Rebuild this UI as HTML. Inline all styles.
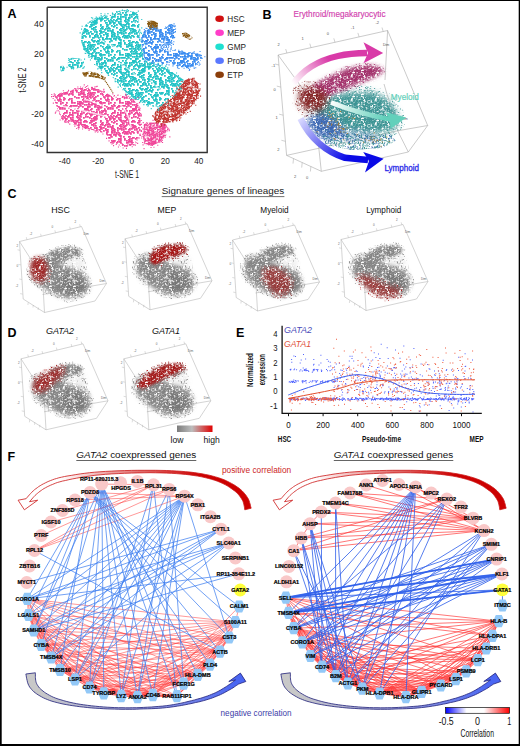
<!DOCTYPE html>
<html><head><meta charset="utf-8"><style>
html,body{margin:0;padding:0;background:#fff;width:520px;height:746px;overflow:hidden}
svg{display:block}
</style></head><body>
<svg width="520" height="746" viewBox="0 0 520 746" font-family="Liberation Sans, sans-serif">
<rect x="0" y="0" width="520" height="746" fill="#fff"/>
<defs><pattern id="pd" width="24" height="24" patternUnits="userSpaceOnUse"><path fill="#fff" d="M12.3 22.8h1.2v1.2h-1.2zM12.3 -1.2h1.2v1.2h-1.2zM3.5 22.8h1.2v1.2h-1.2zM7.5 10.2h1.2v1.2h-1.2zM19.9 9.8h1.2v1.2h-1.2zM13.2 0.7h1.2v1.2h-1.2zM18.1 12.9h1.2v1.2h-1.2zM7.9 18.9h1.2v1.2h-1.2zM7.3 10.9h1.2v1.2h-1.2zM3.2 9.7h1.2v1.2h-1.2zM4.9 6.3h1.2v1.2h-1.2zM18.0 6.7h1.2v1.2h-1.2zM11.6 23.5h1.2v1.2h-1.2zM11.6 -0.5h1.2v1.2h-1.2zM23.1 17.4h1.2v1.2h-1.2zM-0.9 17.4h1.2v1.2h-1.2zM13.0 6.6h1.2v1.2h-1.2zM3.9 23.3h1.2v1.2h-1.2zM3.9 -0.7h1.2v1.2h-1.2zM12.4 2.8h1.2v1.2h-1.2zM15.0 18.6h1.2v1.2h-1.2zM14.7 22.0h1.2v1.2h-1.2zM1.0 12.7h1.2v1.2h-1.2zM11.0 1.5h1.2v1.2h-1.2zM15.4 20.5h1.2v1.2h-1.2zM14.2 6.2h1.2v1.2h-1.2zM20.2 12.2h1.2v1.2h-1.2zM12.3 18.1h1.2v1.2h-1.2zM3.6 19.7h1.2v1.2h-1.2zM16.4 18.9h1.2v1.2h-1.2zM4.6 19.3h1.2v1.2h-1.2zM4.6 2.0h1.2v1.2h-1.2zM20.5 20.7h1.2v1.2h-1.2zM21.0 11.3h1.2v1.2h-1.2zM6.6 0.2h1.2v1.2h-1.2zM15.5 17.3h1.2v1.2h-1.2zM20.1 6.8h1.2v1.2h-1.2zM5.2 15.3h1.2v1.2h-1.2zM19.3 23.1h1.2v1.2h-1.2zM19.3 -0.9h1.2v1.2h-1.2zM3.6 11.6h1.2v1.2h-1.2zM21.5 10.1h1.2v1.2h-1.2zM14.1 0.6h1.2v1.2h-1.2zM16.2 22.1h1.2v1.2h-1.2zM19.8 21.3h1.2v1.2h-1.2zM15.8 5.9h1.2v1.2h-1.2zM18.4 5.1h1.2v1.2h-1.2zM20.0 1.5h1.2v1.2h-1.2zM19.8 3.9h1.2v1.2h-1.2zM9.0 7.6h1.2v1.2h-1.2zM16.6 4.3h1.2v1.2h-1.2zM9.5 0.1h1.2v1.2h-1.2zM6.3 10.1h1.2v1.2h-1.2zM2.5 15.2h1.2v1.2h-1.2zM9.1 17.4h1.2v1.2h-1.2zM15.7 10.3h1.2v1.2h-1.2zM20.8 15.2h1.2v1.2h-1.2zM19.4 8.2h1.2v1.2h-1.2zM13.0 4.7h1.2v1.2h-1.2zM23.9 5.8h1.2v1.2h-1.2zM-0.1 5.8h1.2v1.2h-1.2zM6.2 1.8h1.2v1.2h-1.2zM6.2 18.3h1.2v1.2h-1.2zM16.7 3.1h1.2v1.2h-1.2zM9.0 10.1h1.2v1.2h-1.2zM16.0 10.9h1.2v1.2h-1.2zM14.1 20.2h1.2v1.2h-1.2zM17.4 8.8h1.2v1.2h-1.2zM10.8 8.8h1.2v1.2h-1.2zM2.6 4.9h1.2v1.2h-1.2zM6.8 7.5h1.2v1.2h-1.2zM7.5 13.8h1.2v1.2h-1.2zM23.3 18.6h1.2v1.2h-1.2zM-0.7 18.6h1.2v1.2h-1.2zM19.0 18.2h1.2v1.2h-1.2zM14.3 22.0h1.2v1.2h-1.2zM16.6 12.0h1.2v1.2h-1.2zM1.9 11.7h1.2v1.2h-1.2zM5.1 3.2h1.2v1.2h-1.2zM12.1 18.8h1.2v1.2h-1.2zM7.1 18.5h1.2v1.2h-1.2zM12.6 3.6h1.2v1.2h-1.2zM23.2 9.6h1.2v1.2h-1.2zM-0.8 9.6h1.2v1.2h-1.2zM7.1 20.3h1.2v1.2h-1.2zM3.0 17.6h1.2v1.2h-1.2zM4.5 9.4h1.2v1.2h-1.2zM5.6 20.2h1.2v1.2h-1.2zM9.4 23.4h1.2v1.2h-1.2zM9.4 -0.6h1.2v1.2h-1.2zM15.0 16.6h1.2v1.2h-1.2zM12.5 7.4h1.2v1.2h-1.2zM9.5 22.6h1.2v1.2h-1.2zM4.8 23.7h1.2v1.2h-1.2zM4.8 -0.3h1.2v1.2h-1.2zM18.2 8.6h1.2v1.2h-1.2zM15.4 9.1h1.2v1.2h-1.2zM9.2 12.1h1.2v1.2h-1.2zM0.4 11.8h1.2v1.2h-1.2zM23.3 6.9h1.2v1.2h-1.2zM-0.7 6.9h1.2v1.2h-1.2zM18.0 10.6h1.2v1.2h-1.2zM5.0 21.7h1.2v1.2h-1.2zM0.4 7.3h1.2v1.2h-1.2zM24.0 6.3h1.2v1.2h-1.2zM-0.0 6.3h1.2v1.2h-1.2zM20.4 14.5h1.2v1.2h-1.2zM19.3 15.1h1.2v1.2h-1.2zM8.7 18.3h1.2v1.2h-1.2zM0.6 10.7h1.2v1.2h-1.2zM8.9 11.4h1.2v1.2h-1.2zM3.1 5.3h1.2v1.2h-1.2zM13.5 9.3h1.2v1.2h-1.2zM19.0 14.5h1.2v1.2h-1.2zM20.7 17.6h1.2v1.2h-1.2zM14.4 6.9h1.2v1.2h-1.2zM18.8 6.0h1.2v1.2h-1.2zM1.8 23.1h1.2v1.2h-1.2zM1.8 -0.9h1.2v1.2h-1.2zM13.0 18.6h1.2v1.2h-1.2zM12.7 14.7h1.2v1.2h-1.2zM0.8 4.5h1.2v1.2h-1.2zM16.2 13.7h1.2v1.2h-1.2zM3.8 22.8h1.2v1.2h-1.2zM3.8 -1.2h1.2v1.2h-1.2zM3.7 12.2h1.2v1.2h-1.2zM3.5 17.2h1.2v1.2h-1.2zM6.6 3.2h1.2v1.2h-1.2zM1.1 4.2h1.2v1.2h-1.2zM4.6 12.9h1.2v1.2h-1.2zM10.8 23.0h1.2v1.2h-1.2zM10.8 -1.0h1.2v1.2h-1.2zM22.9 19.1h1.2v1.2h-1.2zM-1.1 19.1h1.2v1.2h-1.2zM16.1 20.3h1.2v1.2h-1.2zM22.5 0.5h1.2v1.2h-1.2zM2.8 8.6h1.2v1.2h-1.2zM2.2 14.4h1.2v1.2h-1.2zM6.2 6.3h1.2v1.2h-1.2zM6.9 2.3h1.2v1.2h-1.2zM17.8 15.6h1.2v1.2h-1.2zM14.6 0.8h1.2v1.2h-1.2zM10.3 16.4h1.2v1.2h-1.2zM3.8 9.3h1.2v1.2h-1.2zM0.5 2.0h1.2v1.2h-1.2zM5.2 10.0h1.2v1.2h-1.2zM11.1 21.2h1.2v1.2h-1.2zM7.6 0.5h1.2v1.2h-1.2zM19.8 1.5h1.2v1.2h-1.2zM2.2 23.1h1.2v1.2h-1.2zM2.2 -0.9h1.2v1.2h-1.2zM18.1 8.1h1.2v1.2h-1.2zM3.2 9.3h1.2v1.2h-1.2zM8.1 21.0h1.2v1.2h-1.2zM10.1 2.0h1.2v1.2h-1.2zM22.2 14.9h1.2v1.2h-1.2zM2.8 2.7h1.2v1.2h-1.2zM11.2 2.2h1.2v1.2h-1.2zM15.2 14.8h1.2v1.2h-1.2zM0.8 19.4h1.2v1.2h-1.2zM18.9 22.0h1.2v1.2h-1.2zM16.1 16.6h1.2v1.2h-1.2zM3.9 0.6h1.2v1.2h-1.2zM1.6 23.1h1.2v1.2h-1.2zM1.6 -0.9h1.2v1.2h-1.2zM15.5 22.7h1.2v1.2h-1.2zM8.4 18.1h1.2v1.2h-1.2zM1.6 4.0h1.2v1.2h-1.2zM6.7 13.2h1.2v1.2h-1.2zM13.4 12.0h1.2v1.2h-1.2zM10.2 13.8h1.2v1.2h-1.2zM23.2 11.0h1.2v1.2h-1.2zM-0.8 11.0h1.2v1.2h-1.2zM20.1 1.3h1.2v1.2h-1.2zM9.3 13.5h1.2v1.2h-1.2zM14.9 6.0h1.2v1.2h-1.2zM9.6 22.7h1.2v1.2h-1.2zM15.6 14.0h1.2v1.2h-1.2zM1.6 1.3h1.2v1.2h-1.2zM5.1 3.3h1.2v1.2h-1.2zM23.6 0.1h1.2v1.2h-1.2zM-0.4 0.1h1.2v1.2h-1.2zM8.8 1.4h1.2v1.2h-1.2zM15.4 1.1h1.2v1.2h-1.2zM1.6 1.9h1.2v1.2h-1.2zM6.5 13.8h1.2v1.2h-1.2zM19.3 6.4h1.2v1.2h-1.2zM6.8 19.8h1.2v1.2h-1.2zM17.9 3.0h1.2v1.2h-1.2zM19.4 20.0h1.2v1.2h-1.2zM4.3 15.0h1.2v1.2h-1.2zM4.7 5.8h1.2v1.2h-1.2zM11.9 12.5h1.2v1.2h-1.2zM11.5 13.0h1.2v1.2h-1.2zM5.1 18.7h1.2v1.2h-1.2zM6.7 21.9h1.2v1.2h-1.2zM12.4 7.3h1.2v1.2h-1.2zM4.2 11.6h1.2v1.2h-1.2zM9.0 15.0h1.2v1.2h-1.2zM12.0 0.9h1.2v1.2h-1.2zM20.0 1.2h1.2v1.2h-1.2zM19.9 19.5h1.2v1.2h-1.2zM22.2 15.9h1.2v1.2h-1.2zM3.9 10.6h1.2v1.2h-1.2zM10.5 15.2h1.2v1.2h-1.2zM9.1 16.2h1.2v1.2h-1.2zM4.9 8.5h1.2v1.2h-1.2zM13.0 10.3h1.2v1.2h-1.2zM2.9 23.2h1.2v1.2h-1.2zM2.9 -0.8h1.2v1.2h-1.2zM16.6 20.0h1.2v1.2h-1.2zM8.6 22.7h1.2v1.2h-1.2zM19.5 23.5h1.2v1.2h-1.2zM19.5 -0.5h1.2v1.2h-1.2zM4.7 11.5h1.2v1.2h-1.2zM9.3 14.7h1.2v1.2h-1.2zM6.0 2.4h1.2v1.2h-1.2zM11.4 15.3h1.2v1.2h-1.2zM9.2 23.7h1.2v1.2h-1.2zM9.2 -0.3h1.2v1.2h-1.2zM9.7 7.2h1.2v1.2h-1.2zM19.5 11.2h1.2v1.2h-1.2zM6.6 6.9h1.2v1.2h-1.2zM22.7 23.1h1.2v1.2h-1.2zM22.7 -0.9h1.2v1.2h-1.2zM15.5 6.7h1.2v1.2h-1.2zM17.1 5.2h1.2v1.2h-1.2zM7.7 13.0h1.2v1.2h-1.2zM9.6 8.4h1.2v1.2h-1.2zM23.4 4.1h1.2v1.2h-1.2zM-0.6 4.1h1.2v1.2h-1.2zM14.7 0.9h1.2v1.2h-1.2zM2.2 5.0h1.2v1.2h-1.2zM23.8 17.4h1.2v1.2h-1.2zM-0.2 17.4h1.2v1.2h-1.2zM20.8 1.2h1.2v1.2h-1.2zM16.4 10.6h1.2v1.2h-1.2zM10.0 17.0h1.2v1.2h-1.2zM7.4 12.3h1.2v1.2h-1.2zM6.3 9.4h1.2v1.2h-1.2zM12.8 3.8h1.2v1.2h-1.2zM6.6 10.1h1.2v1.2h-1.2zM11.3 19.2h1.2v1.2h-1.2zM15.4 13.5h1.2v1.2h-1.2zM20.9 4.7h1.2v1.2h-1.2zM2.5 9.4h1.2v1.2h-1.2zM3.3 13.3h1.2v1.2h-1.2zM13.8 3.2h1.2v1.2h-1.2zM17.2 13.4h1.2v1.2h-1.2zM10.2 22.0h1.2v1.2h-1.2zM20.5 5.3h1.2v1.2h-1.2zM4.0 22.0h1.2v1.2h-1.2zM3.8 18.2h1.2v1.2h-1.2zM7.5 8.7h1.2v1.2h-1.2zM13.3 22.2h1.2v1.2h-1.2zM0.0 3.9h1.2v1.2h-1.2zM17.3 9.5h1.2v1.2h-1.2zM6.9 23.1h1.2v1.2h-1.2zM6.9 -0.9h1.2v1.2h-1.2zM6.3 17.1h1.2v1.2h-1.2zM23.1 18.3h1.2v1.2h-1.2zM-0.9 18.3h1.2v1.2h-1.2zM17.0 17.4h1.2v1.2h-1.2zM19.3 6.5h1.2v1.2h-1.2zM15.0 19.3h1.2v1.2h-1.2zM21.3 21.7h1.2v1.2h-1.2zM21.7 2.3h1.2v1.2h-1.2zM9.0 11.0h1.2v1.2h-1.2zM21.4 10.1h1.2v1.2h-1.2zM6.4 0.5h1.2v1.2h-1.2zM6.9 18.7h1.2v1.2h-1.2zM0.5 4.0h1.2v1.2h-1.2zM7.5 12.8h1.2v1.2h-1.2zM8.7 21.2h1.2v1.2h-1.2zM5.0 13.5h1.2v1.2h-1.2zM18.7 22.3h1.2v1.2h-1.2zM21.0 3.3h1.2v1.2h-1.2zM19.0 16.2h1.2v1.2h-1.2zM10.1 0.6h1.2v1.2h-1.2zM4.0 18.0h1.2v1.2h-1.2zM2.0 7.5h1.2v1.2h-1.2zM6.1 17.9h1.2v1.2h-1.2zM8.6 2.1h1.2v1.2h-1.2zM8.9 7.8h1.2v1.2h-1.2zM17.2 7.7h1.2v1.2h-1.2zM16.6 12.9h1.2v1.2h-1.2zM21.3 17.6h1.2v1.2h-1.2zM9.8 11.6h1.2v1.2h-1.2zM11.3 20.9h1.2v1.2h-1.2zM3.3 10.2h1.2v1.2h-1.2zM12.8 10.5h1.2v1.2h-1.2zM14.4 12.0h1.2v1.2h-1.2zM9.9 16.5h1.2v1.2h-1.2zM7.9 14.6h1.2v1.2h-1.2zM17.5 3.1h1.2v1.2h-1.2zM7.8 22.7h1.2v1.2h-1.2zM23.2 23.8h1.2v1.2h-1.2zM23.2 -0.2h1.2v1.2h-1.2zM-0.8 23.8h1.2v1.2h-1.2zM-0.8 -0.2h1.2v1.2h-1.2zM1.0 19.8h1.2v1.2h-1.2zM22.4 21.6h1.2v1.2h-1.2zM17.2 16.2h1.2v1.2h-1.2zM17.3 13.8h1.2v1.2h-1.2zM18.9 12.0h1.2v1.2h-1.2zM5.4 2.3h1.2v1.2h-1.2zM21.8 18.1h1.2v1.2h-1.2zM4.3 19.7h1.2v1.2h-1.2zM7.2 15.3h1.2v1.2h-1.2zM8.5 5.1h1.2v1.2h-1.2zM4.2 1.7h1.2v1.2h-1.2zM1.8 1.7h1.2v1.2h-1.2zM2.2 20.0h1.2v1.2h-1.2zM12.4 3.1h1.2v1.2h-1.2zM12.6 13.0h1.2v1.2h-1.2zM11.9 5.0h1.2v1.2h-1.2zM10.4 20.9h1.2v1.2h-1.2zM9.2 12.1h1.2v1.2h-1.2zM22.3 5.6h1.2v1.2h-1.2zM17.4 11.6h1.2v1.2h-1.2zM18.9 8.6h1.2v1.2h-1.2zM13.0 8.8h1.2v1.2h-1.2zM20.8 22.0h1.2v1.2h-1.2zM15.2 23.5h1.2v1.2h-1.2zM15.2 -0.5h1.2v1.2h-1.2zM17.6 19.9h1.2v1.2h-1.2zM21.5 6.5h1.2v1.2h-1.2zM23.7 9.4h1.2v1.2h-1.2zM-0.3 9.4h1.2v1.2h-1.2zM11.9 4.3h1.2v1.2h-1.2zM19.7 8.1h1.2v1.2h-1.2zM16.5 5.2h1.2v1.2h-1.2zM8.4 9.2h1.2v1.2h-1.2zM5.7 0.8h1.2v1.2h-1.2zM18.5 22.8h1.2v1.2h-1.2zM18.5 -1.2h1.2v1.2h-1.2zM5.4 3.9h1.2v1.2h-1.2zM8.3 2.0h1.2v1.2h-1.2zM15.6 8.8h1.2v1.2h-1.2zM13.5 21.7h1.2v1.2h-1.2zM20.7 22.1h1.2v1.2h-1.2zM22.4 14.2h1.2v1.2h-1.2zM12.1 0.9h1.2v1.2h-1.2zM2.5 12.6h1.2v1.2h-1.2zM20.5 10.4h1.2v1.2h-1.2zM0.1 5.1h1.2v1.2h-1.2zM18.2 3.8h1.2v1.2h-1.2zM4.8 6.9h1.2v1.2h-1.2zM14.6 20.1h1.2v1.2h-1.2zM5.3 14.4h1.2v1.2h-1.2zM12.7 10.7h1.2v1.2h-1.2zM13.9 19.5h1.2v1.2h-1.2zM5.2 11.9h1.2v1.2h-1.2zM2.4 12.3h1.2v1.2h-1.2zM19.0 24.0h1.2v1.2h-1.2zM19.0 -0.0h1.2v1.2h-1.2zM11.4 7.1h1.2v1.2h-1.2zM13.9 8.9h1.2v1.2h-1.2zM2.8 12.6h1.2v1.2h-1.2zM19.2 21.4h1.2v1.2h-1.2zM23.5 8.8h1.2v1.2h-1.2zM-0.5 8.8h1.2v1.2h-1.2zM6.0 2.7h1.2v1.2h-1.2zM10.5 19.4h1.2v1.2h-1.2zM5.6 20.4h1.2v1.2h-1.2zM17.1 4.8h1.2v1.2h-1.2zM15.2 19.7h1.2v1.2h-1.2zM22.4 3.9h1.2v1.2h-1.2zM19.7 18.6h1.2v1.2h-1.2zM5.8 7.1h1.2v1.2h-1.2zM23.0 8.7h1.2v1.2h-1.2zM-1.0 8.7h1.2v1.2h-1.2zM6.9 17.3h1.2v1.2h-1.2zM3.2 11.6h1.2v1.2h-1.2zM8.6 13.1h1.2v1.2h-1.2zM14.5 15.4h1.2v1.2h-1.2zM10.4 21.3h1.2v1.2h-1.2zM20.1 22.4h1.2v1.2h-1.2zM10.7 17.5h1.2v1.2h-1.2zM10.3 6.7h1.2v1.2h-1.2zM15.6 22.7h1.2v1.2h-1.2zM19.3 6.8h1.2v1.2h-1.2zM5.5 18.5h1.2v1.2h-1.2zM16.9 20.7h1.2v1.2h-1.2zM3.5 20.7h1.2v1.2h-1.2zM10.4 6.6h1.2v1.2h-1.2zM8.2 23.8h1.2v1.2h-1.2zM8.2 -0.2h1.2v1.2h-1.2zM22.9 2.0h1.2v1.2h-1.2zM-1.1 2.0h1.2v1.2h-1.2zM7.6 17.3h1.2v1.2h-1.2zM0.8 0.9h1.2v1.2h-1.2zM1.1 20.8h1.2v1.2h-1.2zM8.0 7.6h1.2v1.2h-1.2zM19.0 7.6h1.2v1.2h-1.2zM17.7 8.9h1.2v1.2h-1.2zM7.1 9.3h1.2v1.2h-1.2zM4.0 1.8h1.2v1.2h-1.2zM20.9 20.8h1.2v1.2h-1.2zM11.1 16.5h1.2v1.2h-1.2zM20.7 9.4h1.2v1.2h-1.2zM17.1 18.1h1.2v1.2h-1.2zM1.9 3.3h1.2v1.2h-1.2zM18.0 16.9h1.2v1.2h-1.2zM4.4 19.8h1.2v1.2h-1.2zM19.2 8.0h1.2v1.2h-1.2zM8.2 2.7h1.2v1.2h-1.2zM10.7 2.6h1.2v1.2h-1.2zM13.0 15.0h1.2v1.2h-1.2zM14.0 1.7h1.2v1.2h-1.2zM14.9 18.1h1.2v1.2h-1.2zM3.4 14.3h1.2v1.2h-1.2zM19.7 4.6h1.2v1.2h-1.2zM21.9 23.3h1.2v1.2h-1.2zM21.9 -0.7h1.2v1.2h-1.2zM17.1 20.9h1.2v1.2h-1.2zM6.5 16.0h1.2v1.2h-1.2zM22.2 1.1h1.2v1.2h-1.2zM19.7 5.7h1.2v1.2h-1.2zM19.2 15.4h1.2v1.2h-1.2zM19.2 9.6h1.2v1.2h-1.2zM10.8 22.2h1.2v1.2h-1.2zM1.7 3.7h1.2v1.2h-1.2zM23.3 21.9h1.2v1.2h-1.2zM-0.7 21.9h1.2v1.2h-1.2zM3.5 23.4h1.2v1.2h-1.2zM3.5 -0.6h1.2v1.2h-1.2zM6.4 21.4h1.2v1.2h-1.2zM21.7 0.6h1.2v1.2h-1.2zM0.2 7.8h1.2v1.2h-1.2zM22.3 19.0h1.2v1.2h-1.2zM9.3 20.6h1.2v1.2h-1.2zM7.4 8.3h1.2v1.2h-1.2zM4.6 23.0h1.2v1.2h-1.2zM4.6 -1.0h1.2v1.2h-1.2zM19.3 11.1h1.2v1.2h-1.2zM6.3 23.2h1.2v1.2h-1.2zM6.3 -0.8h1.2v1.2h-1.2zM9.5 5.1h1.2v1.2h-1.2zM10.2 17.3h1.2v1.2h-1.2zM18.5 2.6h1.2v1.2h-1.2zM22.7 16.2h1.2v1.2h-1.2zM1.5 20.1h1.2v1.2h-1.2zM23.3 20.1h1.2v1.2h-1.2zM-0.7 20.1h1.2v1.2h-1.2zM0.2 11.4h1.2v1.2h-1.2zM14.1 21.3h1.2v1.2h-1.2zM12.1 1.9h1.2v1.2h-1.2zM22.4 22.8h1.2v1.2h-1.2zM22.4 -1.2h1.2v1.2h-1.2zM11.7 1.3h1.2v1.2h-1.2zM20.1 17.8h1.2v1.2h-1.2zM23.3 0.2h1.2v1.2h-1.2zM-0.7 0.2h1.2v1.2h-1.2zM10.5 6.8h1.2v1.2h-1.2zM2.6 17.6h1.2v1.2h-1.2zM8.2 0.9h1.2v1.2h-1.2zM3.2 19.3h1.2v1.2h-1.2zM14.5 5.2h1.2v1.2h-1.2zM16.7 3.1h1.2v1.2h-1.2zM16.2 15.7h1.2v1.2h-1.2zM0.1 12.3h1.2v1.2h-1.2zM17.4 18.2h1.2v1.2h-1.2zM16.9 21.2h1.2v1.2h-1.2zM18.1 22.1h1.2v1.2h-1.2zM10.0 0.8h1.2v1.2h-1.2zM4.3 6.9h1.2v1.2h-1.2zM1.0 2.6h1.2v1.2h-1.2zM12.5 6.1h1.2v1.2h-1.2zM6.9 17.8h1.2v1.2h-1.2zM20.5 20.7h1.2v1.2h-1.2zM8.9 17.0h1.2v1.2h-1.2zM20.5 3.6h1.2v1.2h-1.2zM4.8 15.6h1.2v1.2h-1.2zM6.4 4.6h1.2v1.2h-1.2zM8.8 0.4h1.2v1.2h-1.2zM10.5 1.1h1.2v1.2h-1.2zM5.9 5.2h1.2v1.2h-1.2zM7.9 3.0h1.2v1.2h-1.2zM11.3 16.5h1.2v1.2h-1.2zM8.1 22.3h1.2v1.2h-1.2zM20.6 7.3h1.2v1.2h-1.2zM0.9 18.4h1.2v1.2h-1.2zM5.8 8.0h1.2v1.2h-1.2zM13.9 24.0h1.2v1.2h-1.2zM13.9 -0.0h1.2v1.2h-1.2zM7.2 11.2h1.2v1.2h-1.2zM15.1 16.4h1.2v1.2h-1.2zM5.1 14.3h1.2v1.2h-1.2zM13.1 15.8h1.2v1.2h-1.2zM2.8 3.0h1.2v1.2h-1.2zM23.4 19.7h1.2v1.2h-1.2zM-0.6 19.7h1.2v1.2h-1.2zM19.9 22.4h1.2v1.2h-1.2zM23.1 9.4h1.2v1.2h-1.2zM-0.9 9.4h1.2v1.2h-1.2zM18.1 15.4h1.2v1.2h-1.2zM13.4 16.3h1.2v1.2h-1.2zM7.7 20.7h1.2v1.2h-1.2zM9.8 3.6h1.2v1.2h-1.2zM0.3 15.3h1.2v1.2h-1.2zM5.6 22.9h1.2v1.2h-1.2zM5.6 -1.1h1.2v1.2h-1.2zM4.7 7.6h1.2v1.2h-1.2zM23.6 12.5h1.2v1.2h-1.2zM-0.4 12.5h1.2v1.2h-1.2zM22.1 18.8h1.2v1.2h-1.2zM2.9 5.2h1.2v1.2h-1.2zM9.3 21.1h1.2v1.2h-1.2zM8.0 11.1h1.2v1.2h-1.2zM11.5 7.8h1.2v1.2h-1.2zM18.9 1.3h1.2v1.2h-1.2zM5.4 19.8h1.2v1.2h-1.2zM14.8 12.3h1.2v1.2h-1.2zM8.9 3.1h1.2v1.2h-1.2zM11.0 23.7h1.2v1.2h-1.2zM11.0 -0.3h1.2v1.2h-1.2zM14.3 13.8h1.2v1.2h-1.2zM23.8 21.2h1.2v1.2h-1.2zM-0.2 21.2h1.2v1.2h-1.2zM24.0 22.9h1.2v1.2h-1.2zM24.0 -1.1h1.2v1.2h-1.2zM-0.0 22.9h1.2v1.2h-1.2zM-0.0 -1.1h1.2v1.2h-1.2zM16.0 7.3h1.2v1.2h-1.2zM15.1 8.4h1.2v1.2h-1.2zM19.5 3.3h1.2v1.2h-1.2zM11.1 20.2h1.2v1.2h-1.2zM10.9 14.4h1.2v1.2h-1.2zM2.4 6.8h1.2v1.2h-1.2zM22.9 15.8h1.2v1.2h-1.2zM-1.1 15.8h1.2v1.2h-1.2zM8.8 12.4h1.2v1.2h-1.2zM18.6 18.9h1.2v1.2h-1.2zM19.9 7.0h1.2v1.2h-1.2zM5.7 15.3h1.2v1.2h-1.2zM12.7 13.6h1.2v1.2h-1.2zM5.2 7.6h1.2v1.2h-1.2zM18.0 8.6h1.2v1.2h-1.2zM18.2 1.1h1.2v1.2h-1.2zM22.8 5.0h1.2v1.2h-1.2zM-1.2 5.0h1.2v1.2h-1.2zM11.5 22.1h1.2v1.2h-1.2zM6.1 5.5h1.2v1.2h-1.2zM23.7 21.7h1.2v1.2h-1.2zM-0.3 21.7h1.2v1.2h-1.2zM12.8 1.5h1.2v1.2h-1.2zM14.5 6.0h1.2v1.2h-1.2zM5.1 22.4h1.2v1.2h-1.2zM14.9 10.7h1.2v1.2h-1.2zM1.5 8.9h1.2v1.2h-1.2zM20.7 7.3h1.2v1.2h-1.2zM7.7 14.6h1.2v1.2h-1.2zM6.1 13.4h1.2v1.2h-1.2zM18.4 6.9h1.2v1.2h-1.2zM11.3 13.8h1.2v1.2h-1.2zM8.7 5.4h1.2v1.2h-1.2zM2.7 13.6h1.2v1.2h-1.2zM22.5 0.5h1.2v1.2h-1.2zM20.8 23.1h1.2v1.2h-1.2zM20.8 -0.9h1.2v1.2h-1.2zM13.0 23.2h1.2v1.2h-1.2zM13.0 -0.8h1.2v1.2h-1.2zM16.9 13.1h1.2v1.2h-1.2zM11.1 11.2h1.2v1.2h-1.2zM16.4 5.6h1.2v1.2h-1.2zM17.2 11.8h1.2v1.2h-1.2zM16.2 22.6h1.2v1.2h-1.2zM5.6 9.7h1.2v1.2h-1.2zM6.6 1.3h1.2v1.2h-1.2zM14.9 15.1h1.2v1.2h-1.2zM24.0 14.4h1.2v1.2h-1.2zM-0.0 14.4h1.2v1.2h-1.2zM9.5 21.6h1.2v1.2h-1.2zM0.4 7.3h1.2v1.2h-1.2zM18.0 3.9h1.2v1.2h-1.2zM8.7 20.4h1.2v1.2h-1.2zM8.3 5.8h1.2v1.2h-1.2zM21.4 1.9h1.2v1.2h-1.2zM20.6 7.6h1.2v1.2h-1.2zM5.0 11.7h1.2v1.2h-1.2zM11.6 23.2h1.2v1.2h-1.2zM11.6 -0.8h1.2v1.2h-1.2zM18.1 11.0h1.2v1.2h-1.2z"/></pattern><mask id="md" maskUnits="userSpaceOnUse" x="0" y="0" width="520" height="746"><rect width="520" height="746" fill="url(#pd)"/></mask><pattern id="ps" width="24" height="24" patternUnits="userSpaceOnUse"><path fill="#fff" d="M6.3 7.2h1.0v1.0h-1.0zM19.5 2.2h1.0v1.0h-1.0zM14.4 17.5h1.0v1.0h-1.0zM4.5 1.3h1.0v1.0h-1.0zM6.6 15.8h1.0v1.0h-1.0zM13.5 3.6h1.0v1.0h-1.0zM10.4 16.1h1.0v1.0h-1.0zM10.1 15.2h1.0v1.0h-1.0zM23.2 16.4h1.0v1.0h-1.0zM-0.8 16.4h1.0v1.0h-1.0zM9.4 4.5h1.0v1.0h-1.0zM8.3 12.3h1.0v1.0h-1.0zM21.4 18.6h1.0v1.0h-1.0zM7.6 22.2h1.0v1.0h-1.0zM11.3 16.7h1.0v1.0h-1.0zM2.6 2.5h1.0v1.0h-1.0zM4.8 21.2h1.0v1.0h-1.0zM16.3 20.4h1.0v1.0h-1.0zM15.5 9.8h1.0v1.0h-1.0zM12.4 14.2h1.0v1.0h-1.0zM20.7 10.5h1.0v1.0h-1.0zM21.4 14.7h1.0v1.0h-1.0zM19.9 12.0h1.0v1.0h-1.0zM16.6 8.1h1.0v1.0h-1.0zM12.5 5.2h1.0v1.0h-1.0zM2.4 0.9h1.0v1.0h-1.0zM16.8 11.0h1.0v1.0h-1.0zM21.5 20.0h1.0v1.0h-1.0zM9.2 23.4h1.0v1.0h-1.0zM9.2 -0.6h1.0v1.0h-1.0zM14.2 18.4h1.0v1.0h-1.0zM9.8 4.7h1.0v1.0h-1.0zM4.1 4.3h1.0v1.0h-1.0zM14.5 2.7h1.0v1.0h-1.0zM0.5 20.0h1.0v1.0h-1.0zM2.4 10.8h1.0v1.0h-1.0zM11.7 14.9h1.0v1.0h-1.0zM12.1 22.5h1.0v1.0h-1.0zM18.0 13.8h1.0v1.0h-1.0zM14.8 12.2h1.0v1.0h-1.0zM23.2 5.4h1.0v1.0h-1.0zM-0.8 5.4h1.0v1.0h-1.0zM16.5 13.3h1.0v1.0h-1.0zM1.0 7.1h1.0v1.0h-1.0zM22.3 18.8h1.0v1.0h-1.0zM0.3 7.1h1.0v1.0h-1.0zM0.2 19.9h1.0v1.0h-1.0zM2.6 1.4h1.0v1.0h-1.0zM23.6 10.7h1.0v1.0h-1.0zM-0.4 10.7h1.0v1.0h-1.0zM7.6 1.2h1.0v1.0h-1.0zM9.4 8.8h1.0v1.0h-1.0zM12.6 0.2h1.0v1.0h-1.0zM3.6 5.0h1.0v1.0h-1.0zM10.6 7.3h1.0v1.0h-1.0zM14.7 6.9h1.0v1.0h-1.0zM21.8 23.1h1.0v1.0h-1.0zM21.8 -0.9h1.0v1.0h-1.0zM1.4 5.0h1.0v1.0h-1.0zM13.5 18.5h1.0v1.0h-1.0zM1.5 4.4h1.0v1.0h-1.0zM11.0 16.0h1.0v1.0h-1.0zM21.7 20.8h1.0v1.0h-1.0zM19.1 1.3h1.0v1.0h-1.0zM23.4 14.8h1.0v1.0h-1.0zM-0.6 14.8h1.0v1.0h-1.0zM2.1 6.1h1.0v1.0h-1.0zM14.9 9.3h1.0v1.0h-1.0zM10.7 19.3h1.0v1.0h-1.0zM19.8 13.1h1.0v1.0h-1.0zM19.0 9.7h1.0v1.0h-1.0zM23.4 14.5h1.0v1.0h-1.0zM-0.6 14.5h1.0v1.0h-1.0zM23.2 1.1h1.0v1.0h-1.0zM-0.8 1.1h1.0v1.0h-1.0zM21.2 13.4h1.0v1.0h-1.0zM17.1 4.6h1.0v1.0h-1.0zM13.2 6.9h1.0v1.0h-1.0zM2.5 0.1h1.0v1.0h-1.0zM21.8 16.1h1.0v1.0h-1.0zM4.9 6.2h1.0v1.0h-1.0zM11.2 19.6h1.0v1.0h-1.0zM2.8 23.2h1.0v1.0h-1.0zM2.8 -0.8h1.0v1.0h-1.0zM22.7 5.9h1.0v1.0h-1.0zM15.4 8.6h1.0v1.0h-1.0zM16.7 2.1h1.0v1.0h-1.0zM11.3 14.1h1.0v1.0h-1.0zM15.0 16.6h1.0v1.0h-1.0zM21.4 5.8h1.0v1.0h-1.0zM3.7 9.4h1.0v1.0h-1.0zM13.7 23.1h1.0v1.0h-1.0zM13.7 -0.9h1.0v1.0h-1.0zM17.1 17.7h1.0v1.0h-1.0zM23.3 6.4h1.0v1.0h-1.0zM-0.7 6.4h1.0v1.0h-1.0zM6.2 10.1h1.0v1.0h-1.0zM7.1 15.6h1.0v1.0h-1.0zM22.8 3.7h1.0v1.0h-1.0zM12.4 16.3h1.0v1.0h-1.0zM11.8 21.9h1.0v1.0h-1.0zM17.7 21.2h1.0v1.0h-1.0zM2.7 4.7h1.0v1.0h-1.0zM1.6 19.9h1.0v1.0h-1.0zM23.1 0.3h1.0v1.0h-1.0zM-0.9 0.3h1.0v1.0h-1.0zM18.9 17.5h1.0v1.0h-1.0zM21.8 6.5h1.0v1.0h-1.0zM17.2 5.7h1.0v1.0h-1.0zM1.8 17.9h1.0v1.0h-1.0zM1.0 16.8h1.0v1.0h-1.0zM6.8 11.7h1.0v1.0h-1.0zM21.4 5.8h1.0v1.0h-1.0zM11.2 8.5h1.0v1.0h-1.0zM4.6 11.4h1.0v1.0h-1.0zM4.4 19.2h1.0v1.0h-1.0zM14.8 6.8h1.0v1.0h-1.0zM23.4 8.3h1.0v1.0h-1.0zM-0.6 8.3h1.0v1.0h-1.0zM16.1 17.6h1.0v1.0h-1.0zM6.4 0.3h1.0v1.0h-1.0zM21.4 23.0h1.0v1.0h-1.0zM4.1 3.7h1.0v1.0h-1.0zM10.4 14.3h1.0v1.0h-1.0zM23.7 23.1h1.0v1.0h-1.0zM23.7 -0.9h1.0v1.0h-1.0zM-0.3 23.1h1.0v1.0h-1.0zM-0.3 -0.9h1.0v1.0h-1.0zM23.7 5.9h1.0v1.0h-1.0zM-0.3 5.9h1.0v1.0h-1.0zM14.4 10.5h1.0v1.0h-1.0zM5.6 1.6h1.0v1.0h-1.0zM4.0 8.6h1.0v1.0h-1.0zM2.1 3.6h1.0v1.0h-1.0zM1.1 14.9h1.0v1.0h-1.0zM11.8 5.8h1.0v1.0h-1.0zM12.6 10.2h1.0v1.0h-1.0zM15.8 22.4h1.0v1.0h-1.0zM8.5 15.5h1.0v1.0h-1.0zM5.3 22.6h1.0v1.0h-1.0zM14.8 3.8h1.0v1.0h-1.0zM6.2 3.8h1.0v1.0h-1.0zM4.3 7.4h1.0v1.0h-1.0zM19.8 11.0h1.0v1.0h-1.0zM6.7 10.1h1.0v1.0h-1.0zM6.4 17.6h1.0v1.0h-1.0zM1.4 6.9h1.0v1.0h-1.0zM7.8 4.4h1.0v1.0h-1.0zM17.7 4.3h1.0v1.0h-1.0zM7.2 1.4h1.0v1.0h-1.0zM18.1 8.7h1.0v1.0h-1.0zM15.7 5.2h1.0v1.0h-1.0zM0.5 7.7h1.0v1.0h-1.0zM18.7 20.1h1.0v1.0h-1.0zM8.4 20.3h1.0v1.0h-1.0zM1.2 12.5h1.0v1.0h-1.0zM6.2 10.5h1.0v1.0h-1.0zM5.3 21.4h1.0v1.0h-1.0zM7.3 22.7h1.0v1.0h-1.0zM2.6 10.3h1.0v1.0h-1.0zM10.6 17.0h1.0v1.0h-1.0zM8.3 11.8h1.0v1.0h-1.0zM1.7 7.5h1.0v1.0h-1.0zM17.4 2.5h1.0v1.0h-1.0zM11.1 5.7h1.0v1.0h-1.0zM4.0 2.9h1.0v1.0h-1.0zM19.5 16.5h1.0v1.0h-1.0zM9.1 9.4h1.0v1.0h-1.0zM17.5 14.5h1.0v1.0h-1.0zM22.0 22.1h1.0v1.0h-1.0zM11.6 15.8h1.0v1.0h-1.0zM13.1 7.4h1.0v1.0h-1.0zM10.9 17.3h1.0v1.0h-1.0zM13.3 15.2h1.0v1.0h-1.0zM11.7 22.9h1.0v1.0h-1.0zM18.6 3.1h1.0v1.0h-1.0zM19.5 22.0h1.0v1.0h-1.0zM19.6 8.2h1.0v1.0h-1.0zM8.8 5.8h1.0v1.0h-1.0zM1.3 11.3h1.0v1.0h-1.0zM20.4 18.5h1.0v1.0h-1.0zM15.9 20.3h1.0v1.0h-1.0zM15.8 5.4h1.0v1.0h-1.0zM19.3 8.8h1.0v1.0h-1.0zM21.4 7.8h1.0v1.0h-1.0zM2.2 17.5h1.0v1.0h-1.0zM2.6 20.9h1.0v1.0h-1.0zM9.9 18.7h1.0v1.0h-1.0zM1.3 13.1h1.0v1.0h-1.0zM16.2 3.1h1.0v1.0h-1.0zM14.6 3.4h1.0v1.0h-1.0zM7.3 8.8h1.0v1.0h-1.0zM14.9 3.1h1.0v1.0h-1.0zM4.4 18.8h1.0v1.0h-1.0zM17.2 10.9h1.0v1.0h-1.0zM6.8 16.6h1.0v1.0h-1.0zM11.2 7.5h1.0v1.0h-1.0zM21.0 4.8h1.0v1.0h-1.0zM19.3 14.8h1.0v1.0h-1.0zM15.5 16.4h1.0v1.0h-1.0zM18.0 21.1h1.0v1.0h-1.0zM22.1 6.1h1.0v1.0h-1.0zM3.9 21.5h1.0v1.0h-1.0zM4.9 5.3h1.0v1.0h-1.0zM19.3 23.2h1.0v1.0h-1.0zM19.3 -0.8h1.0v1.0h-1.0zM20.3 12.4h1.0v1.0h-1.0zM9.0 23.7h1.0v1.0h-1.0zM9.0 -0.3h1.0v1.0h-1.0zM17.7 15.1h1.0v1.0h-1.0zM0.3 4.7h1.0v1.0h-1.0zM0.3 21.8h1.0v1.0h-1.0zM5.7 4.1h1.0v1.0h-1.0zM14.0 4.9h1.0v1.0h-1.0zM13.1 22.8h1.0v1.0h-1.0zM20.7 5.9h1.0v1.0h-1.0zM22.0 9.6h1.0v1.0h-1.0zM12.6 7.8h1.0v1.0h-1.0zM24.0 7.4h1.0v1.0h-1.0zM-0.0 7.4h1.0v1.0h-1.0zM17.7 14.9h1.0v1.0h-1.0zM16.5 2.5h1.0v1.0h-1.0zM12.9 23.9h1.0v1.0h-1.0zM12.9 -0.1h1.0v1.0h-1.0zM13.5 4.7h1.0v1.0h-1.0zM1.3 7.9h1.0v1.0h-1.0zM17.9 0.6h1.0v1.0h-1.0zM1.2 15.8h1.0v1.0h-1.0zM21.2 10.5h1.0v1.0h-1.0zM15.0 6.2h1.0v1.0h-1.0zM6.5 11.4h1.0v1.0h-1.0zM5.3 10.9h1.0v1.0h-1.0zM3.6 22.2h1.0v1.0h-1.0zM15.6 2.3h1.0v1.0h-1.0zM4.6 19.9h1.0v1.0h-1.0zM8.9 6.2h1.0v1.0h-1.0zM0.6 16.2h1.0v1.0h-1.0zM13.7 20.2h1.0v1.0h-1.0zM4.1 18.1h1.0v1.0h-1.0zM19.8 19.8h1.0v1.0h-1.0zM17.9 10.6h1.0v1.0h-1.0z"/></pattern><mask id="ms" maskUnits="userSpaceOnUse" x="0" y="0" width="520" height="746"><rect width="520" height="746" fill="url(#ps)"/></mask><pattern id="pv" width="24" height="24" patternUnits="userSpaceOnUse"><path fill="#fff" d="M2.1 5.7h0.9v0.9h-0.9zM19.2 14.0h0.9v0.9h-0.9zM2.3 10.4h0.9v0.9h-0.9zM11.5 3.8h0.9v0.9h-0.9zM17.6 2.7h0.9v0.9h-0.9zM9.4 12.4h0.9v0.9h-0.9zM10.3 14.1h0.9v0.9h-0.9zM17.7 23.0h0.9v0.9h-0.9zM6.8 15.6h0.9v0.9h-0.9zM16.7 7.0h0.9v0.9h-0.9zM0.0 23.4h0.9v0.9h-0.9zM0.0 -0.6h0.9v0.9h-0.9zM7.2 7.5h0.9v0.9h-0.9zM21.4 14.0h0.9v0.9h-0.9zM11.3 18.6h0.9v0.9h-0.9zM0.7 17.0h0.9v0.9h-0.9zM9.0 2.2h0.9v0.9h-0.9zM15.9 22.4h0.9v0.9h-0.9zM5.0 15.1h0.9v0.9h-0.9zM7.2 17.8h0.9v0.9h-0.9zM17.3 5.2h0.9v0.9h-0.9zM19.9 15.8h0.9v0.9h-0.9zM16.4 19.7h0.9v0.9h-0.9zM10.3 18.2h0.9v0.9h-0.9zM21.1 2.5h0.9v0.9h-0.9zM20.4 9.5h0.9v0.9h-0.9zM11.5 3.5h0.9v0.9h-0.9zM16.8 7.0h0.9v0.9h-0.9zM20.9 6.6h0.9v0.9h-0.9zM13.5 9.6h0.9v0.9h-0.9zM14.7 4.7h0.9v0.9h-0.9zM4.3 17.9h0.9v0.9h-0.9zM18.1 13.6h0.9v0.9h-0.9zM22.1 4.9h0.9v0.9h-0.9zM20.4 4.1h0.9v0.9h-0.9zM23.1 15.0h0.9v0.9h-0.9zM-0.9 15.0h0.9v0.9h-0.9zM14.6 23.3h0.9v0.9h-0.9zM14.6 -0.7h0.9v0.9h-0.9zM18.9 19.0h0.9v0.9h-0.9zM1.3 8.9h0.9v0.9h-0.9zM2.0 4.6h0.9v0.9h-0.9zM5.1 20.6h0.9v0.9h-0.9zM3.0 7.1h0.9v0.9h-0.9zM11.8 20.4h0.9v0.9h-0.9zM23.2 17.0h0.9v0.9h-0.9zM-0.8 17.0h0.9v0.9h-0.9zM5.1 13.1h0.9v0.9h-0.9zM16.9 1.2h0.9v0.9h-0.9zM16.3 8.8h0.9v0.9h-0.9zM14.2 16.1h0.9v0.9h-0.9zM16.1 12.6h0.9v0.9h-0.9zM13.3 4.8h0.9v0.9h-0.9zM11.9 3.0h0.9v0.9h-0.9zM11.5 12.9h0.9v0.9h-0.9zM18.6 9.4h0.9v0.9h-0.9zM0.5 12.7h0.9v0.9h-0.9zM4.9 17.8h0.9v0.9h-0.9zM9.3 9.1h0.9v0.9h-0.9zM21.8 9.4h0.9v0.9h-0.9zM8.4 8.4h0.9v0.9h-0.9zM11.5 2.2h0.9v0.9h-0.9zM13.1 22.1h0.9v0.9h-0.9zM13.5 17.9h0.9v0.9h-0.9zM22.7 20.2h0.9v0.9h-0.9zM17.9 19.5h0.9v0.9h-0.9zM19.7 6.1h0.9v0.9h-0.9zM11.6 8.2h0.9v0.9h-0.9zM6.3 13.7h0.9v0.9h-0.9zM7.6 14.8h0.9v0.9h-0.9zM14.0 2.5h0.9v0.9h-0.9zM10.6 9.4h0.9v0.9h-0.9zM17.0 2.1h0.9v0.9h-0.9zM4.1 12.3h0.9v0.9h-0.9zM9.7 16.0h0.9v0.9h-0.9zM8.0 4.7h0.9v0.9h-0.9zM22.4 5.9h0.9v0.9h-0.9zM3.5 6.7h0.9v0.9h-0.9zM8.2 5.4h0.9v0.9h-0.9zM12.9 22.5h0.9v0.9h-0.9zM3.0 10.0h0.9v0.9h-0.9zM16.0 21.2h0.9v0.9h-0.9zM24.0 3.4h0.9v0.9h-0.9zM-0.0 3.4h0.9v0.9h-0.9zM12.9 21.1h0.9v0.9h-0.9zM1.3 14.1h0.9v0.9h-0.9zM4.2 18.4h0.9v0.9h-0.9zM22.5 12.9h0.9v0.9h-0.9zM0.2 1.5h0.9v0.9h-0.9zM10.0 20.3h0.9v0.9h-0.9zM5.7 16.1h0.9v0.9h-0.9zM9.7 6.4h0.9v0.9h-0.9zM16.9 7.4h0.9v0.9h-0.9zM8.9 18.4h0.9v0.9h-0.9zM11.9 18.8h0.9v0.9h-0.9z"/></pattern><mask id="mv" maskUnits="userSpaceOnUse" x="0" y="0" width="520" height="746"><rect width="520" height="746" fill="url(#pv)"/></mask><pattern id="pa" width="48" height="48" patternUnits="userSpaceOnUse"><path fill="#fff" d="M45.0 24.0h1.8v1.8h-1.8zM46.0 3.0h1.8v1.8h-1.8zM29.0 18.0h1.8v1.8h-1.8zM38.0 8.0h1.8v1.8h-1.8zM41.0 26.0h1.8v1.8h-1.8zM43.0 22.0h1.8v1.8h-1.8zM20.0 37.0h1.8v1.8h-1.8zM47.0 17.0h1.8v1.8h-1.8zM-1.0 17.0h1.8v1.8h-1.8zM46.0 44.0h1.8v1.8h-1.8zM8.0 29.0h1.8v1.8h-1.8zM33.0 45.0h1.8v1.8h-1.8zM31.0 6.0h1.8v1.8h-1.8zM23.0 23.0h1.8v1.8h-1.8zM24.0 46.0h1.8v1.8h-1.8zM16.0 10.0h1.8v1.8h-1.8zM25.0 30.0h1.8v1.8h-1.8zM45.0 27.0h1.8v1.8h-1.8zM12.0 44.0h1.8v1.8h-1.8zM23.0 32.0h1.8v1.8h-1.8zM22.0 10.0h1.8v1.8h-1.8zM33.0 36.0h1.8v1.8h-1.8zM9.0 22.0h1.8v1.8h-1.8zM17.0 8.0h1.8v1.8h-1.8zM10.0 46.0h1.8v1.8h-1.8zM42.0 18.0h1.8v1.8h-1.8zM35.0 2.0h1.8v1.8h-1.8zM43.0 25.0h1.8v1.8h-1.8zM39.0 13.0h1.8v1.8h-1.8zM18.0 16.0h1.8v1.8h-1.8zM46.0 20.0h1.8v1.8h-1.8zM23.0 45.0h1.8v1.8h-1.8zM43.0 18.0h1.8v1.8h-1.8zM14.0 38.0h1.8v1.8h-1.8zM5.0 18.0h1.8v1.8h-1.8zM42.0 44.0h1.8v1.8h-1.8zM11.0 3.0h1.8v1.8h-1.8zM37.0 29.0h1.8v1.8h-1.8zM11.0 24.0h1.8v1.8h-1.8zM3.0 33.0h1.8v1.8h-1.8zM25.0 33.0h1.8v1.8h-1.8zM4.0 30.0h1.8v1.8h-1.8zM17.0 23.0h1.8v1.8h-1.8zM16.0 30.0h1.8v1.8h-1.8zM27.0 29.0h1.8v1.8h-1.8zM3.0 10.0h1.8v1.8h-1.8zM3.0 18.0h1.8v1.8h-1.8zM23.0 5.0h1.8v1.8h-1.8zM32.0 23.0h1.8v1.8h-1.8zM24.0 28.0h1.8v1.8h-1.8zM44.0 28.0h1.8v1.8h-1.8zM4.0 7.0h1.8v1.8h-1.8zM33.0 15.0h1.8v1.8h-1.8zM36.0 24.0h1.8v1.8h-1.8zM18.0 35.0h1.8v1.8h-1.8zM8.0 13.0h1.8v1.8h-1.8zM14.0 19.0h1.8v1.8h-1.8zM43.0 39.0h1.8v1.8h-1.8zM39.0 30.0h1.8v1.8h-1.8zM0.0 13.0h1.8v1.8h-1.8zM24.0 43.0h1.8v1.8h-1.8zM17.0 26.0h1.8v1.8h-1.8zM40.0 16.0h1.8v1.8h-1.8zM35.0 28.0h1.8v1.8h-1.8zM25.0 30.0h1.8v1.8h-1.8zM23.0 5.0h1.8v1.8h-1.8zM43.0 46.0h1.8v1.8h-1.8zM39.0 16.0h1.8v1.8h-1.8zM30.0 36.0h1.8v1.8h-1.8zM2.0 37.0h1.8v1.8h-1.8zM4.0 45.0h1.8v1.8h-1.8zM11.0 46.0h1.8v1.8h-1.8zM11.0 25.0h1.8v1.8h-1.8zM39.0 47.0h1.8v1.8h-1.8zM39.0 -1.0h1.8v1.8h-1.8zM33.0 40.0h1.8v1.8h-1.8zM18.0 36.0h1.8v1.8h-1.8zM18.0 44.0h1.8v1.8h-1.8zM37.0 18.0h1.8v1.8h-1.8zM37.0 3.0h1.8v1.8h-1.8zM44.0 33.0h1.8v1.8h-1.8zM15.0 31.0h1.8v1.8h-1.8zM37.0 30.0h1.8v1.8h-1.8zM42.0 19.0h1.8v1.8h-1.8zM15.0 17.0h1.8v1.8h-1.8zM13.0 22.0h1.8v1.8h-1.8zM36.0 41.0h1.8v1.8h-1.8zM30.0 37.0h1.8v1.8h-1.8zM46.0 31.0h1.8v1.8h-1.8zM4.0 30.0h1.8v1.8h-1.8zM0.0 32.0h1.8v1.8h-1.8zM47.0 23.0h1.8v1.8h-1.8zM-1.0 23.0h1.8v1.8h-1.8zM44.0 0.0h1.8v1.8h-1.8zM46.0 8.0h1.8v1.8h-1.8zM40.0 14.0h1.8v1.8h-1.8zM18.0 6.0h1.8v1.8h-1.8zM1.0 36.0h1.8v1.8h-1.8zM35.0 5.0h1.8v1.8h-1.8zM29.0 12.0h1.8v1.8h-1.8zM43.0 6.0h1.8v1.8h-1.8zM28.0 42.0h1.8v1.8h-1.8zM25.0 32.0h1.8v1.8h-1.8zM38.0 33.0h1.8v1.8h-1.8zM39.0 10.0h1.8v1.8h-1.8zM43.0 24.0h1.8v1.8h-1.8zM43.0 33.0h1.8v1.8h-1.8zM35.0 45.0h1.8v1.8h-1.8zM5.0 41.0h1.8v1.8h-1.8zM14.0 39.0h1.8v1.8h-1.8zM10.0 22.0h1.8v1.8h-1.8zM6.0 38.0h1.8v1.8h-1.8zM14.0 22.0h1.8v1.8h-1.8zM38.0 17.0h1.8v1.8h-1.8zM42.0 24.0h1.8v1.8h-1.8zM45.0 37.0h1.8v1.8h-1.8zM47.0 34.0h1.8v1.8h-1.8zM-1.0 34.0h1.8v1.8h-1.8zM15.0 25.0h1.8v1.8h-1.8zM45.0 44.0h1.8v1.8h-1.8zM12.0 12.0h1.8v1.8h-1.8zM12.0 30.0h1.8v1.8h-1.8zM9.0 33.0h1.8v1.8h-1.8zM15.0 40.0h1.8v1.8h-1.8zM11.0 44.0h1.8v1.8h-1.8zM15.0 1.0h1.8v1.8h-1.8zM7.0 39.0h1.8v1.8h-1.8zM8.0 12.0h1.8v1.8h-1.8zM47.0 20.0h1.8v1.8h-1.8zM-1.0 20.0h1.8v1.8h-1.8zM30.0 26.0h1.8v1.8h-1.8zM22.0 43.0h1.8v1.8h-1.8zM1.0 18.0h1.8v1.8h-1.8zM21.0 32.0h1.8v1.8h-1.8zM34.0 0.0h1.8v1.8h-1.8zM4.0 11.0h1.8v1.8h-1.8zM16.0 36.0h1.8v1.8h-1.8zM35.0 44.0h1.8v1.8h-1.8zM19.0 20.0h1.8v1.8h-1.8zM6.0 42.0h1.8v1.8h-1.8zM43.0 45.0h1.8v1.8h-1.8zM35.0 42.0h1.8v1.8h-1.8zM27.0 40.0h1.8v1.8h-1.8zM15.0 36.0h1.8v1.8h-1.8zM36.0 29.0h1.8v1.8h-1.8zM40.0 32.0h1.8v1.8h-1.8zM11.0 2.0h1.8v1.8h-1.8zM15.0 9.0h1.8v1.8h-1.8zM43.0 25.0h1.8v1.8h-1.8zM35.0 44.0h1.8v1.8h-1.8zM37.0 41.0h1.8v1.8h-1.8zM26.0 36.0h1.8v1.8h-1.8zM45.0 21.0h1.8v1.8h-1.8zM33.0 45.0h1.8v1.8h-1.8zM11.0 3.0h1.8v1.8h-1.8zM23.0 42.0h1.8v1.8h-1.8zM25.0 9.0h1.8v1.8h-1.8zM47.0 22.0h1.8v1.8h-1.8zM-1.0 22.0h1.8v1.8h-1.8zM20.0 3.0h1.8v1.8h-1.8zM20.0 46.0h1.8v1.8h-1.8zM20.0 37.0h1.8v1.8h-1.8zM44.0 0.0h1.8v1.8h-1.8zM33.0 6.0h1.8v1.8h-1.8zM24.0 40.0h1.8v1.8h-1.8zM17.0 34.0h1.8v1.8h-1.8zM13.0 28.0h1.8v1.8h-1.8zM35.0 25.0h1.8v1.8h-1.8zM15.0 35.0h1.8v1.8h-1.8zM6.0 15.0h1.8v1.8h-1.8zM37.0 24.0h1.8v1.8h-1.8zM4.0 32.0h1.8v1.8h-1.8zM43.0 8.0h1.8v1.8h-1.8zM44.0 0.0h1.8v1.8h-1.8zM45.0 29.0h1.8v1.8h-1.8zM12.0 7.0h1.8v1.8h-1.8zM20.0 20.0h1.8v1.8h-1.8zM24.0 24.0h1.8v1.8h-1.8zM4.0 11.0h1.8v1.8h-1.8zM6.0 39.0h1.8v1.8h-1.8zM7.0 31.0h1.8v1.8h-1.8zM4.0 31.0h1.8v1.8h-1.8zM20.0 24.0h1.8v1.8h-1.8zM35.0 14.0h1.8v1.8h-1.8zM33.0 43.0h1.8v1.8h-1.8zM35.0 28.0h1.8v1.8h-1.8zM33.0 42.0h1.8v1.8h-1.8zM1.0 47.0h1.8v1.8h-1.8zM1.0 -1.0h1.8v1.8h-1.8zM22.0 42.0h1.8v1.8h-1.8zM2.0 13.0h1.8v1.8h-1.8zM26.0 27.0h1.8v1.8h-1.8zM45.0 15.0h1.8v1.8h-1.8zM11.0 30.0h1.8v1.8h-1.8zM7.0 43.0h1.8v1.8h-1.8zM11.0 0.0h1.8v1.8h-1.8zM30.0 10.0h1.8v1.8h-1.8zM43.0 5.0h1.8v1.8h-1.8zM24.0 28.0h1.8v1.8h-1.8zM23.0 2.0h1.8v1.8h-1.8zM24.0 6.0h1.8v1.8h-1.8zM2.0 43.0h1.8v1.8h-1.8zM12.0 3.0h1.8v1.8h-1.8zM0.0 41.0h1.8v1.8h-1.8zM41.0 35.0h1.8v1.8h-1.8zM38.0 13.0h1.8v1.8h-1.8zM27.0 35.0h1.8v1.8h-1.8zM11.0 35.0h1.8v1.8h-1.8zM38.0 25.0h1.8v1.8h-1.8zM30.0 1.0h1.8v1.8h-1.8zM18.0 15.0h1.8v1.8h-1.8zM17.0 44.0h1.8v1.8h-1.8zM45.0 2.0h1.8v1.8h-1.8zM28.0 9.0h1.8v1.8h-1.8zM31.0 46.0h1.8v1.8h-1.8zM6.0 18.0h1.8v1.8h-1.8zM16.0 34.0h1.8v1.8h-1.8zM39.0 2.0h1.8v1.8h-1.8zM9.0 17.0h1.8v1.8h-1.8zM46.0 36.0h1.8v1.8h-1.8zM30.0 46.0h1.8v1.8h-1.8zM18.0 38.0h1.8v1.8h-1.8zM11.0 12.0h1.8v1.8h-1.8zM43.0 39.0h1.8v1.8h-1.8zM29.0 7.0h1.8v1.8h-1.8zM15.0 44.0h1.8v1.8h-1.8zM21.0 2.0h1.8v1.8h-1.8zM11.0 28.0h1.8v1.8h-1.8zM41.0 21.0h1.8v1.8h-1.8zM11.0 38.0h1.8v1.8h-1.8zM14.0 12.0h1.8v1.8h-1.8zM27.0 24.0h1.8v1.8h-1.8zM41.0 21.0h1.8v1.8h-1.8zM30.0 21.0h1.8v1.8h-1.8zM32.0 43.0h1.8v1.8h-1.8zM4.0 42.0h1.8v1.8h-1.8zM43.0 17.0h1.8v1.8h-1.8zM0.0 22.0h1.8v1.8h-1.8zM32.0 9.0h1.8v1.8h-1.8zM8.0 17.0h1.8v1.8h-1.8zM43.0 28.0h1.8v1.8h-1.8zM33.0 28.0h1.8v1.8h-1.8zM32.0 20.0h1.8v1.8h-1.8zM23.0 5.0h1.8v1.8h-1.8zM47.0 8.0h1.8v1.8h-1.8zM-1.0 8.0h1.8v1.8h-1.8zM39.0 30.0h1.8v1.8h-1.8zM36.0 25.0h1.8v1.8h-1.8zM26.0 16.0h1.8v1.8h-1.8zM3.0 30.0h1.8v1.8h-1.8zM29.0 15.0h1.8v1.8h-1.8zM44.0 44.0h1.8v1.8h-1.8zM17.0 22.0h1.8v1.8h-1.8zM10.0 34.0h1.8v1.8h-1.8zM9.0 15.0h1.8v1.8h-1.8zM45.0 7.0h1.8v1.8h-1.8zM42.0 26.0h1.8v1.8h-1.8zM9.0 38.0h1.8v1.8h-1.8zM28.0 37.0h1.8v1.8h-1.8zM18.0 14.0h1.8v1.8h-1.8zM5.0 6.0h1.8v1.8h-1.8zM24.0 19.0h1.8v1.8h-1.8zM2.0 9.0h1.8v1.8h-1.8zM23.0 2.0h1.8v1.8h-1.8zM0.0 31.0h1.8v1.8h-1.8zM4.0 19.0h1.8v1.8h-1.8zM44.0 4.0h1.8v1.8h-1.8zM18.0 9.0h1.8v1.8h-1.8zM37.0 24.0h1.8v1.8h-1.8zM4.0 36.0h1.8v1.8h-1.8zM44.0 37.0h1.8v1.8h-1.8zM10.0 47.0h1.8v1.8h-1.8zM10.0 -1.0h1.8v1.8h-1.8zM32.0 18.0h1.8v1.8h-1.8zM4.0 25.0h1.8v1.8h-1.8zM3.0 6.0h1.8v1.8h-1.8zM31.0 35.0h1.8v1.8h-1.8zM29.0 21.0h1.8v1.8h-1.8zM40.0 41.0h1.8v1.8h-1.8zM1.0 35.0h1.8v1.8h-1.8zM38.0 29.0h1.8v1.8h-1.8zM20.0 37.0h1.8v1.8h-1.8zM1.0 43.0h1.8v1.8h-1.8zM25.0 28.0h1.8v1.8h-1.8zM31.0 22.0h1.8v1.8h-1.8zM14.0 11.0h1.8v1.8h-1.8zM7.0 0.0h1.8v1.8h-1.8zM41.0 46.0h1.8v1.8h-1.8zM33.0 14.0h1.8v1.8h-1.8zM19.0 38.0h1.8v1.8h-1.8zM22.0 18.0h1.8v1.8h-1.8zM37.0 13.0h1.8v1.8h-1.8zM5.0 19.0h1.8v1.8h-1.8zM42.0 47.0h1.8v1.8h-1.8zM42.0 -1.0h1.8v1.8h-1.8zM10.0 37.0h1.8v1.8h-1.8zM5.0 31.0h1.8v1.8h-1.8zM5.0 10.0h1.8v1.8h-1.8zM37.0 5.0h1.8v1.8h-1.8zM24.0 16.0h1.8v1.8h-1.8zM47.0 36.0h1.8v1.8h-1.8zM-1.0 36.0h1.8v1.8h-1.8zM13.0 47.0h1.8v1.8h-1.8zM13.0 -1.0h1.8v1.8h-1.8zM30.0 7.0h1.8v1.8h-1.8zM13.0 38.0h1.8v1.8h-1.8zM46.0 1.0h1.8v1.8h-1.8zM27.0 9.0h1.8v1.8h-1.8zM33.0 0.0h1.8v1.8h-1.8zM35.0 25.0h1.8v1.8h-1.8zM30.0 23.0h1.8v1.8h-1.8zM32.0 40.0h1.8v1.8h-1.8zM3.0 16.0h1.8v1.8h-1.8zM9.0 22.0h1.8v1.8h-1.8zM29.0 19.0h1.8v1.8h-1.8zM37.0 0.0h1.8v1.8h-1.8zM7.0 6.0h1.8v1.8h-1.8zM4.0 28.0h1.8v1.8h-1.8zM32.0 17.0h1.8v1.8h-1.8zM33.0 17.0h1.8v1.8h-1.8zM28.0 1.0h1.8v1.8h-1.8zM16.0 2.0h1.8v1.8h-1.8zM36.0 31.0h1.8v1.8h-1.8zM41.0 42.0h1.8v1.8h-1.8zM26.0 6.0h1.8v1.8h-1.8zM14.0 30.0h1.8v1.8h-1.8zM32.0 33.0h1.8v1.8h-1.8zM4.0 5.0h1.8v1.8h-1.8zM34.0 3.0h1.8v1.8h-1.8zM24.0 21.0h1.8v1.8h-1.8zM39.0 4.0h1.8v1.8h-1.8zM35.0 16.0h1.8v1.8h-1.8zM32.0 7.0h1.8v1.8h-1.8zM29.0 36.0h1.8v1.8h-1.8zM33.0 36.0h1.8v1.8h-1.8zM29.0 24.0h1.8v1.8h-1.8zM32.0 5.0h1.8v1.8h-1.8zM32.0 7.0h1.8v1.8h-1.8zM22.0 22.0h1.8v1.8h-1.8zM5.0 10.0h1.8v1.8h-1.8zM34.0 30.0h1.8v1.8h-1.8zM23.0 32.0h1.8v1.8h-1.8zM18.0 22.0h1.8v1.8h-1.8zM20.0 36.0h1.8v1.8h-1.8zM3.0 39.0h1.8v1.8h-1.8zM0.0 15.0h1.8v1.8h-1.8zM46.0 10.0h1.8v1.8h-1.8zM17.0 8.0h1.8v1.8h-1.8zM40.0 8.0h1.8v1.8h-1.8zM18.0 16.0h1.8v1.8h-1.8zM10.0 26.0h1.8v1.8h-1.8zM17.0 45.0h1.8v1.8h-1.8zM21.0 34.0h1.8v1.8h-1.8zM1.0 40.0h1.8v1.8h-1.8zM28.0 14.0h1.8v1.8h-1.8zM26.0 0.0h1.8v1.8h-1.8zM7.0 34.0h1.8v1.8h-1.8zM22.0 43.0h1.8v1.8h-1.8zM34.0 45.0h1.8v1.8h-1.8zM40.0 5.0h1.8v1.8h-1.8zM40.0 33.0h1.8v1.8h-1.8zM8.0 6.0h1.8v1.8h-1.8zM14.0 38.0h1.8v1.8h-1.8zM18.0 25.0h1.8v1.8h-1.8zM24.0 30.0h1.8v1.8h-1.8zM20.0 3.0h1.8v1.8h-1.8zM46.0 27.0h1.8v1.8h-1.8zM1.0 9.0h1.8v1.8h-1.8zM45.0 46.0h1.8v1.8h-1.8zM24.0 17.0h1.8v1.8h-1.8zM21.0 16.0h1.8v1.8h-1.8zM23.0 29.0h1.8v1.8h-1.8zM6.0 46.0h1.8v1.8h-1.8zM10.0 4.0h1.8v1.8h-1.8zM29.0 17.0h1.8v1.8h-1.8zM36.0 8.0h1.8v1.8h-1.8zM26.0 6.0h1.8v1.8h-1.8zM39.0 11.0h1.8v1.8h-1.8zM46.0 10.0h1.8v1.8h-1.8zM28.0 20.0h1.8v1.8h-1.8zM46.0 17.0h1.8v1.8h-1.8zM28.0 43.0h1.8v1.8h-1.8zM4.0 24.0h1.8v1.8h-1.8zM42.0 13.0h1.8v1.8h-1.8zM6.0 28.0h1.8v1.8h-1.8zM39.0 42.0h1.8v1.8h-1.8zM23.0 9.0h1.8v1.8h-1.8zM0.0 19.0h1.8v1.8h-1.8zM6.0 28.0h1.8v1.8h-1.8zM33.0 33.0h1.8v1.8h-1.8zM10.0 47.0h1.8v1.8h-1.8zM10.0 -1.0h1.8v1.8h-1.8zM37.0 31.0h1.8v1.8h-1.8zM39.0 45.0h1.8v1.8h-1.8zM17.0 38.0h1.8v1.8h-1.8zM20.0 19.0h1.8v1.8h-1.8zM47.0 7.0h1.8v1.8h-1.8zM-1.0 7.0h1.8v1.8h-1.8zM24.0 39.0h1.8v1.8h-1.8zM31.0 19.0h1.8v1.8h-1.8zM37.0 12.0h1.8v1.8h-1.8zM25.0 24.0h1.8v1.8h-1.8zM8.0 9.0h1.8v1.8h-1.8zM41.0 5.0h1.8v1.8h-1.8zM47.0 16.0h1.8v1.8h-1.8zM-1.0 16.0h1.8v1.8h-1.8zM46.0 35.0h1.8v1.8h-1.8zM24.0 42.0h1.8v1.8h-1.8zM5.0 27.0h1.8v1.8h-1.8zM35.0 35.0h1.8v1.8h-1.8zM15.0 3.0h1.8v1.8h-1.8zM46.0 44.0h1.8v1.8h-1.8zM15.0 40.0h1.8v1.8h-1.8zM7.0 14.0h1.8v1.8h-1.8zM47.0 5.0h1.8v1.8h-1.8zM-1.0 5.0h1.8v1.8h-1.8zM28.0 35.0h1.8v1.8h-1.8zM39.0 45.0h1.8v1.8h-1.8zM4.0 35.0h1.8v1.8h-1.8zM32.0 24.0h1.8v1.8h-1.8zM13.0 41.0h1.8v1.8h-1.8zM17.0 32.0h1.8v1.8h-1.8zM16.0 21.0h1.8v1.8h-1.8zM47.0 10.0h1.8v1.8h-1.8zM-1.0 10.0h1.8v1.8h-1.8zM40.0 3.0h1.8v1.8h-1.8zM46.0 31.0h1.8v1.8h-1.8zM17.0 38.0h1.8v1.8h-1.8zM36.0 46.0h1.8v1.8h-1.8zM34.0 37.0h1.8v1.8h-1.8zM19.0 39.0h1.8v1.8h-1.8zM37.0 24.0h1.8v1.8h-1.8zM12.0 47.0h1.8v1.8h-1.8zM12.0 -1.0h1.8v1.8h-1.8zM23.0 39.0h1.8v1.8h-1.8zM3.0 15.0h1.8v1.8h-1.8zM10.0 36.0h1.8v1.8h-1.8zM19.0 39.0h1.8v1.8h-1.8zM17.0 16.0h1.8v1.8h-1.8zM16.0 12.0h1.8v1.8h-1.8zM28.0 25.0h1.8v1.8h-1.8zM44.0 17.0h1.8v1.8h-1.8zM7.0 42.0h1.8v1.8h-1.8zM46.0 27.0h1.8v1.8h-1.8zM4.0 24.0h1.8v1.8h-1.8zM9.0 17.0h1.8v1.8h-1.8zM20.0 3.0h1.8v1.8h-1.8zM25.0 25.0h1.8v1.8h-1.8zM12.0 5.0h1.8v1.8h-1.8zM29.0 32.0h1.8v1.8h-1.8zM47.0 29.0h1.8v1.8h-1.8zM-1.0 29.0h1.8v1.8h-1.8zM10.0 10.0h1.8v1.8h-1.8zM0.0 4.0h1.8v1.8h-1.8zM39.0 1.0h1.8v1.8h-1.8zM22.0 9.0h1.8v1.8h-1.8zM31.0 37.0h1.8v1.8h-1.8zM27.0 33.0h1.8v1.8h-1.8zM2.0 4.0h1.8v1.8h-1.8zM2.0 12.0h1.8v1.8h-1.8zM1.0 36.0h1.8v1.8h-1.8zM41.0 36.0h1.8v1.8h-1.8zM12.0 20.0h1.8v1.8h-1.8zM31.0 8.0h1.8v1.8h-1.8zM15.0 33.0h1.8v1.8h-1.8zM23.0 18.0h1.8v1.8h-1.8zM10.0 38.0h1.8v1.8h-1.8zM15.0 20.0h1.8v1.8h-1.8zM26.0 9.0h1.8v1.8h-1.8zM43.0 15.0h1.8v1.8h-1.8zM36.0 31.0h1.8v1.8h-1.8zM7.0 0.0h1.8v1.8h-1.8zM22.0 36.0h1.8v1.8h-1.8zM6.0 38.0h1.8v1.8h-1.8zM9.0 17.0h1.8v1.8h-1.8zM5.0 7.0h1.8v1.8h-1.8zM29.0 35.0h1.8v1.8h-1.8zM2.0 40.0h1.8v1.8h-1.8zM26.0 26.0h1.8v1.8h-1.8zM24.0 6.0h1.8v1.8h-1.8zM45.0 41.0h1.8v1.8h-1.8zM5.0 14.0h1.8v1.8h-1.8zM8.0 20.0h1.8v1.8h-1.8zM21.0 45.0h1.8v1.8h-1.8zM32.0 45.0h1.8v1.8h-1.8zM40.0 7.0h1.8v1.8h-1.8zM36.0 28.0h1.8v1.8h-1.8zM6.0 26.0h1.8v1.8h-1.8zM34.0 7.0h1.8v1.8h-1.8zM42.0 45.0h1.8v1.8h-1.8zM47.0 0.0h1.8v1.8h-1.8zM-1.0 0.0h1.8v1.8h-1.8zM17.0 8.0h1.8v1.8h-1.8zM6.0 28.0h1.8v1.8h-1.8zM21.0 31.0h1.8v1.8h-1.8zM37.0 20.0h1.8v1.8h-1.8zM40.0 41.0h1.8v1.8h-1.8zM47.0 0.0h1.8v1.8h-1.8zM-1.0 0.0h1.8v1.8h-1.8zM16.0 45.0h1.8v1.8h-1.8zM41.0 10.0h1.8v1.8h-1.8zM40.0 44.0h1.8v1.8h-1.8zM38.0 5.0h1.8v1.8h-1.8zM35.0 0.0h1.8v1.8h-1.8zM27.0 27.0h1.8v1.8h-1.8zM37.0 14.0h1.8v1.8h-1.8zM22.0 18.0h1.8v1.8h-1.8zM4.0 18.0h1.8v1.8h-1.8zM33.0 32.0h1.8v1.8h-1.8zM8.0 1.0h1.8v1.8h-1.8zM42.0 31.0h1.8v1.8h-1.8zM4.0 28.0h1.8v1.8h-1.8zM11.0 33.0h1.8v1.8h-1.8zM41.0 17.0h1.8v1.8h-1.8zM38.0 2.0h1.8v1.8h-1.8zM11.0 18.0h1.8v1.8h-1.8zM22.0 21.0h1.8v1.8h-1.8zM43.0 12.0h1.8v1.8h-1.8zM8.0 41.0h1.8v1.8h-1.8zM28.0 30.0h1.8v1.8h-1.8zM20.0 27.0h1.8v1.8h-1.8zM40.0 10.0h1.8v1.8h-1.8zM22.0 13.0h1.8v1.8h-1.8zM27.0 16.0h1.8v1.8h-1.8zM16.0 16.0h1.8v1.8h-1.8zM16.0 29.0h1.8v1.8h-1.8zM5.0 16.0h1.8v1.8h-1.8zM0.0 19.0h1.8v1.8h-1.8zM6.0 28.0h1.8v1.8h-1.8zM9.0 47.0h1.8v1.8h-1.8zM9.0 -1.0h1.8v1.8h-1.8zM34.0 10.0h1.8v1.8h-1.8zM46.0 40.0h1.8v1.8h-1.8zM5.0 31.0h1.8v1.8h-1.8zM41.0 0.0h1.8v1.8h-1.8zM5.0 9.0h1.8v1.8h-1.8zM30.0 28.0h1.8v1.8h-1.8zM4.0 5.0h1.8v1.8h-1.8zM4.0 20.0h1.8v1.8h-1.8zM13.0 21.0h1.8v1.8h-1.8zM44.0 24.0h1.8v1.8h-1.8zM17.0 19.0h1.8v1.8h-1.8zM30.0 44.0h1.8v1.8h-1.8zM22.0 38.0h1.8v1.8h-1.8zM35.0 32.0h1.8v1.8h-1.8zM29.0 29.0h1.8v1.8h-1.8zM23.0 6.0h1.8v1.8h-1.8zM31.0 5.0h1.8v1.8h-1.8zM36.0 12.0h1.8v1.8h-1.8zM34.0 28.0h1.8v1.8h-1.8zM18.0 33.0h1.8v1.8h-1.8zM47.0 26.0h1.8v1.8h-1.8zM-1.0 26.0h1.8v1.8h-1.8zM26.0 27.0h1.8v1.8h-1.8zM1.0 11.0h1.8v1.8h-1.8zM38.0 5.0h1.8v1.8h-1.8zM13.0 46.0h1.8v1.8h-1.8zM47.0 21.0h1.8v1.8h-1.8zM-1.0 21.0h1.8v1.8h-1.8zM6.0 37.0h1.8v1.8h-1.8zM46.0 23.0h1.8v1.8h-1.8zM38.0 12.0h1.8v1.8h-1.8zM38.0 0.0h1.8v1.8h-1.8zM45.0 22.0h1.8v1.8h-1.8zM27.0 31.0h1.8v1.8h-1.8zM21.0 18.0h1.8v1.8h-1.8zM12.0 27.0h1.8v1.8h-1.8zM44.0 40.0h1.8v1.8h-1.8zM9.0 32.0h1.8v1.8h-1.8zM41.0 8.0h1.8v1.8h-1.8zM23.0 23.0h1.8v1.8h-1.8zM29.0 5.0h1.8v1.8h-1.8zM24.0 23.0h1.8v1.8h-1.8zM38.0 31.0h1.8v1.8h-1.8zM39.0 20.0h1.8v1.8h-1.8zM29.0 7.0h1.8v1.8h-1.8zM35.0 46.0h1.8v1.8h-1.8zM36.0 35.0h1.8v1.8h-1.8zM24.0 44.0h1.8v1.8h-1.8zM33.0 44.0h1.8v1.8h-1.8zM4.0 32.0h1.8v1.8h-1.8zM14.0 6.0h1.8v1.8h-1.8zM16.0 31.0h1.8v1.8h-1.8zM4.0 2.0h1.8v1.8h-1.8zM35.0 21.0h1.8v1.8h-1.8zM23.0 4.0h1.8v1.8h-1.8zM0.0 17.0h1.8v1.8h-1.8zM36.0 13.0h1.8v1.8h-1.8zM27.0 16.0h1.8v1.8h-1.8zM9.0 28.0h1.8v1.8h-1.8zM10.0 24.0h1.8v1.8h-1.8zM12.0 11.0h1.8v1.8h-1.8zM2.0 11.0h1.8v1.8h-1.8zM32.0 27.0h1.8v1.8h-1.8zM32.0 35.0h1.8v1.8h-1.8zM46.0 22.0h1.8v1.8h-1.8zM23.0 37.0h1.8v1.8h-1.8zM0.0 20.0h1.8v1.8h-1.8zM15.0 32.0h1.8v1.8h-1.8zM0.0 16.0h1.8v1.8h-1.8zM44.0 7.0h1.8v1.8h-1.8zM37.0 36.0h1.8v1.8h-1.8zM9.0 3.0h1.8v1.8h-1.8zM35.0 3.0h1.8v1.8h-1.8zM2.0 41.0h1.8v1.8h-1.8zM13.0 23.0h1.8v1.8h-1.8zM9.0 14.0h1.8v1.8h-1.8zM46.0 22.0h1.8v1.8h-1.8zM24.0 14.0h1.8v1.8h-1.8zM0.0 34.0h1.8v1.8h-1.8zM47.0 9.0h1.8v1.8h-1.8zM-1.0 9.0h1.8v1.8h-1.8zM30.0 26.0h1.8v1.8h-1.8zM30.0 26.0h1.8v1.8h-1.8zM32.0 26.0h1.8v1.8h-1.8zM30.0 14.0h1.8v1.8h-1.8zM40.0 45.0h1.8v1.8h-1.8zM26.0 12.0h1.8v1.8h-1.8zM4.0 35.0h1.8v1.8h-1.8zM42.0 1.0h1.8v1.8h-1.8zM20.0 11.0h1.8v1.8h-1.8zM21.0 10.0h1.8v1.8h-1.8zM5.0 32.0h1.8v1.8h-1.8zM4.0 6.0h1.8v1.8h-1.8zM24.0 32.0h1.8v1.8h-1.8z"/></pattern><mask id="ma" maskUnits="userSpaceOnUse" x="0" y="0" width="520" height="746"><rect width="520" height="746" fill="url(#pa)"/></mask><filter id="bl1" x="-20%" y="-20%" width="140%" height="140%"><feGaussianBlur stdDeviation="1.3"/></filter><filter id="bl2" x="-20%" y="-20%" width="140%" height="140%"><feGaussianBlur stdDeviation="2.2"/></filter><filter id="bl3" x="-30%" y="-30%" width="160%" height="160%"><feGaussianBlur stdDeviation="3"/></filter></defs>
<text x="7.5" y="18.2" font-size="12.5" text-anchor="start" font-weight="bold">A</text>
<path d="M81.0 41.0L82.0 33.0L85.5 24.7L90.0 21.0L96.0 17.8L104.0 16.0L111.6 14.7L116.0 12.0L119.3 10.8L125.0 10.0L130.0 11.0L134.0 12.0L138.0 14.0L139.0 25.0L140.0 38.0L141.0 45.0L142.0 50.0L143.0 58.0L148.0 62.0L158.0 64.0L163.0 66.0L172.0 72.0L178.0 76.0L184.0 80.0L179.3 87.2L168.5 99.5L160.0 107.0L154.0 106.0L147.0 104.2L140.0 101.0L133.0 98.0L127.0 93.0L120.0 86.0L113.2 77.8L106.0 73.0L99.3 68.5L91.6 57.8L84.0 50.0Z" fill="#22c3c6" mask="url(#ma)"/>
<path d="M67.8 60.0L72.0 57.8L80.0 58.5L84.0 62.0L82.0 67.0L75.0 68.5L68.0 66.5Z" fill="#22c3c6" mask="url(#ma)"/>
<path d="M145.0 30.0L152.0 28.0L160.0 29.0L166.0 28.0L169.0 24.5L172.0 24.0L174.0 26.0L174.0 38.0L170.0 44.0L162.0 42.0L160.0 48.0L166.0 51.0L175.0 50.0L185.0 52.0L195.0 53.0L202.0 55.0L203.0 58.0L199.0 62.0L195.0 66.0L188.0 68.5L180.0 67.0L172.0 64.0L168.0 62.0L165.0 64.0L160.0 64.0L150.0 62.0L144.0 58.0L143.0 50.0L141.0 42.0L142.0 34.0Z" fill="#3a8cf0" mask="url(#ma)"/>
<path d="M53.0 95.0L60.0 93.0L70.0 91.0L75.0 89.0L84.0 86.5L92.0 87.0L98.0 89.5L105.0 92.0L110.0 95.0L114.7 98.0L117.8 95.0L122.0 96.0L127.0 96.0L133.0 99.0L137.0 104.0L140.0 115.0L141.0 125.0L140.0 135.0L135.0 142.0L128.0 147.0L122.4 147.2L111.6 142.6L105.5 133.4L95.0 130.5L85.5 128.8L70.0 123.0L62.4 119.5L57.0 108.0Z" fill="#f0479a" mask="url(#ma)"/>
<path d="M144.0 124.0L150.0 122.6L157.8 122.6L165.0 124.0L168.5 128.0L166.0 136.0L160.0 142.0L152.0 145.7L145.0 145.0L143.0 138.0Z" fill="#f0479a" mask="url(#md)"/>
<path d="M185.0 80.0L193.0 78.0L198.0 83.0L199.0 92.0L196.0 100.0L190.0 108.0L182.0 116.0L172.0 122.0L160.0 124.0L154.0 120.0L155.0 112.0L162.0 105.0L170.0 100.0L177.0 92.0L181.0 85.0Z" fill="#c0342e" mask="url(#md)"/>
<path d="M82.0 72.5L90.0 71.5L97.0 73.0L101.0 75.0L106.0 77.5L105.0 80.0L99.0 78.5L92.0 77.0L84.0 76.5Z" fill="#8a5a12" mask="url(#md)"/>
<path d="M147.0 21.0L153.0 20.5L158.0 23.0L157.5 29.0L150.0 30.0L147.0 26.0Z" fill="#8a5a12" mask="url(#md)"/>
<path d="M182.0 33.0L186.0 32.5L190.0 35.0L193.0 38.0L190.0 40.0L185.0 37.5L182.0 36.0Z" fill="#8a5a12" mask="url(#md)"/>
<path d="M60.0 66.0L63.0 65.5L65.0 68.0L64.0 71.0L61.0 71.5L60.0 69.0Z" fill="#22c3c6" mask="url(#md)"/>
<path d="M101 76 L106 82 L110 88 L113 93" stroke="#8a5a12" stroke-width="1.1" stroke-dasharray="1.2 0.8" fill="none"/>
<path d="M62 106 C75 109 90 112 108 117 M84 99 C92 101 100 104 106 108 M120 104 C126 110 130 118 131 128" stroke="#fff" stroke-width="1.6" stroke-opacity="0.75" fill="none"/>
<path d="M100 40 C108 44 116 46 124 52 M118 62 C124 66 132 70 138 78 M150 80 C155 86 160 90 166 92" stroke="#fff" stroke-width="1.4" stroke-opacity="0.6" fill="none"/>
<path d="M160.0 40.0L172.0 38.0L172.0 50.0L162.0 50.0Z" fill="#3a8cf0" mask="url(#ms)"/>
<path fill="#22c3c6" d="M125.8 93.7h1.1v1.1h-1.1zM159.6 66.2h1.1v1.1h-1.1zM107.5 73.2h1.1v1.1h-1.1zM146.2 104.3h1.1v1.1h-1.1zM95.7 16.6h1.1v1.1h-1.1zM83.5 48.5h1.1v1.1h-1.1zM132.8 97.5h1.1v1.1h-1.1zM122.4 89.2h1.1v1.1h-1.1zM103.6 14.9h1.1v1.1h-1.1zM162.6 67.3h1.1v1.1h-1.1zM141.5 53.6h1.1v1.1h-1.1zM89.9 59.4h1.1v1.1h-1.1zM160.6 104.5h1.1v1.1h-1.1zM114.8 81.1h1.1v1.1h-1.1zM157.7 62.8h1.1v1.1h-1.1zM137.8 10.6h1.1v1.1h-1.1zM179.2 87.6h1.1v1.1h-1.1zM91.6 21.4h1.1v1.1h-1.1zM114.6 80.5h1.1v1.1h-1.1zM167.3 101.3h1.1v1.1h-1.1zM129.6 96.6h1.1v1.1h-1.1zM142.5 49.0h1.1v1.1h-1.1zM83.7 47.7h1.1v1.1h-1.1zM98.6 67.7h1.1v1.1h-1.1zM125.6 90.5h1.1v1.1h-1.1zM125.7 11.4h1.1v1.1h-1.1zM166.6 68.8h1.1v1.1h-1.1zM84.2 28.0h1.1v1.1h-1.1zM112.3 14.1h1.1v1.1h-1.1zM150.7 108.1h1.1v1.1h-1.1zM135.4 98.6h1.1v1.1h-1.1zM83.3 48.8h1.1v1.1h-1.1zM142.1 41.2h1.1v1.1h-1.1zM143.2 52.0h1.1v1.1h-1.1zM168.4 69.4h1.1v1.1h-1.1zM121.9 9.6h1.1v1.1h-1.1zM106.6 15.7h1.1v1.1h-1.1zM168.3 69.7h1.1v1.1h-1.1zM134.4 12.6h1.1v1.1h-1.1zM156.8 102.5h1.1v1.1h-1.1zM158.0 64.4h1.1v1.1h-1.1zM114.5 78.4h1.1v1.1h-1.1zM143.3 104.1h1.1v1.1h-1.1zM142.3 34.5h1.1v1.1h-1.1zM115.4 78.5h1.1v1.1h-1.1zM119.5 84.0h1.1v1.1h-1.1zM143.8 60.8h1.1v1.1h-1.1zM140.1 31.7h1.1v1.1h-1.1zM152.6 105.8h1.1v1.1h-1.1zM111.6 15.7h1.1v1.1h-1.1zM127.8 9.9h1.1v1.1h-1.1zM81.4 37.8h1.1v1.1h-1.1zM124.8 87.8h1.1v1.1h-1.1zM157.4 106.1h1.1v1.1h-1.1zM146.0 104.0h1.1v1.1h-1.1zM127.3 91.8h1.1v1.1h-1.1zM162.2 66.8h1.1v1.1h-1.1zM176.5 87.8h1.1v1.1h-1.1zM111.3 16.0h1.1v1.1h-1.1zM100.6 15.1h1.1v1.1h-1.1zM155.3 104.5h1.1v1.1h-1.1zM166.6 69.5h1.1v1.1h-1.1zM180.5 88.6h1.1v1.1h-1.1zM125.1 94.5h1.1v1.1h-1.1zM164.3 103.9h1.1v1.1h-1.1zM183.1 81.9h1.1v1.1h-1.1zM179.1 87.1h1.1v1.1h-1.1zM137.5 36.1h1.1v1.1h-1.1zM83.1 32.8h1.1v1.1h-1.1zM157.4 65.2h1.1v1.1h-1.1zM132.6 11.6h1.1v1.1h-1.1zM150.0 62.7h1.1v1.1h-1.1zM107.8 74.8h1.1v1.1h-1.1zM136.5 13.9h1.1v1.1h-1.1zM87.6 22.6h1.1v1.1h-1.1zM139.0 29.2h1.1v1.1h-1.1zM138.4 29.7h1.1v1.1h-1.1zM157.5 107.7h1.1v1.1h-1.1zM180.3 87.5h1.1v1.1h-1.1zM125.3 91.3h1.1v1.1h-1.1zM157.2 109.7h1.1v1.1h-1.1zM148.8 59.4h1.1v1.1h-1.1zM120.0 82.7h1.1v1.1h-1.1zM116.9 13.6h1.1v1.1h-1.1zM79.6 32.3h1.1v1.1h-1.1zM92.1 17.6h1.1v1.1h-1.1zM140.1 101.5h1.1v1.1h-1.1zM165.6 65.5h1.1v1.1h-1.1zM111.9 12.6h1.1v1.1h-1.1zM174.6 74.8h1.1v1.1h-1.1zM113.8 14.1h1.1v1.1h-1.1zM147.9 104.5h1.1v1.1h-1.1zM161.7 64.2h1.1v1.1h-1.1zM142.7 57.9h1.1v1.1h-1.1zM140.8 32.8h1.1v1.1h-1.1zM165.9 102.1h1.1v1.1h-1.1zM142.1 52.9h1.1v1.1h-1.1zM90.9 17.2h1.1v1.1h-1.1zM100.5 13.1h1.1v1.1h-1.1zM84.6 52.7h1.1v1.1h-1.1zM95.8 64.5h1.1v1.1h-1.1zM147.4 105.6h1.1v1.1h-1.1zM138.7 24.2h1.1v1.1h-1.1zM84.2 48.9h1.1v1.1h-1.1zM124.4 89.2h1.1v1.1h-1.1zM139.8 101.0h1.1v1.1h-1.1zM163.0 67.9h1.1v1.1h-1.1zM137.0 24.9h1.1v1.1h-1.1zM94.6 18.4h1.1v1.1h-1.1zM97.1 63.1h1.1v1.1h-1.1zM164.9 65.6h1.1v1.1h-1.1zM126.7 9.0h1.1v1.1h-1.1zM138.8 35.3h1.1v1.1h-1.1zM175.7 91.4h1.1v1.1h-1.1zM120.1 12.6h1.1v1.1h-1.1zM107.7 72.4h1.1v1.1h-1.1zM131.4 94.9h1.1v1.1h-1.1zM141.9 101.7h1.1v1.1h-1.1zM156.6 64.3h1.1v1.1h-1.1zM168.6 104.7h1.1v1.1h-1.1zM175.1 92.3h1.1v1.1h-1.1zM162.2 105.2h1.1v1.1h-1.1zM93.3 19.5h1.1v1.1h-1.1zM152.3 61.6h1.1v1.1h-1.1zM81.6 25.7h1.1v1.1h-1.1zM171.9 72.3h1.1v1.1h-1.1zM140.2 44.7h1.1v1.1h-1.1zM112.2 13.5h1.1v1.1h-1.1zM98.7 16.7h1.1v1.1h-1.1zM173.9 93.2h1.1v1.1h-1.1zM118.7 10.9h1.1v1.1h-1.1zM94.7 58.4h1.1v1.1h-1.1zM175.6 95.0h1.1v1.1h-1.1zM141.8 49.2h1.1v1.1h-1.1zM173.7 94.5h1.1v1.1h-1.1zM81.8 33.8h1.1v1.1h-1.1zM85.2 53.0h1.1v1.1h-1.1zM169.2 71.9h1.1v1.1h-1.1zM125.9 90.9h1.1v1.1h-1.1zM91.9 20.4h1.1v1.1h-1.1zM171.1 73.0h1.1v1.1h-1.1zM170.0 71.9h1.1v1.1h-1.1zM88.0 54.9h1.1v1.1h-1.1zM179.4 90.5h1.1v1.1h-1.1zM167.2 67.3h1.1v1.1h-1.1zM134.6 21.9h1.1v1.1h-1.1zM144.0 43.2h1.1v1.1h-1.1zM179.5 78.2h1.1v1.1h-1.1zM156.7 63.9h1.1v1.1h-1.1zM82.0 34.3h1.1v1.1h-1.1zM116.5 80.9h1.1v1.1h-1.1zM99.4 66.3h1.1v1.1h-1.1zM110.6 17.4h1.1v1.1h-1.1zM179.5 83.6h1.1v1.1h-1.1zM101.6 16.7h1.1v1.1h-1.1zM156.0 105.4h1.1v1.1h-1.1zM141.2 27.3h1.1v1.1h-1.1zM158.3 108.8h1.1v1.1h-1.1zM137.7 98.9h1.1v1.1h-1.1zM126.8 94.0h1.1v1.1h-1.1zM97.3 17.9h1.1v1.1h-1.1zM94.1 63.9h1.1v1.1h-1.1zM132.3 11.7h1.1v1.1h-1.1zM81.0 28.6h1.1v1.1h-1.1zM181.0 84.8h1.1v1.1h-1.1zM142.2 54.3h1.1v1.1h-1.1zM114.9 78.1h1.1v1.1h-1.1zM119.9 85.6h1.1v1.1h-1.1zM140.6 38.9h1.1v1.1h-1.1zM87.9 56.5h1.1v1.1h-1.1zM139.3 29.6h1.1v1.1h-1.1zM177.8 75.1h1.1v1.1h-1.1zM136.7 18.1h1.1v1.1h-1.1zM91.1 57.8h1.1v1.1h-1.1zM116.1 10.9h1.1v1.1h-1.1zM85.5 28.7h1.1v1.1h-1.1zM157.5 63.0h1.1v1.1h-1.1zM82.5 43.5h1.1v1.1h-1.1zM97.2 68.3h1.1v1.1h-1.1zM132.6 96.1h1.1v1.1h-1.1zM99.7 66.6h1.1v1.1h-1.1zM100.8 69.7h1.1v1.1h-1.1zM179.5 77.7h1.1v1.1h-1.1zM136.6 36.1h1.1v1.1h-1.1zM126.3 91.2h1.1v1.1h-1.1zM158.3 109.3h1.1v1.1h-1.1zM141.0 54.2h1.1v1.1h-1.1zM95.9 20.3h1.1v1.1h-1.1zM130.9 98.1h1.1v1.1h-1.1zM141.2 19.0h1.1v1.1h-1.1zM89.2 56.6h1.1v1.1h-1.1zM137.3 15.8h1.1v1.1h-1.1zM104.4 13.5h1.1v1.1h-1.1zM115.1 78.4h1.1v1.1h-1.1zM114.9 12.9h1.1v1.1h-1.1zM119.5 11.4h1.1v1.1h-1.1zM172.9 96.3h1.1v1.1h-1.1zM101.2 72.1h1.1v1.1h-1.1zM124.2 10.5h1.1v1.1h-1.1zM137.9 36.7h1.1v1.1h-1.1zM124.4 89.7h1.1v1.1h-1.1zM84.8 49.6h1.1v1.1h-1.1zM174.3 76.1h1.1v1.1h-1.1zM109.8 14.9h1.1v1.1h-1.1zM81.9 35.9h1.1v1.1h-1.1zM136.2 12.0h1.1v1.1h-1.1zM106.2 17.4h1.1v1.1h-1.1zM151.0 102.2h1.1v1.1h-1.1zM106.0 19.6h1.1v1.1h-1.1zM176.0 72.4h1.1v1.1h-1.1zM147.0 103.9h1.1v1.1h-1.1zM175.3 89.9h1.1v1.1h-1.1zM127.4 11.1h1.1v1.1h-1.1zM117.6 86.6h1.1v1.1h-1.1zM144.4 101.9h1.1v1.1h-1.1zM134.3 98.6h1.1v1.1h-1.1zM107.4 13.1h1.1v1.1h-1.1zM104.6 15.4h1.1v1.1h-1.1zM95.4 59.2h1.1v1.1h-1.1zM149.0 59.4h1.1v1.1h-1.1z"/>
<path fill="#3a8cf0" d="M172.2 36.7h1.1v1.1h-1.1zM149.1 26.5h1.1v1.1h-1.1zM187.2 53.6h1.1v1.1h-1.1zM188.8 69.8h1.1v1.1h-1.1zM165.0 49.3h1.1v1.1h-1.1zM179.1 51.6h1.1v1.1h-1.1zM142.1 39.2h1.1v1.1h-1.1zM166.2 63.8h1.1v1.1h-1.1zM201.2 57.6h1.1v1.1h-1.1zM162.6 41.8h1.1v1.1h-1.1zM142.2 50.4h1.1v1.1h-1.1zM170.6 41.2h1.1v1.1h-1.1zM162.0 48.2h1.1v1.1h-1.1zM142.7 48.0h1.1v1.1h-1.1zM200.7 55.1h1.1v1.1h-1.1zM168.4 61.4h1.1v1.1h-1.1zM192.7 62.7h1.1v1.1h-1.1zM183.5 67.7h1.1v1.1h-1.1zM161.0 46.3h1.1v1.1h-1.1zM166.8 43.7h1.1v1.1h-1.1zM163.3 47.0h1.1v1.1h-1.1zM173.5 25.3h1.1v1.1h-1.1zM142.3 54.3h1.1v1.1h-1.1zM164.6 44.7h1.1v1.1h-1.1zM199.5 63.7h1.1v1.1h-1.1zM156.5 65.7h1.1v1.1h-1.1zM158.0 63.8h1.1v1.1h-1.1zM184.8 56.3h1.1v1.1h-1.1zM193.3 51.7h1.1v1.1h-1.1zM145.7 30.4h1.1v1.1h-1.1zM178.5 68.0h1.1v1.1h-1.1zM151.9 62.8h1.1v1.1h-1.1zM142.8 49.4h1.1v1.1h-1.1zM157.9 60.8h1.1v1.1h-1.1zM174.9 31.1h1.1v1.1h-1.1zM197.8 61.1h1.1v1.1h-1.1zM165.8 27.1h1.1v1.1h-1.1zM184.7 65.8h1.1v1.1h-1.1zM140.9 37.4h1.1v1.1h-1.1zM199.4 54.7h1.1v1.1h-1.1zM181.8 52.7h1.1v1.1h-1.1zM152.2 25.4h1.1v1.1h-1.1zM138.8 37.3h1.1v1.1h-1.1zM165.6 27.9h1.1v1.1h-1.1zM153.2 28.5h1.1v1.1h-1.1zM171.4 42.4h1.1v1.1h-1.1zM156.6 27.3h1.1v1.1h-1.1zM188.1 54.0h1.1v1.1h-1.1zM199.5 51.0h1.1v1.1h-1.1zM157.9 46.0h1.1v1.1h-1.1zM154.5 27.8h1.1v1.1h-1.1zM167.2 26.3h1.1v1.1h-1.1zM174.8 49.2h1.1v1.1h-1.1zM156.0 29.3h1.1v1.1h-1.1zM172.4 65.5h1.1v1.1h-1.1zM174.1 36.8h1.1v1.1h-1.1zM163.2 44.3h1.1v1.1h-1.1zM178.2 49.7h1.1v1.1h-1.1zM178.1 51.1h1.1v1.1h-1.1zM143.8 28.9h1.1v1.1h-1.1zM167.7 27.4h1.1v1.1h-1.1zM143.0 58.5h1.1v1.1h-1.1zM146.9 31.9h1.1v1.1h-1.1zM199.3 55.9h1.1v1.1h-1.1zM192.2 52.5h1.1v1.1h-1.1zM161.8 49.7h1.1v1.1h-1.1zM182.1 51.3h1.1v1.1h-1.1zM161.4 63.5h1.1v1.1h-1.1zM147.5 59.7h1.1v1.1h-1.1zM167.3 43.3h1.1v1.1h-1.1zM161.7 50.2h1.1v1.1h-1.1zM172.8 43.8h1.1v1.1h-1.1zM193.7 51.2h1.1v1.1h-1.1zM177.3 67.4h1.1v1.1h-1.1zM173.3 41.2h1.1v1.1h-1.1zM163.9 50.0h1.1v1.1h-1.1zM143.0 43.7h1.1v1.1h-1.1zM154.3 28.8h1.1v1.1h-1.1zM184.8 52.9h1.1v1.1h-1.1zM166.9 61.6h1.1v1.1h-1.1zM174.1 26.2h1.1v1.1h-1.1zM152.9 27.3h1.1v1.1h-1.1zM173.5 23.4h1.1v1.1h-1.1zM145.1 45.7h1.1v1.1h-1.1zM147.4 31.7h1.1v1.1h-1.1zM174.2 31.8h1.1v1.1h-1.1zM151.1 28.2h1.1v1.1h-1.1zM165.1 26.5h1.1v1.1h-1.1zM189.1 69.0h1.1v1.1h-1.1zM170.6 42.8h1.1v1.1h-1.1zM198.7 62.5h1.1v1.1h-1.1zM196.6 63.9h1.1v1.1h-1.1zM144.1 60.6h1.1v1.1h-1.1zM145.4 27.7h1.1v1.1h-1.1zM145.5 59.2h1.1v1.1h-1.1zM188.2 68.0h1.1v1.1h-1.1zM175.0 28.4h1.1v1.1h-1.1zM161.2 62.0h1.1v1.1h-1.1zM145.0 57.9h1.1v1.1h-1.1zM167.7 44.8h1.1v1.1h-1.1zM144.0 48.2h1.1v1.1h-1.1zM189.4 52.1h1.1v1.1h-1.1zM193.9 67.6h1.1v1.1h-1.1zM143.3 32.7h1.1v1.1h-1.1zM169.7 50.6h1.1v1.1h-1.1zM151.1 61.8h1.1v1.1h-1.1zM161.2 48.2h1.1v1.1h-1.1zM155.4 63.9h1.1v1.1h-1.1zM193.4 67.4h1.1v1.1h-1.1zM174.0 37.1h1.1v1.1h-1.1zM181.4 50.2h1.1v1.1h-1.1zM157.9 46.6h1.1v1.1h-1.1zM159.4 28.9h1.1v1.1h-1.1zM150.6 27.8h1.1v1.1h-1.1zM166.4 51.2h1.1v1.1h-1.1zM149.2 29.5h1.1v1.1h-1.1zM174.9 25.5h1.1v1.1h-1.1zM168.9 59.7h1.1v1.1h-1.1zM172.7 64.2h1.1v1.1h-1.1zM168.5 64.3h1.1v1.1h-1.1zM160.4 47.3h1.1v1.1h-1.1zM143.9 50.8h1.1v1.1h-1.1zM195.2 67.2h1.1v1.1h-1.1zM168.3 25.6h1.1v1.1h-1.1zM173.5 23.2h1.1v1.1h-1.1zM176.9 66.3h1.1v1.1h-1.1zM174.1 28.9h1.1v1.1h-1.1zM197.2 53.2h1.1v1.1h-1.1zM144.7 30.0h1.1v1.1h-1.1zM146.4 28.0h1.1v1.1h-1.1zM148.0 29.2h1.1v1.1h-1.1zM147.6 29.2h1.1v1.1h-1.1zM198.6 64.7h1.1v1.1h-1.1zM169.9 24.6h1.1v1.1h-1.1zM143.6 49.8h1.1v1.1h-1.1zM145.5 52.8h1.1v1.1h-1.1zM204.3 56.2h1.1v1.1h-1.1zM189.7 66.4h1.1v1.1h-1.1zM165.3 44.7h1.1v1.1h-1.1zM155.1 28.1h1.1v1.1h-1.1z"/>
<path fill="#f0479a" d="M80.8 88.5h1.1v1.1h-1.1zM139.6 107.7h1.1v1.1h-1.1zM52.6 95.8h1.1v1.1h-1.1zM96.9 89.4h1.1v1.1h-1.1zM88.1 89.1h1.1v1.1h-1.1zM140.1 113.0h1.1v1.1h-1.1zM121.5 143.1h1.1v1.1h-1.1zM55.3 111.4h1.1v1.1h-1.1zM54.4 99.8h1.1v1.1h-1.1zM67.5 91.1h1.1v1.1h-1.1zM87.9 87.7h1.1v1.1h-1.1zM85.0 127.9h1.1v1.1h-1.1zM113.9 94.9h1.1v1.1h-1.1zM64.1 121.3h1.1v1.1h-1.1zM108.5 140.3h1.1v1.1h-1.1zM77.3 86.5h1.1v1.1h-1.1zM75.4 122.1h1.1v1.1h-1.1zM95.0 88.9h1.1v1.1h-1.1zM139.2 110.0h1.1v1.1h-1.1zM133.0 144.2h1.1v1.1h-1.1zM136.4 131.5h1.1v1.1h-1.1zM106.0 137.8h1.1v1.1h-1.1zM111.5 143.5h1.1v1.1h-1.1zM54.4 99.4h1.1v1.1h-1.1zM52.8 95.7h1.1v1.1h-1.1zM137.5 137.3h1.1v1.1h-1.1zM74.0 88.2h1.1v1.1h-1.1zM99.6 129.6h1.1v1.1h-1.1zM55.0 101.7h1.1v1.1h-1.1zM125.0 93.8h1.1v1.1h-1.1zM140.6 123.5h1.1v1.1h-1.1zM137.0 112.3h1.1v1.1h-1.1zM66.2 92.4h1.1v1.1h-1.1zM110.1 142.1h1.1v1.1h-1.1zM133.0 99.6h1.1v1.1h-1.1zM89.3 128.5h1.1v1.1h-1.1zM74.3 125.6h1.1v1.1h-1.1zM78.5 125.2h1.1v1.1h-1.1zM137.7 115.1h1.1v1.1h-1.1zM125.8 95.0h1.1v1.1h-1.1zM96.0 130.3h1.1v1.1h-1.1zM82.0 128.4h1.1v1.1h-1.1zM138.7 130.2h1.1v1.1h-1.1zM64.9 119.7h1.1v1.1h-1.1zM86.0 85.9h1.1v1.1h-1.1zM64.4 120.3h1.1v1.1h-1.1zM74.8 90.2h1.1v1.1h-1.1zM86.4 88.0h1.1v1.1h-1.1zM136.6 139.5h1.1v1.1h-1.1zM67.2 93.1h1.1v1.1h-1.1zM67.1 93.3h1.1v1.1h-1.1zM51.0 96.1h1.1v1.1h-1.1zM140.7 114.3h1.1v1.1h-1.1zM88.5 129.9h1.1v1.1h-1.1zM61.9 93.0h1.1v1.1h-1.1zM113.0 145.1h1.1v1.1h-1.1zM79.2 121.8h1.1v1.1h-1.1zM91.8 86.9h1.1v1.1h-1.1zM84.8 86.8h1.1v1.1h-1.1zM70.7 121.0h1.1v1.1h-1.1zM77.9 124.5h1.1v1.1h-1.1zM135.5 142.1h1.1v1.1h-1.1zM77.6 126.8h1.1v1.1h-1.1zM71.9 91.8h1.1v1.1h-1.1zM138.6 106.5h1.1v1.1h-1.1zM98.1 129.2h1.1v1.1h-1.1zM113.4 95.7h1.1v1.1h-1.1zM93.6 129.6h1.1v1.1h-1.1zM139.4 133.8h1.1v1.1h-1.1zM94.7 131.3h1.1v1.1h-1.1zM140.8 124.0h1.1v1.1h-1.1zM134.2 104.3h1.1v1.1h-1.1zM101.6 93.3h1.1v1.1h-1.1zM103.2 89.5h1.1v1.1h-1.1zM97.2 131.7h1.1v1.1h-1.1zM82.0 87.5h1.1v1.1h-1.1zM72.7 89.5h1.1v1.1h-1.1zM94.7 89.8h1.1v1.1h-1.1zM94.2 86.5h1.1v1.1h-1.1zM78.6 127.1h1.1v1.1h-1.1zM138.9 108.7h1.1v1.1h-1.1zM53.3 95.9h1.1v1.1h-1.1zM83.7 84.3h1.1v1.1h-1.1zM112.6 142.8h1.1v1.1h-1.1zM139.8 115.3h1.1v1.1h-1.1zM135.9 107.9h1.1v1.1h-1.1zM64.9 121.6h1.1v1.1h-1.1zM52.8 102.6h1.1v1.1h-1.1zM66.2 121.7h1.1v1.1h-1.1zM100.9 91.5h1.1v1.1h-1.1zM103.7 90.9h1.1v1.1h-1.1zM111.3 143.4h1.1v1.1h-1.1zM117.5 94.6h1.1v1.1h-1.1zM100.0 131.2h1.1v1.1h-1.1zM134.8 144.6h1.1v1.1h-1.1zM137.1 142.8h1.1v1.1h-1.1zM77.6 124.3h1.1v1.1h-1.1zM102.4 133.5h1.1v1.1h-1.1zM60.5 93.3h1.1v1.1h-1.1zM62.8 90.2h1.1v1.1h-1.1zM121.9 144.7h1.1v1.1h-1.1zM140.8 130.1h1.1v1.1h-1.1zM112.3 93.3h1.1v1.1h-1.1zM139.0 112.1h1.1v1.1h-1.1zM95.5 128.0h1.1v1.1h-1.1zM76.1 127.9h1.1v1.1h-1.1zM133.2 144.5h1.1v1.1h-1.1zM137.3 105.1h1.1v1.1h-1.1zM115.6 96.7h1.1v1.1h-1.1zM140.0 134.8h1.1v1.1h-1.1zM124.2 96.3h1.1v1.1h-1.1zM131.2 144.1h1.1v1.1h-1.1zM108.1 137.1h1.1v1.1h-1.1zM68.0 89.8h1.1v1.1h-1.1zM53.7 93.3h1.1v1.1h-1.1zM103.2 89.4h1.1v1.1h-1.1zM61.2 117.8h1.1v1.1h-1.1zM115.7 144.0h1.1v1.1h-1.1zM92.9 88.2h1.1v1.1h-1.1zM59.6 119.5h1.1v1.1h-1.1zM143.8 124.8h1.1v1.1h-1.1zM141.0 126.8h1.1v1.1h-1.1zM59.1 107.0h1.1v1.1h-1.1zM64.6 91.9h1.1v1.1h-1.1zM101.9 93.1h1.1v1.1h-1.1zM127.3 144.3h1.1v1.1h-1.1zM96.6 85.8h1.1v1.1h-1.1zM108.2 137.7h1.1v1.1h-1.1zM102.0 92.7h1.1v1.1h-1.1zM77.7 88.5h1.1v1.1h-1.1zM98.0 91.4h1.1v1.1h-1.1zM140.3 113.7h1.1v1.1h-1.1zM95.5 86.2h1.1v1.1h-1.1zM87.1 85.2h1.1v1.1h-1.1zM70.2 120.2h1.1v1.1h-1.1zM123.8 98.1h1.1v1.1h-1.1zM133.3 101.0h1.1v1.1h-1.1zM66.3 91.7h1.1v1.1h-1.1zM135.1 98.9h1.1v1.1h-1.1zM110.8 96.0h1.1v1.1h-1.1zM122.6 147.5h1.1v1.1h-1.1zM98.5 89.4h1.1v1.1h-1.1zM62.1 119.2h1.1v1.1h-1.1zM56.5 110.2h1.1v1.1h-1.1zM75.1 89.8h1.1v1.1h-1.1zM79.1 88.0h1.1v1.1h-1.1zM79.2 87.9h1.1v1.1h-1.1zM118.7 144.5h1.1v1.1h-1.1zM80.0 86.4h1.1v1.1h-1.1zM69.2 123.6h1.1v1.1h-1.1zM94.4 128.0h1.1v1.1h-1.1zM78.3 125.8h1.1v1.1h-1.1zM138.7 137.5h1.1v1.1h-1.1zM51.2 94.0h1.1v1.1h-1.1zM63.3 93.8h1.1v1.1h-1.1zM135.1 108.8h1.1v1.1h-1.1zM127.6 95.8h1.1v1.1h-1.1zM57.4 105.9h1.1v1.1h-1.1zM129.4 143.6h1.1v1.1h-1.1zM78.0 128.5h1.1v1.1h-1.1zM91.4 86.7h1.1v1.1h-1.1zM52.6 98.0h1.1v1.1h-1.1zM140.1 130.4h1.1v1.1h-1.1zM141.0 130.9h1.1v1.1h-1.1zM55.5 102.0h1.1v1.1h-1.1zM138.9 102.1h1.1v1.1h-1.1zM137.9 109.0h1.1v1.1h-1.1zM129.8 145.0h1.1v1.1h-1.1zM82.3 88.8h1.1v1.1h-1.1zM126.0 96.3h1.1v1.1h-1.1zM97.6 88.9h1.1v1.1h-1.1zM77.4 88.1h1.1v1.1h-1.1zM67.8 122.1h1.1v1.1h-1.1zM125.9 147.8h1.1v1.1h-1.1zM137.5 97.0h1.1v1.1h-1.1zM139.1 109.0h1.1v1.1h-1.1zM140.8 115.4h1.1v1.1h-1.1zM117.9 146.5h1.1v1.1h-1.1zM59.0 113.3h1.1v1.1h-1.1zM54.8 112.6h1.1v1.1h-1.1zM138.1 107.5h1.1v1.1h-1.1zM125.5 94.9h1.1v1.1h-1.1zM140.7 120.0h1.1v1.1h-1.1zM131.7 146.2h1.1v1.1h-1.1zM138.3 124.0h1.1v1.1h-1.1zM111.3 141.9h1.1v1.1h-1.1zM131.9 143.5h1.1v1.1h-1.1zM121.8 96.9h1.1v1.1h-1.1zM128.7 97.9h1.1v1.1h-1.1zM136.2 104.9h1.1v1.1h-1.1zM74.7 88.0h1.1v1.1h-1.1zM91.1 88.8h1.1v1.1h-1.1zM101.4 131.5h1.1v1.1h-1.1zM137.1 103.3h1.1v1.1h-1.1zM103.3 88.7h1.1v1.1h-1.1zM133.4 144.1h1.1v1.1h-1.1zM96.5 128.6h1.1v1.1h-1.1zM111.6 98.6h1.1v1.1h-1.1zM78.3 124.5h1.1v1.1h-1.1zM59.0 111.5h1.1v1.1h-1.1z"/>
<path fill="#f0479a" d="M165.2 124.5h1.1v1.1h-1.1zM144.7 139.1h1.1v1.1h-1.1zM168.7 130.1h1.1v1.1h-1.1zM143.0 128.3h1.1v1.1h-1.1zM144.9 133.5h1.1v1.1h-1.1zM165.7 125.5h1.1v1.1h-1.1zM144.3 142.4h1.1v1.1h-1.1zM168.2 128.5h1.1v1.1h-1.1zM154.8 142.3h1.1v1.1h-1.1zM150.5 146.9h1.1v1.1h-1.1zM141.1 137.4h1.1v1.1h-1.1zM144.8 123.7h1.1v1.1h-1.1zM161.0 125.4h1.1v1.1h-1.1zM147.6 143.4h1.1v1.1h-1.1zM159.2 141.7h1.1v1.1h-1.1zM161.7 140.0h1.1v1.1h-1.1zM147.6 124.2h1.1v1.1h-1.1zM167.0 128.5h1.1v1.1h-1.1zM142.3 134.1h1.1v1.1h-1.1zM148.0 124.3h1.1v1.1h-1.1zM169.3 136.3h1.1v1.1h-1.1zM142.2 128.5h1.1v1.1h-1.1zM146.3 122.0h1.1v1.1h-1.1zM143.8 142.4h1.1v1.1h-1.1zM163.0 123.7h1.1v1.1h-1.1zM141.5 135.9h1.1v1.1h-1.1zM143.5 148.1h1.1v1.1h-1.1zM142.7 133.3h1.1v1.1h-1.1zM159.4 125.6h1.1v1.1h-1.1zM162.0 142.0h1.1v1.1h-1.1zM142.1 141.9h1.1v1.1h-1.1zM162.0 125.8h1.1v1.1h-1.1zM163.5 123.6h1.1v1.1h-1.1zM142.7 122.1h1.1v1.1h-1.1zM144.7 129.0h1.1v1.1h-1.1zM148.6 143.0h1.1v1.1h-1.1zM153.4 146.7h1.1v1.1h-1.1zM142.5 144.3h1.1v1.1h-1.1zM160.8 141.1h1.1v1.1h-1.1zM161.0 138.0h1.1v1.1h-1.1zM164.7 136.7h1.1v1.1h-1.1zM151.8 144.8h1.1v1.1h-1.1zM160.0 123.7h1.1v1.1h-1.1zM142.9 132.4h1.1v1.1h-1.1zM143.4 136.4h1.1v1.1h-1.1zM168.7 129.5h1.1v1.1h-1.1zM157.2 144.7h1.1v1.1h-1.1zM152.5 119.8h1.1v1.1h-1.1zM144.2 126.2h1.1v1.1h-1.1zM143.7 131.2h1.1v1.1h-1.1z"/>
<path fill="#c0342e" d="M184.5 80.9h1.1v1.1h-1.1zM183.5 81.7h1.1v1.1h-1.1zM164.3 123.8h1.1v1.1h-1.1zM155.1 113.2h1.1v1.1h-1.1zM175.5 91.4h1.1v1.1h-1.1zM178.7 88.9h1.1v1.1h-1.1zM197.3 93.4h1.1v1.1h-1.1zM163.6 124.6h1.1v1.1h-1.1zM168.7 100.0h1.1v1.1h-1.1zM190.6 105.4h1.1v1.1h-1.1zM175.7 117.8h1.1v1.1h-1.1zM185.0 82.6h1.1v1.1h-1.1zM181.3 81.0h1.1v1.1h-1.1zM176.6 92.5h1.1v1.1h-1.1zM165.8 103.7h1.1v1.1h-1.1zM193.5 101.7h1.1v1.1h-1.1zM188.1 107.8h1.1v1.1h-1.1zM160.8 123.7h1.1v1.1h-1.1zM159.1 120.8h1.1v1.1h-1.1zM167.8 120.1h1.1v1.1h-1.1zM153.2 116.3h1.1v1.1h-1.1zM179.0 119.8h1.1v1.1h-1.1zM162.1 105.4h1.1v1.1h-1.1zM185.4 109.2h1.1v1.1h-1.1zM188.4 108.4h1.1v1.1h-1.1zM199.5 83.5h1.1v1.1h-1.1zM198.0 92.7h1.1v1.1h-1.1zM173.2 95.7h1.1v1.1h-1.1zM175.4 119.4h1.1v1.1h-1.1zM195.5 99.3h1.1v1.1h-1.1zM163.5 104.1h1.1v1.1h-1.1zM161.1 124.8h1.1v1.1h-1.1zM187.5 78.9h1.1v1.1h-1.1zM189.7 110.8h1.1v1.1h-1.1zM197.1 93.1h1.1v1.1h-1.1zM152.0 115.3h1.1v1.1h-1.1zM195.2 104.7h1.1v1.1h-1.1zM193.7 77.7h1.1v1.1h-1.1zM192.4 77.8h1.1v1.1h-1.1zM157.2 122.4h1.1v1.1h-1.1zM188.2 78.2h1.1v1.1h-1.1zM171.7 94.9h1.1v1.1h-1.1zM199.2 89.8h1.1v1.1h-1.1zM155.7 122.3h1.1v1.1h-1.1zM176.1 120.2h1.1v1.1h-1.1zM176.6 119.4h1.1v1.1h-1.1zM193.4 82.3h1.1v1.1h-1.1zM167.6 100.2h1.1v1.1h-1.1zM177.4 92.6h1.1v1.1h-1.1zM184.5 81.2h1.1v1.1h-1.1zM198.8 90.7h1.1v1.1h-1.1zM179.3 91.8h1.1v1.1h-1.1zM160.6 126.1h1.1v1.1h-1.1zM199.5 88.3h1.1v1.1h-1.1zM200.0 95.6h1.1v1.1h-1.1zM154.7 113.5h1.1v1.1h-1.1zM160.4 108.1h1.1v1.1h-1.1zM156.3 120.4h1.1v1.1h-1.1zM181.2 84.9h1.1v1.1h-1.1zM168.0 120.3h1.1v1.1h-1.1zM191.7 103.1h1.1v1.1h-1.1zM172.4 121.3h1.1v1.1h-1.1zM187.1 112.0h1.1v1.1h-1.1zM197.6 97.6h1.1v1.1h-1.1zM191.3 79.5h1.1v1.1h-1.1zM185.4 113.4h1.1v1.1h-1.1zM156.9 109.1h1.1v1.1h-1.1zM188.8 80.3h1.1v1.1h-1.1zM179.3 118.2h1.1v1.1h-1.1zM152.5 115.2h1.1v1.1h-1.1zM155.9 121.4h1.1v1.1h-1.1zM165.3 101.4h1.1v1.1h-1.1zM170.2 98.8h1.1v1.1h-1.1zM160.0 112.7h1.1v1.1h-1.1zM197.7 83.0h1.1v1.1h-1.1zM171.7 119.2h1.1v1.1h-1.1zM154.9 119.7h1.1v1.1h-1.1zM193.4 103.1h1.1v1.1h-1.1zM191.1 79.1h1.1v1.1h-1.1zM196.3 97.8h1.1v1.1h-1.1zM176.1 120.3h1.1v1.1h-1.1zM180.3 117.2h1.1v1.1h-1.1zM198.5 90.0h1.1v1.1h-1.1zM167.8 99.0h1.1v1.1h-1.1zM179.2 86.5h1.1v1.1h-1.1zM197.8 95.2h1.1v1.1h-1.1zM176.3 86.6h1.1v1.1h-1.1zM188.0 79.9h1.1v1.1h-1.1zM177.4 88.6h1.1v1.1h-1.1zM182.3 86.3h1.1v1.1h-1.1z"/>
<path fill="#22c3c6" d="M83.1 67.3h1.1v1.1h-1.1zM82.1 67.7h1.1v1.1h-1.1zM80.5 59.4h1.1v1.1h-1.1zM71.6 67.8h1.1v1.1h-1.1zM72.9 68.4h1.1v1.1h-1.1zM68.5 65.5h1.1v1.1h-1.1zM68.0 64.6h1.1v1.1h-1.1zM83.8 66.2h1.1v1.1h-1.1zM71.0 68.1h1.1v1.1h-1.1zM71.5 67.2h1.1v1.1h-1.1zM84.0 58.6h1.1v1.1h-1.1zM68.4 62.0h1.1v1.1h-1.1zM71.0 58.4h1.1v1.1h-1.1zM69.0 60.7h1.1v1.1h-1.1zM73.3 67.4h1.1v1.1h-1.1zM71.0 61.9h1.1v1.1h-1.1zM77.0 67.2h1.1v1.1h-1.1zM68.2 58.0h1.1v1.1h-1.1zM72.9 67.0h1.1v1.1h-1.1zM70.5 67.1h1.1v1.1h-1.1zM79.8 66.5h1.1v1.1h-1.1zM66.5 66.7h1.1v1.1h-1.1zM72.5 58.4h1.1v1.1h-1.1zM78.4 59.4h1.1v1.1h-1.1zM82.8 61.6h1.1v1.1h-1.1z"/>
<path d="M47.2 7.3V152.5H207.2V7.3H47.2" fill="none" stroke="#333" stroke-width="1.4"/>
<text x="43.8" y="26.6" font-size="8.2" text-anchor="end" fill="#222" textLength="9.8" lengthAdjust="spacingAndGlyphs">40</text>
<text x="43.8" y="56.7" font-size="8.2" text-anchor="end" fill="#222" textLength="9.8" lengthAdjust="spacingAndGlyphs">20</text>
<text x="43.8" y="86.8" font-size="8.2" text-anchor="end" fill="#222" textLength="4.9" lengthAdjust="spacingAndGlyphs">0</text>
<text x="43.8" y="116.9" font-size="8.2" text-anchor="end" fill="#222" textLength="12.6" lengthAdjust="spacingAndGlyphs">-20</text>
<text x="43.8" y="147.0" font-size="8.2" text-anchor="end" fill="#222" textLength="12.6" lengthAdjust="spacingAndGlyphs">-40</text>
<text x="64.7" y="163.8" font-size="8.2" text-anchor="middle" fill="#222">-40</text>
<text x="98.2" y="163.8" font-size="8.2" text-anchor="middle" fill="#222">-20</text>
<text x="131.7" y="163.8" font-size="8.2" text-anchor="middle" fill="#222">0</text>
<text x="165.2" y="163.8" font-size="8.2" text-anchor="middle" fill="#222">20</text>
<text x="198.7" y="163.8" font-size="8.2" text-anchor="middle" fill="#222">40</text>
<text x="127.0" y="178.2" font-size="10" text-anchor="middle" fill="#222" textLength="24" lengthAdjust="spacingAndGlyphs">t-SNE 1</text>
<text x="0" y="0" font-size="10" text-anchor="middle" fill="#222" textLength="25" lengthAdjust="spacingAndGlyphs" transform="translate(25.6 80) rotate(-90)">t-SNE 2</text>
<ellipse cx="219.6" cy="18.8" rx="4.3" ry="3.2" fill="#d01010"/>
<text x="227.3" y="21.6" font-size="8.2" text-anchor="start" fill="#222">HSC</text>
<ellipse cx="219.6" cy="32.8" rx="4.3" ry="3.2" fill="#ff3ec8"/>
<text x="227.3" y="35.6" font-size="8.2" text-anchor="start" fill="#222">MEP</text>
<ellipse cx="219.6" cy="46.8" rx="4.3" ry="3.2" fill="#1ee0d0"/>
<text x="227.3" y="49.6" font-size="8.2" text-anchor="start" fill="#222">GMP</text>
<ellipse cx="219.6" cy="60.8" rx="4.3" ry="3.2" fill="#5a78ff"/>
<text x="227.3" y="63.6" font-size="8.2" text-anchor="start" fill="#222">ProB</text>
<ellipse cx="219.6" cy="74.8" rx="4.3" ry="3.2" fill="#8b3e0a"/>
<text x="227.3" y="77.6" font-size="8.2" text-anchor="start" fill="#222">ETP</text>
<text x="262.5" y="18.6" font-size="12.5" text-anchor="start" font-weight="bold">B</text>
<text x="293.5" y="16.7" font-size="8.5" text-anchor="start" fill="#d23fae" textLength="92" lengthAdjust="spacingAndGlyphs" stroke="#d23fae" stroke-width="0.15">Erythroid/megakaryocytic</text>
<path d="M278.1 55.0L387.6 30.5M387.6 30.5L427.7 125.5M427.7 125.5L408.3 152.0M427.7 125.5L397.7 130.8M397.7 130.8L408.3 152.0M408.3 152.0L321.3 171.3M321.3 171.3L286.6 155.4M286.6 155.4L397.7 130.8M278.1 55.0L286.6 155.4M278.1 55.0L340.0 140.0M318.5 145.0L321.3 171.3M387.6 30.5L385.0 80.0M384.0 84.0L397.7 130.8" stroke="#a0a0a0" stroke-width="0.55" fill="none"/>
<path d="M286.9 53.0L285.7 49.0M311.0 47.6L309.8 43.6M335.0 42.3L333.8 38.3M359.1 36.9L357.9 32.9M383.2 31.5L382.0 27.5M279.0 65.0L275.0 64.0M280.8 87.1L276.8 86.1M283.2 115.2L279.2 114.2M285.4 141.3L281.4 140.3M293.5 158.6L293.0 163.6M302.2 162.6L301.7 167.6M310.9 166.5L310.4 171.5" stroke="#999" stroke-width="0.45" fill="none"/>
<g font-size="4" fill="#555">
<text x="277.4" y="46">2</text>
<text x="301.5" y="39.5">1</text>
<text x="326.8" y="34.8">0</text>
<text x="350.8" y="28.6">-1</text>
<text x="375.5" y="23.8">-2</text>
<text x="271.6" y="67.4">-1</text>
<text x="273.5" y="91.4">0</text>
<text x="275.4" y="118.7">1</text>
<text x="277.2" y="150.5">2</text>
<text x="294" y="178">2</text>
<text x="306" y="179">0</text>
<text x="383" y="46" font-size="3.5">Dim</text><text x="401.5" y="119.5" font-size="3.5">Dim</text></g>
<g>
<path d="M312.4 97.4L328.8 90.0L354.3 85.0L376.9 86.7L393.3 95.6L404.0 111.9L404.7 125.0L397.0 134.9L374.4 139.7L347.2 138.5L328.2 130.2L312.1 119.2L304.0 109.5Z" fill="#3c9494" mask="url(#mv)"/>
<path d="M306.6 114.9L320.8 111.2L337.1 117.5L346.0 128.3L347.6 137.8L331.4 141.7L312.8 136.4L304.0 124.6Z" fill="#3b66b2" mask="url(#mv)"/>
<path d="M301.7 93.3L313.5 83.4L325.7 75.8L345.5 66.0L361.2 63.3L374.9 63.3L385.3 66.5L387.4 71.0L376.5 77.6L353.4 88.9L329.0 97.3L314.3 100.5L303.0 101.0Z" fill="#a3336c" mask="url(#mv)"/>
<path d="M292.9 88.3L304.6 80.8L321.4 81.8L333.6 92.6L333.4 106.9L324.2 116.8L304.6 117.2L292.5 106.8Z" fill="#852626" mask="url(#mv)"/>
<path d="M320.0 128.0L345.0 132.0L370.0 136.0L390.0 134.0L396.0 141.0L382.0 148.0L352.0 150.0L326.0 145.0Z" fill="#3c9494" mask="url(#ms)"/>
<path d="M320.0 128.0L345.0 132.0L370.0 136.0L390.0 134.0L396.0 141.0L382.0 148.0L352.0 150.0L326.0 145.0Z" fill="#3b66b2" mask="url(#mv)"/>
</g><g mask="url(#md)">
<path d="M319.1 99.7L334.2 94.4L354.9 92.0L372.6 92.2L386.9 98.6L397.0 112.0L398.0 123.2L390.9 131.5L370.5 133.8L349.7 131.9L334.1 126.5L319.0 118.1L311.0 109.9Z" fill="#3c9494" filter="url(#bl3)"/>
<path d="M309.1 116.5L321.7 114.0L334.8 119.4L343.0 128.1L344.9 136.5L330.3 138.9L315.2 134.6L307.0 124.9Z" fill="#3b66b2" filter="url(#bl3)"/>
<path d="M345.0 128.0L360.0 130.0L376.0 134.0L380.0 139.0L366.0 141.0L350.0 140.0Z" fill="#3b66b2" fill-opacity="0.35" filter="url(#bl3)"/>
<path d="M305.0 92.3L317.0 83.1L329.0 76.7L345.1 69.5L358.7 65.8L371.9 65.0L381.9 67.7L384.0 71.8L373.0 77.9L350.8 86.7L331.3 94.7L317.2 98.6L306.1 99.4Z" fill="#a3336c" filter="url(#bl2)"/>
<path d="M299.1 91.5L307.6 87.1L318.4 88.1L327.0 94.7L326.9 104.4L320.5 110.9L307.6 110.9L299.1 104.4Z" fill="#852626" filter="url(#bl3)"/>
</g>
<path fill="#b07a2a" d="M329.5 133.1h1.0v1.0h-1.0zM343.7 128.2h1.0v1.0h-1.0zM349.2 143.7h1.0v1.0h-1.0zM322.6 118.8h1.0v1.0h-1.0zM332.5 118.0h1.0v1.0h-1.0zM328.3 121.9h1.0v1.0h-1.0zM327.1 126.3h1.0v1.0h-1.0zM338.5 127.4h1.0v1.0h-1.0zM342.6 128.2h1.0v1.0h-1.0zM334.6 138.8h1.0v1.0h-1.0zM340.1 111.0h1.0v1.0h-1.0zM329.0 111.8h1.0v1.0h-1.0zM338.2 123.1h1.0v1.0h-1.0zM333.8 138.1h1.0v1.0h-1.0zM342.9 129.1h1.0v1.0h-1.0zM329.6 117.0h1.0v1.0h-1.0zM338.3 125.2h1.0v1.0h-1.0zM321.3 122.7h1.0v1.0h-1.0zM338.1 122.5h1.0v1.0h-1.0zM330.7 120.2h1.0v1.0h-1.0zM336.4 124.6h1.0v1.0h-1.0zM343.4 131.6h1.0v1.0h-1.0zM335.4 120.8h1.0v1.0h-1.0zM341.9 128.3h1.0v1.0h-1.0zM334.1 129.5h1.0v1.0h-1.0zM346.8 133.0h1.0v1.0h-1.0zM354.0 117.9h1.0v1.0h-1.0zM338.1 124.1h1.0v1.0h-1.0zM337.1 119.5h1.0v1.0h-1.0zM324.6 124.6h1.0v1.0h-1.0zM331.1 124.6h1.0v1.0h-1.0zM330.9 116.3h1.0v1.0h-1.0zM340.1 125.1h1.0v1.0h-1.0zM343.2 139.3h1.0v1.0h-1.0zM340.5 127.4h1.0v1.0h-1.0zM328.3 115.0h1.0v1.0h-1.0zM352.2 117.5h1.0v1.0h-1.0zM328.6 123.7h1.0v1.0h-1.0zM337.2 117.7h1.0v1.0h-1.0zM335.3 132.6h1.0v1.0h-1.0zM330.7 114.2h1.0v1.0h-1.0zM346.5 127.4h1.0v1.0h-1.0zM332.4 112.9h1.0v1.0h-1.0zM331.3 123.6h1.0v1.0h-1.0zM348.5 116.7h1.0v1.0h-1.0zM337.2 128.7h1.0v1.0h-1.0zM316.6 131.2h1.0v1.0h-1.0zM327.4 126.3h1.0v1.0h-1.0zM340.2 131.6h1.0v1.0h-1.0zM343.0 107.4h1.0v1.0h-1.0zM370.3 138.4h1.0v1.0h-1.0zM373.8 139.4h1.0v1.0h-1.0zM379.7 139.8h1.0v1.0h-1.0zM373.7 132.5h1.0v1.0h-1.0zM372.3 139.2h1.0v1.0h-1.0zM368.5 139.9h1.0v1.0h-1.0zM380.5 138.4h1.0v1.0h-1.0zM356.6 134.2h1.0v1.0h-1.0zM386.3 136.4h1.0v1.0h-1.0zM363.1 141.7h1.0v1.0h-1.0zM375.1 141.3h1.0v1.0h-1.0zM376.7 139.4h1.0v1.0h-1.0zM377.2 140.1h1.0v1.0h-1.0zM388.7 140.9h1.0v1.0h-1.0zM365.5 139.3h1.0v1.0h-1.0zM381.8 141.6h1.0v1.0h-1.0zM372.4 141.5h1.0v1.0h-1.0zM380.6 145.7h1.0v1.0h-1.0zM370.5 136.5h1.0v1.0h-1.0zM373.2 136.5h1.0v1.0h-1.0z"/>
<defs><linearGradient id="gmag" gradientUnits="userSpaceOnUse" x1="293" y1="84" x2="328" y2="58"><stop offset="0" stop-color="#fff"/><stop offset="1" stop-color="#d93aa8"/></linearGradient><linearGradient id="gblu" gradientUnits="userSpaceOnUse" x1="300" y1="118" x2="345" y2="160"><stop offset="0" stop-color="#dcdcff"/><stop offset="1" stop-color="#0a0ae6"/></linearGradient><linearGradient id="gteal" gradientUnits="userSpaceOnUse" x1="331" y1="101" x2="385" y2="116"><stop offset="0" stop-color="#fff"/><stop offset="1" stop-color="#62d0bb"/></linearGradient></defs>
<path d="M293 84 C302 71 316 61 338 56 C346 54.2 355 53.2 367 53" stroke="url(#gmag)" stroke-width="6.3" fill="none"/>
<path d="M363.5 42.3 L383.2 53 L363.5 63.3 L368 53Z" fill="#d93aa8"/>
<path d="M300.5 118.5 C310 138 326 152 345 157.8 L368 160" stroke="url(#gblu)" stroke-width="6.5" fill="none"/>
<path d="M363.2 152 L383.7 158.8 L365 172.6 L369 161Z" fill="#0a0ae6"/>
<path d="M331 102.5 C350 110 368 115.5 391 119.5" stroke="url(#gteal)" stroke-width="4.6" fill="none"/>
<path d="M385.6 112.3 L406.3 117.5 L390.7 128.7 L389.5 119Z" fill="#62d0bb"/>
<text x="390.8" y="99.9" font-size="8.4" text-anchor="start" fill="#62cfb9" textLength="28" lengthAdjust="spacingAndGlyphs" stroke="#62cfb9" stroke-width="0.2">Myeloid</text>
<text x="384.4" y="170.9" font-size="8.3" text-anchor="start" fill="#2a2ae8" textLength="34.6" lengthAdjust="spacingAndGlyphs" stroke="#2a2ae8" stroke-width="0.3">Lymphoid</text>
<text x="7.5" y="198.3" font-size="12.5" text-anchor="start" font-weight="bold">C</text>
<text x="161.7" y="194.3" font-size="9.2" text-anchor="start" fill="#222" textLength="122.6" lengthAdjust="spacingAndGlyphs">Signature genes of lineages</text>
<line x1="161.7" y1="196.6" x2="284.4" y2="196.6" stroke="#333" stroke-width="0.7"/>
<text x="60.6" y="212.6" font-size="9" text-anchor="middle" fill="#111" textLength="18.8" lengthAdjust="spacingAndGlyphs">HSC</text>
<text x="167.0" y="212.6" font-size="9" text-anchor="middle" fill="#111" textLength="18.8" lengthAdjust="spacingAndGlyphs">MEP</text>
<text x="274.5" y="212.6" font-size="9" text-anchor="middle" fill="#111" textLength="28.3" lengthAdjust="spacingAndGlyphs">Myeloid</text>
<text x="383.8" y="212.6" font-size="9" text-anchor="middle" fill="#111" textLength="35" lengthAdjust="spacingAndGlyphs">Lymphoid</text>
<path d="M19.5 241.5L81.5 226.5M81.5 226.5L106.5 283.5M106.5 283.5L95.0 301.0M95.0 301.0L44.5 312.5M19.5 241.5L23.2 299.0M23.2 299.0L44.5 312.5M19.5 241.5L42.5 277.5M42.5 277.5L44.5 312.5M106.5 283.5L42.5 294.5" stroke="#a8a8a8" stroke-width="0.5" fill="none"/>
<path d="M26.9 239.7L26.3 237.2M41.2 236.2L40.6 233.8M55.5 232.8L54.9 230.3M70.3 229.2L69.7 226.7M80.3 226.8L79.7 224.3M20.0 250.3L17.5 249.8M20.9 264.9L18.4 264.4M21.8 279.5L19.3 279.0M22.7 294.1L20.2 293.6M28.2 302.5L27.9 305.0M33.3 305.0L33.0 307.5M38.4 307.5L38.1 310.0" stroke="#aaa" stroke-width="0.4" fill="none"/>
<g font-size="3" fill="#666">
<text x="16.5" y="246.5">2</text>
<text x="16.5" y="266.5">0</text>
<text x="15.5" y="286.5">-2</text>
<text x="29.5" y="234.5">-2</text>
<text x="51.5" y="227.5">0</text>
<text x="74.5" y="222.5">2</text>
<text x="83.5" y="234.5">Dim</text>
<text x="99.5" y="281.5">Dim</text>
</g>
<g>
<path d="M29.5 258.5L37.5 254.0L47.5 254.0L59.5 259.5L69.5 262.5L77.5 263.5L83.5 257.5L86.5 265.5L87.5 272.5L92.5 281.5L91.5 292.5L81.5 300.0L67.5 302.5L55.5 299.5L44.5 292.5L33.5 285.5L26.5 275.5L26.5 265.5Z" fill="#8c8c8c" mask="url(#mv)"/>
<path d="M42.5 256.5L47.5 249.5L59.5 245.5L69.5 244.0L78.5 245.0L84.0 250.5L82.5 257.5L71.5 262.0L61.5 266.5L50.5 271.5L41.5 267.5Z" fill="#8c8c8c" mask="url(#mv)"/>
<path d="M27.5 263.5L33.5 256.5L43.5 255.5L50.5 263.5L53.5 275.5L51.5 283.5L41.5 285.5L31.5 279.5Z" fill="#b01414" mask="url(#mv)"/>
</g><g mask="url(#md)">
<path d="M33.5 260.5L40.5 257.0L49.5 258.0L59.5 263.5L67.5 267.0L77.5 270.0L85.5 274.5L89.0 282.5L88.5 290.0L81.5 295.5L69.5 298.5L59.5 296.5L49.5 291.5L41.5 286.5L33.5 278.5L30.5 270.0Z" fill="#858585" filter="url(#bl2)"/>
<path d="M45.5 257.5L49.5 252.0L59.5 248.5L69.5 247.0L77.0 248.0L81.0 251.5L79.5 255.2L69.5 259.0L59.5 263.0L49.5 267.5L44.5 264.5Z" fill="#858585" filter="url(#bl1)"/>
<path d="M62.5 255.0L74.5 253.5L81.5 254.5L84.5 263.5L82.5 272.5L74.5 267.5L64.5 263.5Z" fill="#8c8c8c" fill-opacity="0.12" filter="url(#bl2)"/>
<path d="M63.5 274.5L75.5 275.5L82.5 281.5L83.5 289.5L75.5 293.5L65.5 292.5L59.5 284.5Z" fill="#5a5a5a" fill-opacity="0.35" filter="url(#bl2)"/>
<path d="M30.5 263.5L35.5 257.5L42.5 257.5L47.5 264.5L47.5 274.5L43.5 281.5L36.5 281.5L30.5 273.5Z" fill="#a51414" fill-opacity="0.85" filter="url(#bl2)"/>
</g>
<path d="M125.0 238.8L187.0 223.8M187.0 223.8L212.0 280.8M212.0 280.8L200.5 298.3M200.5 298.3L150.0 309.8M125.0 238.8L128.7 296.3M128.7 296.3L150.0 309.8M125.0 238.8L148.0 274.8M148.0 274.8L150.0 309.8M212.0 280.8L148.0 291.8" stroke="#a8a8a8" stroke-width="0.5" fill="none"/>
<path d="M132.4 237.0L131.8 234.5M146.7 233.6L146.1 231.1M161.0 230.1L160.4 227.6M175.8 226.5L175.2 224.0M185.8 224.1L185.2 221.6M125.5 247.6L123.0 247.1M126.4 262.2L123.9 261.7M127.3 276.8L124.8 276.3M128.2 291.4L125.7 290.9M133.7 299.8L133.4 302.3M138.8 302.3L138.5 304.8M143.9 304.8L143.6 307.3" stroke="#aaa" stroke-width="0.4" fill="none"/>
<g font-size="3" fill="#666">
<text x="122.0" y="243.8">2</text>
<text x="122.0" y="263.8">0</text>
<text x="121.0" y="283.8">-2</text>
<text x="135.0" y="231.8">-2</text>
<text x="157.0" y="224.8">0</text>
<text x="180.0" y="219.8">2</text>
<text x="189.0" y="231.8">Dim</text>
<text x="205.0" y="278.8">Dim</text>
</g>
<g>
<path d="M135.0 255.8L143.0 251.3L153.0 251.3L165.0 256.8L175.0 259.8L183.0 260.8L189.0 254.8L192.0 262.8L193.0 269.8L198.0 278.8L197.0 289.8L187.0 297.3L173.0 299.8L161.0 296.8L150.0 289.8L139.0 282.8L132.0 272.8L132.0 262.8Z" fill="#8c8c8c" mask="url(#mv)"/>
<path d="M148.0 253.8L153.0 246.8L165.0 242.8L175.0 241.3L184.0 242.3L189.5 247.8L188.0 254.8L177.0 259.3L167.0 263.8L156.0 268.8L147.0 264.8Z" fill="#8c8c8c" mask="url(#mv)"/>
<path d="M148.0 253.8L153.0 246.8L165.0 242.8L175.0 241.3L184.0 242.3L189.5 247.8L188.0 254.8L177.0 259.3L167.0 263.8L156.0 268.8L147.0 264.8Z" fill="#b01414" mask="url(#mv)"/>
</g><g mask="url(#md)">
<path d="M139.0 257.8L146.0 254.3L155.0 255.3L165.0 260.8L173.0 264.3L183.0 267.3L191.0 271.8L194.5 279.8L194.0 287.3L187.0 292.8L175.0 295.8L165.0 293.8L155.0 288.8L147.0 283.8L139.0 275.8L136.0 267.3Z" fill="#858585" filter="url(#bl2)"/>
<path d="M151.0 254.8L155.0 249.3L165.0 245.8L175.0 244.3L182.5 245.3L186.5 248.8L185.0 252.5L175.0 256.3L165.0 260.3L155.0 264.8L150.0 261.8Z" fill="#858585" filter="url(#bl1)"/>
<path d="M168.0 252.3L180.0 250.8L187.0 251.8L190.0 260.8L188.0 269.8L180.0 264.8L170.0 260.8Z" fill="#8c8c8c" fill-opacity="0.12" filter="url(#bl2)"/>
<path d="M169.0 271.8L181.0 272.8L188.0 278.8L189.0 286.8L181.0 290.8L171.0 289.8L165.0 281.8Z" fill="#5a5a5a" fill-opacity="0.35" filter="url(#bl2)"/>
<path d="M151.0 254.8L155.0 249.3L165.0 245.8L175.0 244.3L182.5 245.3L186.5 248.8L185.0 252.5L175.0 256.3L165.0 260.3L155.0 264.8L150.0 261.8Z" fill="#a51414" fill-opacity="1" filter="url(#bl1)"/>
</g>
<path d="M232.5 240.0L294.5 225.0M294.5 225.0L319.5 282.0M319.5 282.0L308.0 299.5M308.0 299.5L257.5 311.0M232.5 240.0L236.2 297.5M236.2 297.5L257.5 311.0M232.5 240.0L255.5 276.0M255.5 276.0L257.5 311.0M319.5 282.0L255.5 293.0" stroke="#a8a8a8" stroke-width="0.5" fill="none"/>
<path d="M239.9 238.2L239.3 235.7M254.2 234.8L253.6 232.2M268.5 231.3L267.9 228.8M283.3 227.7L282.7 225.2M293.3 225.3L292.7 222.8M233.0 248.8L230.5 248.3M233.9 263.4L231.4 262.9M234.8 278.0L232.3 277.5M235.7 292.6L233.2 292.1M241.2 301.0L240.9 303.5M246.3 303.5L246.0 306.0M251.4 306.0L251.1 308.5" stroke="#aaa" stroke-width="0.4" fill="none"/>
<g font-size="3" fill="#666">
<text x="229.5" y="245.0">2</text>
<text x="229.5" y="265.0">0</text>
<text x="228.5" y="285.0">-2</text>
<text x="242.5" y="233.0">-2</text>
<text x="264.5" y="226.0">0</text>
<text x="287.5" y="221.0">2</text>
<text x="296.5" y="233.0">Dim</text>
<text x="312.5" y="280.0">Dim</text>
</g>
<g>
<path d="M242.5 257.0L250.5 252.5L260.5 252.5L272.5 258.0L282.5 261.0L290.5 262.0L296.5 256.0L299.5 264.0L300.5 271.0L305.5 280.0L304.5 291.0L294.5 298.5L280.5 301.0L268.5 298.0L257.5 291.0L246.5 284.0L239.5 274.0L239.5 264.0Z" fill="#8c8c8c" mask="url(#mv)"/>
<path d="M255.5 255.0L260.5 248.0L272.5 244.0L282.5 242.5L291.5 243.5L297.0 249.0L295.5 256.0L284.5 260.5L274.5 265.0L263.5 270.0L254.5 266.0Z" fill="#8c8c8c" mask="url(#mv)"/>
<path d="M258.5 267.0L272.5 263.0L286.5 268.0L294.5 276.0L297.5 288.0L290.5 297.0L276.5 299.0L266.5 292.0L259.5 282.0Z" fill="#b01414" mask="url(#mv)"/>
</g><g mask="url(#md)">
<path d="M246.5 259.0L253.5 255.5L262.5 256.5L272.5 262.0L280.5 265.5L290.5 268.5L298.5 273.0L302.0 281.0L301.5 288.5L294.5 294.0L282.5 297.0L272.5 295.0L262.5 290.0L254.5 285.0L246.5 277.0L243.5 268.5Z" fill="#858585" filter="url(#bl2)"/>
<path d="M258.5 256.0L262.5 250.5L272.5 247.0L282.5 245.5L290.0 246.5L294.0 250.0L292.5 253.7L282.5 257.5L272.5 261.5L262.5 266.0L257.5 263.0Z" fill="#858585" filter="url(#bl1)"/>
<path d="M275.5 253.5L287.5 252.0L294.5 253.0L297.5 262.0L295.5 271.0L287.5 266.0L277.5 262.0Z" fill="#8c8c8c" fill-opacity="0.12" filter="url(#bl2)"/>
<path d="M276.5 273.0L288.5 274.0L295.5 280.0L296.5 288.0L288.5 292.0L278.5 291.0L272.5 283.0Z" fill="#5a5a5a" fill-opacity="0.35" filter="url(#bl2)"/>
<path d="M262.5 270.0L272.5 267.0L282.5 271.0L289.5 277.0L292.5 286.0L287.5 293.0L277.5 295.0L269.5 289.0L263.5 280.0Z" fill="#a51414" fill-opacity="0.6" filter="url(#bl2)"/>
</g>
<path d="M341.0 239.5L403.0 224.5M403.0 224.5L428.0 281.5M428.0 281.5L416.5 299.0M416.5 299.0L366.0 310.5M341.0 239.5L344.7 297.0M344.7 297.0L366.0 310.5M341.0 239.5L364.0 275.5M364.0 275.5L366.0 310.5M428.0 281.5L364.0 292.5" stroke="#a8a8a8" stroke-width="0.5" fill="none"/>
<path d="M348.4 237.7L347.8 235.2M362.7 234.2L362.1 231.8M377.0 230.8L376.4 228.3M391.8 227.2L391.2 224.7M401.8 224.8L401.2 222.3M341.5 248.3L339.0 247.8M342.4 262.9L339.9 262.4M343.3 277.5L340.8 277.0M344.2 292.1L341.7 291.6M349.7 300.5L349.4 303.0M354.8 303.0L354.5 305.5M359.9 305.5L359.6 308.0" stroke="#aaa" stroke-width="0.4" fill="none"/>
<g font-size="3" fill="#666">
<text x="338.0" y="244.5">2</text>
<text x="338.0" y="264.5">0</text>
<text x="337.0" y="284.5">-2</text>
<text x="351.0" y="232.5">-2</text>
<text x="373.0" y="225.5">0</text>
<text x="396.0" y="220.5">2</text>
<text x="405.0" y="232.5">Dim</text>
<text x="421.0" y="279.5">Dim</text>
</g>
<g>
<path d="M351.0 256.5L359.0 252.0L369.0 252.0L381.0 257.5L391.0 260.5L399.0 261.5L405.0 255.5L408.0 263.5L409.0 270.5L414.0 279.5L413.0 290.5L403.0 298.0L389.0 300.5L377.0 297.5L366.0 290.5L355.0 283.5L348.0 273.5L348.0 263.5Z" fill="#8c8c8c" mask="url(#mv)"/>
<path d="M364.0 254.5L369.0 247.5L381.0 243.5L391.0 242.0L400.0 243.0L405.5 248.5L404.0 255.5L393.0 260.0L383.0 264.5L372.0 269.5L363.0 265.5Z" fill="#8c8c8c" mask="url(#mv)"/>
<path d="M354.0 271.5L367.0 271.5L381.0 277.5L395.0 282.5L405.0 287.5L402.0 298.5L385.0 301.5L371.0 296.5L357.0 287.5Z" fill="#b01414" mask="url(#mv)"/>
</g><g mask="url(#md)">
<path d="M355.0 258.5L362.0 255.0L371.0 256.0L381.0 261.5L389.0 265.0L399.0 268.0L407.0 272.5L410.5 280.5L410.0 288.0L403.0 293.5L391.0 296.5L381.0 294.5L371.0 289.5L363.0 284.5L355.0 276.5L352.0 268.0Z" fill="#858585" filter="url(#bl2)"/>
<path d="M367.0 255.5L371.0 250.0L381.0 246.5L391.0 245.0L398.5 246.0L402.5 249.5L401.0 253.2L391.0 257.0L381.0 261.0L371.0 265.5L366.0 262.5Z" fill="#858585" filter="url(#bl1)"/>
<path d="M384.0 253.0L396.0 251.5L403.0 252.5L406.0 261.5L404.0 270.5L396.0 265.5L386.0 261.5Z" fill="#8c8c8c" fill-opacity="0.12" filter="url(#bl2)"/>
<path d="M385.0 272.5L397.0 273.5L404.0 279.5L405.0 287.5L397.0 291.5L387.0 290.5L381.0 282.5Z" fill="#5a5a5a" fill-opacity="0.35" filter="url(#bl2)"/>
<path d="M357.0 275.5L367.0 275.5L379.0 281.5L391.0 286.5L401.0 289.5L398.0 295.5L387.0 297.5L375.0 293.5L363.0 285.5Z" fill="#a51414" fill-opacity="0.6" filter="url(#bl2)"/>
</g>
<text x="7.5" y="336.6" font-size="12.5" text-anchor="start" font-weight="bold">D</text>
<text x="60.0" y="333.6" font-size="9" text-anchor="middle" font-style="italic" fill="#111">GATA2</text>
<text x="166.0" y="333.6" font-size="9" text-anchor="middle" font-style="italic" fill="#111">GATA1</text>
<path d="M21.0 358.8L83.0 343.8M83.0 343.8L108.0 400.8M108.0 400.8L96.5 418.3M96.5 418.3L46.0 429.8M21.0 358.8L24.7 416.3M24.7 416.3L46.0 429.8M21.0 358.8L44.0 394.8M44.0 394.8L46.0 429.8M108.0 400.8L44.0 411.8" stroke="#a8a8a8" stroke-width="0.5" fill="none"/>
<path d="M28.4 357.0L27.8 354.5M42.7 353.6L42.1 351.1M57.0 350.1L56.4 347.6M71.8 346.5L71.2 344.0M81.8 344.1L81.2 341.6M21.5 367.6L19.0 367.1M22.4 382.2L19.9 381.7M23.3 396.8L20.8 396.3M24.2 411.4L21.7 410.9M29.7 419.8L29.4 422.3M34.8 422.3L34.5 424.8M39.9 424.8L39.6 427.3" stroke="#aaa" stroke-width="0.4" fill="none"/>
<g font-size="3" fill="#666">
<text x="18.0" y="363.8">2</text>
<text x="18.0" y="383.8">0</text>
<text x="17.0" y="403.8">-2</text>
<text x="31.0" y="351.8">-2</text>
<text x="53.0" y="344.8">0</text>
<text x="76.0" y="339.8">2</text>
<text x="85.0" y="351.8">Dim</text>
<text x="101.0" y="398.8">Dim</text>
</g>
<g>
<path d="M31.0 375.8L39.0 371.3L49.0 371.3L61.0 376.8L71.0 379.8L79.0 380.8L85.0 374.8L88.0 382.8L89.0 389.8L94.0 398.8L93.0 409.8L83.0 417.3L69.0 419.8L57.0 416.8L46.0 409.8L35.0 402.8L28.0 392.8L28.0 382.8Z" fill="#8c8c8c" mask="url(#mv)"/>
<path d="M44.0 373.8L49.0 366.8L61.0 362.8L71.0 361.3L80.0 362.3L85.5 367.8L84.0 374.8L73.0 379.3L63.0 383.8L52.0 388.8L43.0 384.8Z" fill="#8c8c8c" mask="url(#mv)"/>
<path d="M30.0 385.8L35.0 374.8L45.0 368.8L57.0 364.8L67.0 363.8L69.0 372.8L61.0 381.8L53.0 388.8L45.0 395.8L35.0 395.8Z" fill="#b01414" mask="url(#mv)"/>
</g><g mask="url(#md)">
<path d="M35.0 377.8L42.0 374.3L51.0 375.3L61.0 380.8L69.0 384.3L79.0 387.3L87.0 391.8L90.5 399.8L90.0 407.3L83.0 412.8L71.0 415.8L61.0 413.8L51.0 408.8L43.0 403.8L35.0 395.8L32.0 387.3Z" fill="#858585" filter="url(#bl2)"/>
<path d="M47.0 374.8L51.0 369.3L61.0 365.8L71.0 364.3L78.5 365.3L82.5 368.8L81.0 372.5L71.0 376.3L61.0 380.3L51.0 384.8L46.0 381.8Z" fill="#858585" filter="url(#bl1)"/>
<path d="M64.0 372.3L76.0 370.8L83.0 371.8L86.0 380.8L84.0 389.8L76.0 384.8L66.0 380.8Z" fill="#8c8c8c" fill-opacity="0.12" filter="url(#bl2)"/>
<path d="M65.0 391.8L77.0 392.8L84.0 398.8L85.0 406.8L77.0 410.8L67.0 409.8L61.0 401.8Z" fill="#5a5a5a" fill-opacity="0.35" filter="url(#bl2)"/>
<path d="M33.0 384.8L37.0 377.8L46.0 372.8L55.0 368.8L63.0 366.8L65.0 371.8L59.0 377.8L53.0 383.8L47.0 389.8L39.0 392.8L34.0 390.8Z" fill="#a51414" fill-opacity="0.75" filter="url(#bl2)"/>
</g>
<path d="M123.8 358.8L185.8 343.8M185.8 343.8L210.8 400.8M210.8 400.8L199.3 418.3M199.3 418.3L148.8 429.8M123.8 358.8L127.5 416.3M127.5 416.3L148.8 429.8M123.8 358.8L146.8 394.8M146.8 394.8L148.8 429.8M210.8 400.8L146.8 411.8" stroke="#a8a8a8" stroke-width="0.5" fill="none"/>
<path d="M131.2 357.0L130.6 354.5M145.5 353.6L144.9 351.1M159.8 350.1L159.2 347.6M174.6 346.5L174.0 344.0M184.6 344.1L184.0 341.6M124.3 367.6L121.8 367.1M125.2 382.2L122.7 381.7M126.1 396.8L123.6 396.3M127.0 411.4L124.5 410.9M132.5 419.8L132.2 422.3M137.6 422.3L137.3 424.8M142.7 424.8L142.4 427.3" stroke="#aaa" stroke-width="0.4" fill="none"/>
<g font-size="3" fill="#666">
<text x="120.8" y="363.8">2</text>
<text x="120.8" y="383.8">0</text>
<text x="119.8" y="403.8">-2</text>
<text x="133.8" y="351.8">-2</text>
<text x="155.8" y="344.8">0</text>
<text x="178.8" y="339.8">2</text>
<text x="187.8" y="351.8">Dim</text>
<text x="203.8" y="398.8">Dim</text>
</g>
<g>
<path d="M133.8 375.8L141.8 371.3L151.8 371.3L163.8 376.8L173.8 379.8L181.8 380.8L187.8 374.8L190.8 382.8L191.8 389.8L196.8 398.8L195.8 409.8L185.8 417.3L171.8 419.8L159.8 416.8L148.8 409.8L137.8 402.8L130.8 392.8L130.8 382.8Z" fill="#8c8c8c" mask="url(#mv)"/>
<path d="M146.8 373.8L151.8 366.8L163.8 362.8L173.8 361.3L182.8 362.3L188.3 367.8L186.8 374.8L175.8 379.3L165.8 383.8L154.8 388.8L145.8 384.8Z" fill="#8c8c8c" mask="url(#mv)"/>
<path d="M134.8 382.8L141.8 372.8L151.8 366.8L163.8 361.8L176.8 360.3L185.8 363.3L187.8 370.8L177.8 375.8L167.8 380.8L157.8 386.8L145.8 391.8L135.8 389.8Z" fill="#b01414" mask="url(#mv)"/>
</g><g mask="url(#md)">
<path d="M137.8 377.8L144.8 374.3L153.8 375.3L163.8 380.8L171.8 384.3L181.8 387.3L189.8 391.8L193.3 399.8L192.8 407.3L185.8 412.8L173.8 415.8L163.8 413.8L153.8 408.8L145.8 403.8L137.8 395.8L134.8 387.3Z" fill="#858585" filter="url(#bl2)"/>
<path d="M149.8 374.8L153.8 369.3L163.8 365.8L173.8 364.3L181.3 365.3L185.3 368.8L183.8 372.5L173.8 376.3L163.8 380.3L153.8 384.8L148.8 381.8Z" fill="#858585" filter="url(#bl1)"/>
<path d="M166.8 372.3L178.8 370.8L185.8 371.8L188.8 380.8L186.8 389.8L178.8 384.8L168.8 380.8Z" fill="#8c8c8c" fill-opacity="0.12" filter="url(#bl2)"/>
<path d="M167.8 391.8L179.8 392.8L186.8 398.8L187.8 406.8L179.8 410.8L169.8 409.8L163.8 401.8Z" fill="#5a5a5a" fill-opacity="0.35" filter="url(#bl2)"/>
<path d="M138.8 382.8L143.8 376.8L151.8 371.3L159.8 366.8L167.8 364.3L175.8 363.3L182.8 365.8L184.3 369.8L176.8 372.8L167.8 376.8L159.8 380.8L151.8 384.8L143.8 388.3L138.8 387.8Z" fill="#a51414" fill-opacity="0.95" filter="url(#bl1)"/>
</g>
<defs><linearGradient id="glh" x1="0" x2="1"><stop offset="0" stop-color="#7c7c7c"/><stop offset="0.42" stop-color="#bdbdbd"/><stop offset="1" stop-color="#e00000"/></linearGradient></defs>
<rect x="177" y="425.5" width="35.5" height="6.5" fill="url(#glh)"/>
<text x="177.0" y="443.0" font-size="8.6" text-anchor="middle" fill="#111">low</text>
<text x="211.6" y="443.0" font-size="8.6" text-anchor="middle" fill="#111">high</text>
<text x="236.0" y="336.8" font-size="12.5" text-anchor="start" font-weight="bold">E</text>
<path fill="#4f62ff" d="M446.5 398.7h1.0v1.0h-1.0zM331.9 398.6h1.0v1.0h-1.0zM390.0 398.1h1.0v1.0h-1.0zM367.4 398.6h1.0v1.0h-1.0zM435.8 399.3h1.0v1.0h-1.0zM379.0 398.7h1.0v1.0h-1.0zM381.2 398.6h1.0v1.0h-1.0zM471.6 398.5h1.0v1.0h-1.0zM316.3 398.5h1.0v1.0h-1.0zM442.3 397.9h1.0v1.0h-1.0zM298.1 399.3h1.0v1.0h-1.0zM376.9 398.5h1.0v1.0h-1.0zM452.6 397.8h1.0v1.0h-1.0zM411.6 399.7h1.0v1.0h-1.0zM415.3 398.5h1.0v1.0h-1.0zM337.2 399.0h1.0v1.0h-1.0zM366.0 398.8h1.0v1.0h-1.0zM356.4 399.2h1.0v1.0h-1.0zM385.0 398.7h1.0v1.0h-1.0zM374.1 397.4h1.0v1.0h-1.0zM349.0 399.4h1.0v1.0h-1.0zM345.0 399.4h1.0v1.0h-1.0zM334.9 399.4h1.0v1.0h-1.0zM356.1 397.5h1.0v1.0h-1.0zM316.3 398.9h1.0v1.0h-1.0zM449.9 398.6h1.0v1.0h-1.0zM400.0 398.9h1.0v1.0h-1.0zM313.3 399.2h1.0v1.0h-1.0zM416.9 398.8h1.0v1.0h-1.0zM445.4 397.0h1.0v1.0h-1.0zM332.5 397.7h1.0v1.0h-1.0zM316.4 399.2h1.0v1.0h-1.0zM290.1 398.2h1.0v1.0h-1.0zM297.2 399.1h1.0v1.0h-1.0zM429.6 399.8h1.0v1.0h-1.0zM471.2 397.9h1.0v1.0h-1.0zM296.8 397.8h1.0v1.0h-1.0zM427.0 397.9h1.0v1.0h-1.0zM301.8 398.9h1.0v1.0h-1.0zM398.1 398.7h1.0v1.0h-1.0zM428.5 398.1h1.0v1.0h-1.0zM355.0 398.3h1.0v1.0h-1.0zM290.5 398.9h1.0v1.0h-1.0zM398.7 399.6h1.0v1.0h-1.0zM472.0 398.5h1.0v1.0h-1.0zM336.2 397.9h1.0v1.0h-1.0zM323.6 399.4h1.0v1.0h-1.0zM311.4 398.2h1.0v1.0h-1.0zM391.3 398.4h1.0v1.0h-1.0zM398.9 398.1h1.0v1.0h-1.0zM435.2 398.0h1.0v1.0h-1.0zM427.9 399.1h1.0v1.0h-1.0zM453.7 399.6h1.0v1.0h-1.0zM437.7 398.9h1.0v1.0h-1.0zM334.3 398.0h1.0v1.0h-1.0zM391.4 399.0h1.0v1.0h-1.0zM343.6 399.0h1.0v1.0h-1.0zM349.5 399.8h1.0v1.0h-1.0zM461.0 397.5h1.0v1.0h-1.0zM414.7 398.1h1.0v1.0h-1.0zM468.9 398.1h1.0v1.0h-1.0zM365.7 398.0h1.0v1.0h-1.0zM388.0 398.2h1.0v1.0h-1.0zM378.7 398.8h1.0v1.0h-1.0zM308.4 398.7h1.0v1.0h-1.0zM332.3 398.9h1.0v1.0h-1.0zM386.2 396.9h1.0v1.0h-1.0zM301.0 398.2h1.0v1.0h-1.0zM460.9 398.9h1.0v1.0h-1.0zM311.4 398.3h1.0v1.0h-1.0zM325.1 399.3h1.0v1.0h-1.0zM430.2 397.6h1.0v1.0h-1.0zM306.4 399.0h1.0v1.0h-1.0zM455.2 398.3h1.0v1.0h-1.0zM422.8 397.9h1.0v1.0h-1.0zM301.2 398.4h1.0v1.0h-1.0zM416.6 398.5h1.0v1.0h-1.0zM405.4 398.6h1.0v1.0h-1.0zM428.7 398.6h1.0v1.0h-1.0zM441.8 399.0h1.0v1.0h-1.0zM421.5 398.9h1.0v1.0h-1.0zM397.0 397.6h1.0v1.0h-1.0zM348.2 398.7h1.0v1.0h-1.0zM417.6 399.1h1.0v1.0h-1.0zM465.6 398.9h1.0v1.0h-1.0zM397.3 397.9h1.0v1.0h-1.0zM411.5 398.2h1.0v1.0h-1.0zM369.4 398.2h1.0v1.0h-1.0zM428.5 398.8h1.0v1.0h-1.0zM473.2 398.2h1.0v1.0h-1.0zM318.2 399.0h1.0v1.0h-1.0zM326.0 398.8h1.0v1.0h-1.0zM388.4 398.0h1.0v1.0h-1.0zM377.6 398.0h1.0v1.0h-1.0zM394.3 399.2h1.0v1.0h-1.0zM297.6 399.2h1.0v1.0h-1.0zM363.3 398.5h1.0v1.0h-1.0zM396.4 397.5h1.0v1.0h-1.0zM396.8 399.8h1.0v1.0h-1.0zM410.2 398.4h1.0v1.0h-1.0zM421.8 399.5h1.0v1.0h-1.0zM407.3 399.0h1.0v1.0h-1.0zM434.8 398.8h1.0v1.0h-1.0zM404.1 398.9h1.0v1.0h-1.0zM388.0 398.9h1.0v1.0h-1.0zM400.7 398.6h1.0v1.0h-1.0zM307.2 398.9h1.0v1.0h-1.0zM339.1 399.5h1.0v1.0h-1.0zM386.1 398.1h1.0v1.0h-1.0zM450.1 398.1h1.0v1.0h-1.0zM414.2 398.1h1.0v1.0h-1.0zM305.2 399.6h1.0v1.0h-1.0zM398.1 398.4h1.0v1.0h-1.0zM329.5 398.2h1.0v1.0h-1.0zM424.4 399.3h1.0v1.0h-1.0zM441.7 398.6h1.0v1.0h-1.0zM398.4 398.7h1.0v1.0h-1.0zM398.0 397.4h1.0v1.0h-1.0zM351.2 397.4h1.0v1.0h-1.0zM371.1 399.7h1.0v1.0h-1.0zM448.5 397.0h1.0v1.0h-1.0zM422.4 399.2h1.0v1.0h-1.0zM384.7 398.0h1.0v1.0h-1.0zM356.7 398.0h1.0v1.0h-1.0zM297.8 399.2h1.0v1.0h-1.0zM315.0 398.3h1.0v1.0h-1.0zM324.2 398.7h1.0v1.0h-1.0zM357.6 398.2h1.0v1.0h-1.0zM463.3 398.5h1.0v1.0h-1.0zM382.0 397.8h1.0v1.0h-1.0zM332.0 398.6h1.0v1.0h-1.0zM308.1 398.7h1.0v1.0h-1.0zM351.1 397.9h1.0v1.0h-1.0zM439.5 398.2h1.0v1.0h-1.0zM359.5 398.1h1.0v1.0h-1.0zM431.5 399.0h1.0v1.0h-1.0zM437.1 399.3h1.0v1.0h-1.0zM309.0 399.0h1.0v1.0h-1.0zM401.2 399.0h1.0v1.0h-1.0zM466.0 398.1h1.0v1.0h-1.0zM362.9 398.0h1.0v1.0h-1.0zM297.9 398.7h1.0v1.0h-1.0zM459.4 397.7h1.0v1.0h-1.0zM452.1 397.7h1.0v1.0h-1.0zM385.2 398.4h1.0v1.0h-1.0zM390.7 399.1h1.0v1.0h-1.0zM327.7 397.6h1.0v1.0h-1.0zM440.2 398.6h1.0v1.0h-1.0zM380.8 398.5h1.0v1.0h-1.0zM294.8 398.8h1.0v1.0h-1.0zM414.9 399.2h1.0v1.0h-1.0zM464.4 399.6h1.0v1.0h-1.0zM442.0 398.2h1.0v1.0h-1.0zM339.8 399.1h1.0v1.0h-1.0zM298.4 396.6h1.0v1.0h-1.0zM462.6 399.3h1.0v1.0h-1.0zM462.0 399.4h1.0v1.0h-1.0zM387.1 398.3h1.0v1.0h-1.0zM407.4 397.6h1.0v1.0h-1.0zM374.1 398.6h1.0v1.0h-1.0zM366.2 398.2h1.0v1.0h-1.0zM310.6 399.8h1.0v1.0h-1.0zM306.4 399.0h1.0v1.0h-1.0zM331.6 399.3h1.0v1.0h-1.0zM443.4 399.8h1.0v1.0h-1.0zM315.5 398.5h1.0v1.0h-1.0zM330.5 400.1h1.0v1.0h-1.0zM390.1 399.5h1.0v1.0h-1.0zM328.3 398.9h1.0v1.0h-1.0zM318.7 399.1h1.0v1.0h-1.0zM392.8 398.3h1.0v1.0h-1.0zM356.6 398.4h1.0v1.0h-1.0zM404.4 398.0h1.0v1.0h-1.0zM457.4 398.1h1.0v1.0h-1.0zM316.5 397.9h1.0v1.0h-1.0zM457.6 398.6h1.0v1.0h-1.0zM455.6 398.4h1.0v1.0h-1.0zM442.0 398.3h1.0v1.0h-1.0zM405.4 398.5h1.0v1.0h-1.0zM403.3 398.9h1.0v1.0h-1.0zM406.8 398.8h1.0v1.0h-1.0zM416.3 399.1h1.0v1.0h-1.0zM291.6 398.3h1.0v1.0h-1.0zM465.9 398.7h1.0v1.0h-1.0zM396.9 399.0h1.0v1.0h-1.0zM433.2 399.0h1.0v1.0h-1.0zM358.3 399.4h1.0v1.0h-1.0zM290.8 398.0h1.0v1.0h-1.0zM382.9 398.5h1.0v1.0h-1.0zM382.4 399.2h1.0v1.0h-1.0zM369.4 398.1h1.0v1.0h-1.0zM351.4 399.0h1.0v1.0h-1.0zM334.7 399.5h1.0v1.0h-1.0zM386.2 397.9h1.0v1.0h-1.0zM358.0 398.9h1.0v1.0h-1.0zM468.0 398.9h1.0v1.0h-1.0zM320.5 398.6h1.0v1.0h-1.0zM347.7 397.9h1.0v1.0h-1.0zM342.9 398.6h1.0v1.0h-1.0zM389.1 399.4h1.0v1.0h-1.0zM380.9 398.2h1.0v1.0h-1.0zM407.7 398.9h1.0v1.0h-1.0zM464.4 397.4h1.0v1.0h-1.0zM341.3 398.6h1.0v1.0h-1.0zM416.7 400.0h1.0v1.0h-1.0zM293.1 398.4h1.0v1.0h-1.0zM337.1 397.3h1.0v1.0h-1.0zM374.3 397.6h1.0v1.0h-1.0zM294.2 397.4h1.0v1.0h-1.0zM402.8 399.3h1.0v1.0h-1.0zM414.1 398.0h1.0v1.0h-1.0zM426.7 399.1h1.0v1.0h-1.0zM384.1 398.5h1.0v1.0h-1.0zM400.3 399.4h1.0v1.0h-1.0zM361.8 399.0h1.0v1.0h-1.0zM296.1 399.0h1.0v1.0h-1.0zM307.0 398.0h1.0v1.0h-1.0zM409.7 398.1h1.0v1.0h-1.0zM472.8 398.4h1.0v1.0h-1.0zM291.4 399.5h1.0v1.0h-1.0zM391.7 398.8h1.0v1.0h-1.0zM427.5 399.1h1.0v1.0h-1.0zM441.5 398.0h1.0v1.0h-1.0zM389.4 397.8h1.0v1.0h-1.0zM403.3 397.9h1.0v1.0h-1.0zM417.5 399.1h1.0v1.0h-1.0zM447.5 400.4h1.0v1.0h-1.0zM311.1 399.7h1.0v1.0h-1.0zM459.9 397.7h1.0v1.0h-1.0zM293.3 398.9h1.0v1.0h-1.0zM443.3 399.1h1.0v1.0h-1.0zM302.7 397.5h1.0v1.0h-1.0zM324.5 397.8h1.0v1.0h-1.0zM289.2 398.6h1.0v1.0h-1.0zM370.9 398.8h1.0v1.0h-1.0zM350.4 398.7h1.0v1.0h-1.0zM319.2 398.5h1.0v1.0h-1.0zM372.0 397.6h1.0v1.0h-1.0zM363.0 398.3h1.0v1.0h-1.0zM430.6 398.1h1.0v1.0h-1.0zM453.8 397.8h1.0v1.0h-1.0zM409.3 399.4h1.0v1.0h-1.0zM311.5 398.1h1.0v1.0h-1.0zM343.2 398.8h1.0v1.0h-1.0zM457.6 400.2h1.0v1.0h-1.0zM304.9 400.0h1.0v1.0h-1.0zM363.8 399.3h1.0v1.0h-1.0zM463.0 398.3h1.0v1.0h-1.0zM464.5 398.5h1.0v1.0h-1.0zM364.6 398.5h1.0v1.0h-1.0zM412.0 397.3h1.0v1.0h-1.0zM373.0 399.4h1.0v1.0h-1.0zM428.0 398.6h1.0v1.0h-1.0zM294.3 398.4h1.0v1.0h-1.0zM315.2 399.1h1.0v1.0h-1.0zM402.2 398.6h1.0v1.0h-1.0zM331.5 399.6h1.0v1.0h-1.0zM411.8 397.7h1.0v1.0h-1.0zM353.5 399.0h1.0v1.0h-1.0zM452.6 397.3h1.0v1.0h-1.0zM440.2 398.6h1.0v1.0h-1.0zM379.7 397.9h1.0v1.0h-1.0zM431.6 398.6h1.0v1.0h-1.0zM338.7 398.6h1.0v1.0h-1.0zM380.0 399.0h1.0v1.0h-1.0zM325.1 398.5h1.0v1.0h-1.0zM447.9 398.4h1.0v1.0h-1.0zM440.9 399.1h1.0v1.0h-1.0zM455.5 398.7h1.0v1.0h-1.0zM450.9 399.0h1.0v1.0h-1.0zM466.1 397.1h1.0v1.0h-1.0zM330.8 398.7h1.0v1.0h-1.0zM461.0 397.6h1.0v1.0h-1.0zM394.2 398.7h1.0v1.0h-1.0zM366.7 398.4h1.0v1.0h-1.0zM392.2 399.5h1.0v1.0h-1.0zM351.9 398.9h1.0v1.0h-1.0zM341.9 398.5h1.0v1.0h-1.0zM333.2 397.6h1.0v1.0h-1.0zM303.8 398.5h1.0v1.0h-1.0zM380.4 397.7h1.0v1.0h-1.0zM452.8 398.2h1.0v1.0h-1.0zM405.1 397.5h1.0v1.0h-1.0zM384.9 398.6h1.0v1.0h-1.0zM367.8 397.1h1.0v1.0h-1.0zM374.5 398.9h1.0v1.0h-1.0zM327.2 399.1h1.0v1.0h-1.0zM440.8 399.4h1.0v1.0h-1.0zM325.2 397.1h1.0v1.0h-1.0zM421.2 398.1h1.0v1.0h-1.0zM429.2 398.8h1.0v1.0h-1.0zM394.9 397.8h1.0v1.0h-1.0zM448.2 398.2h1.0v1.0h-1.0zM342.4 397.3h1.0v1.0h-1.0zM451.7 399.6h1.0v1.0h-1.0zM423.5 398.8h1.0v1.0h-1.0zM436.4 398.9h1.0v1.0h-1.0zM411.5 399.9h1.0v1.0h-1.0zM445.2 397.9h1.0v1.0h-1.0zM472.3 398.8h1.0v1.0h-1.0zM366.3 398.1h1.0v1.0h-1.0zM439.2 397.1h1.0v1.0h-1.0zM426.3 398.8h1.0v1.0h-1.0zM372.3 398.9h1.0v1.0h-1.0zM460.1 398.5h1.0v1.0h-1.0zM361.5 398.0h1.0v1.0h-1.0zM393.2 399.0h1.0v1.0h-1.0zM308.1 399.0h1.0v1.0h-1.0zM330.3 397.9h1.0v1.0h-1.0zM444.1 398.4h1.0v1.0h-1.0zM361.9 399.9h1.0v1.0h-1.0zM361.4 399.4h1.0v1.0h-1.0zM334.0 397.6h1.0v1.0h-1.0zM379.5 398.3h1.0v1.0h-1.0zM437.7 399.1h1.0v1.0h-1.0zM454.2 398.7h1.0v1.0h-1.0zM301.5 398.6h1.0v1.0h-1.0zM394.9 398.1h1.0v1.0h-1.0zM375.0 399.5h1.0v1.0h-1.0zM402.2 399.1h1.0v1.0h-1.0zM371.3 398.4h1.0v1.0h-1.0zM362.3 398.7h1.0v1.0h-1.0zM375.8 398.2h1.0v1.0h-1.0zM396.2 399.4h1.0v1.0h-1.0zM381.2 398.4h1.0v1.0h-1.0zM375.9 397.9h1.0v1.0h-1.0zM439.9 398.3h1.0v1.0h-1.0zM426.5 398.5h1.0v1.0h-1.0zM351.7 398.7h1.0v1.0h-1.0zM436.7 399.1h1.0v1.0h-1.0zM446.5 398.6h1.0v1.0h-1.0zM316.9 397.8h1.0v1.0h-1.0zM396.4 398.7h1.0v1.0h-1.0zM341.3 399.2h1.0v1.0h-1.0zM425.3 398.9h1.0v1.0h-1.0zM332.7 398.5h1.0v1.0h-1.0zM412.8 398.8h1.0v1.0h-1.0zM335.7 398.3h1.0v1.0h-1.0zM383.1 398.3h1.0v1.0h-1.0zM464.1 398.0h1.0v1.0h-1.0zM359.1 397.7h1.0v1.0h-1.0zM450.6 398.0h1.0v1.0h-1.0zM471.2 399.2h1.0v1.0h-1.0zM450.4 399.2h1.0v1.0h-1.0zM319.2 398.6h1.0v1.0h-1.0zM440.2 398.9h1.0v1.0h-1.0zM294.5 399.3h1.0v1.0h-1.0zM361.3 398.9h1.0v1.0h-1.0zM449.7 398.9h1.0v1.0h-1.0zM416.0 399.0h1.0v1.0h-1.0zM387.1 398.8h1.0v1.0h-1.0zM360.3 397.8h1.0v1.0h-1.0zM438.9 398.5h1.0v1.0h-1.0zM419.8 397.0h1.0v1.0h-1.0zM375.2 398.5h1.0v1.0h-1.0zM453.7 398.8h1.0v1.0h-1.0zM331.1 398.6h1.0v1.0h-1.0zM320.0 398.4h1.0v1.0h-1.0zM407.5 398.3h1.0v1.0h-1.0zM468.4 397.3h1.0v1.0h-1.0zM334.3 399.1h1.0v1.0h-1.0zM334.7 398.0h1.0v1.0h-1.0zM314.3 398.5h1.0v1.0h-1.0zM447.8 399.6h1.0v1.0h-1.0zM330.4 398.1h1.0v1.0h-1.0zM381.6 397.8h1.0v1.0h-1.0zM471.9 399.2h1.0v1.0h-1.0zM290.7 398.6h1.0v1.0h-1.0zM391.5 399.7h1.0v1.0h-1.0zM383.3 399.4h1.0v1.0h-1.0zM438.0 397.9h1.0v1.0h-1.0zM354.3 398.9h1.0v1.0h-1.0zM364.5 399.3h1.0v1.0h-1.0zM319.6 398.5h1.0v1.0h-1.0zM425.6 398.9h1.0v1.0h-1.0zM433.8 398.9h1.0v1.0h-1.0zM313.8 398.1h1.0v1.0h-1.0zM361.3 399.4h1.0v1.0h-1.0zM453.8 399.2h1.0v1.0h-1.0zM289.0 398.5h1.0v1.0h-1.0zM343.8 398.0h1.0v1.0h-1.0zM391.2 397.8h1.0v1.0h-1.0zM350.3 399.0h1.0v1.0h-1.0zM338.9 398.0h1.0v1.0h-1.0zM373.7 399.1h1.0v1.0h-1.0zM322.1 397.4h1.0v1.0h-1.0zM386.5 399.3h1.0v1.0h-1.0zM419.3 397.7h1.0v1.0h-1.0zM395.0 399.0h1.0v1.0h-1.0zM305.7 397.3h1.0v1.0h-1.0zM444.8 398.2h1.0v1.0h-1.0zM320.9 399.3h1.0v1.0h-1.0zM430.1 398.9h1.0v1.0h-1.0zM355.2 398.1h1.0v1.0h-1.0zM433.4 397.9h1.0v1.0h-1.0zM326.7 398.6h1.0v1.0h-1.0zM323.1 398.6h1.0v1.0h-1.0zM380.5 398.1h1.0v1.0h-1.0zM294.6 398.5h1.0v1.0h-1.0zM330.2 399.4h1.0v1.0h-1.0zM422.5 399.1h1.0v1.0h-1.0zM443.5 398.4h1.0v1.0h-1.0zM303.5 397.8h1.0v1.0h-1.0zM451.8 397.6h1.0v1.0h-1.0zM436.1 398.1h1.0v1.0h-1.0zM449.5 398.4h1.0v1.0h-1.0zM417.8 398.1h1.0v1.0h-1.0zM413.3 399.0h1.0v1.0h-1.0zM385.7 398.7h1.0v1.0h-1.0zM409.3 399.1h1.0v1.0h-1.0zM458.6 399.4h1.0v1.0h-1.0zM307.1 398.4h1.0v1.0h-1.0zM347.0 398.5h1.0v1.0h-1.0zM301.9 398.2h1.0v1.0h-1.0zM463.4 398.2h1.0v1.0h-1.0zM370.9 398.4h1.0v1.0h-1.0zM413.5 398.2h1.0v1.0h-1.0zM444.2 398.6h1.0v1.0h-1.0zM471.9 398.3h1.0v1.0h-1.0zM318.4 399.1h1.0v1.0h-1.0zM320.0 381.3h1.0v1.0h-1.0zM333.5 382.0h1.0v1.0h-1.0zM308.7 382.1h1.0v1.0h-1.0zM288.7 381.6h1.0v1.0h-1.0zM291.5 381.0h1.0v1.0h-1.0zM293.8 381.9h1.0v1.0h-1.0zM293.1 381.1h1.0v1.0h-1.0zM305.5 380.3h1.0v1.0h-1.0zM322.5 382.0h1.0v1.0h-1.0zM326.8 381.2h1.0v1.0h-1.0zM317.1 380.3h1.0v1.0h-1.0zM295.6 381.3h1.0v1.0h-1.0zM324.7 381.4h1.0v1.0h-1.0zM305.7 380.2h1.0v1.0h-1.0zM289.1 381.3h1.0v1.0h-1.0zM302.1 380.2h1.0v1.0h-1.0zM304.5 380.7h1.0v1.0h-1.0zM301.8 381.3h1.0v1.0h-1.0zM327.8 380.7h1.0v1.0h-1.0zM325.3 380.8h1.0v1.0h-1.0zM322.2 380.3h1.0v1.0h-1.0zM295.2 381.4h1.0v1.0h-1.0zM327.6 381.0h1.0v1.0h-1.0zM321.3 381.1h1.0v1.0h-1.0zM297.9 380.5h1.0v1.0h-1.0zM319.9 381.8h1.0v1.0h-1.0zM311.9 380.3h1.0v1.0h-1.0zM309.8 380.7h1.0v1.0h-1.0zM293.9 382.0h1.0v1.0h-1.0zM313.6 380.2h1.0v1.0h-1.0zM293.3 379.4h1.0v1.0h-1.0zM296.5 380.3h1.0v1.0h-1.0zM294.9 380.0h1.0v1.0h-1.0zM334.7 381.0h1.0v1.0h-1.0zM302.3 382.2h1.0v1.0h-1.0zM305.7 382.4h1.0v1.0h-1.0zM304.1 380.8h1.0v1.0h-1.0zM332.0 381.5h1.0v1.0h-1.0zM315.8 381.7h1.0v1.0h-1.0zM333.0 381.1h1.0v1.0h-1.0zM303.0 380.6h1.0v1.0h-1.0zM294.1 382.1h1.0v1.0h-1.0zM315.4 381.4h1.0v1.0h-1.0zM305.2 379.9h1.0v1.0h-1.0zM327.3 381.8h1.0v1.0h-1.0zM331.1 380.4h1.0v1.0h-1.0zM311.4 381.4h1.0v1.0h-1.0zM335.6 380.6h1.0v1.0h-1.0zM315.3 380.2h1.0v1.0h-1.0zM301.6 380.5h1.0v1.0h-1.0zM312.2 380.4h1.0v1.0h-1.0zM290.3 381.9h1.0v1.0h-1.0zM327.4 380.2h1.0v1.0h-1.0zM293.4 381.6h1.0v1.0h-1.0zM303.5 380.8h1.0v1.0h-1.0zM315.9 380.8h1.0v1.0h-1.0zM290.6 380.7h1.0v1.0h-1.0zM292.3 380.8h1.0v1.0h-1.0zM322.2 381.6h1.0v1.0h-1.0zM292.0 382.0h1.0v1.0h-1.0zM329.5 370.3h1.0v1.0h-1.0zM308.2 371.0h1.0v1.0h-1.0zM329.6 370.1h1.0v1.0h-1.0zM313.0 369.5h1.0v1.0h-1.0zM299.3 370.4h1.0v1.0h-1.0zM334.2 369.2h1.0v1.0h-1.0zM301.8 370.5h1.0v1.0h-1.0zM289.8 369.1h1.0v1.0h-1.0zM300.3 369.3h1.0v1.0h-1.0zM306.3 369.9h1.0v1.0h-1.0zM305.5 370.3h1.0v1.0h-1.0zM313.9 369.6h1.0v1.0h-1.0zM331.3 369.2h1.0v1.0h-1.0zM302.7 367.4h1.0v1.0h-1.0zM313.7 368.7h1.0v1.0h-1.0zM305.0 368.7h1.0v1.0h-1.0zM328.3 366.2h1.0v1.0h-1.0zM296.1 369.2h1.0v1.0h-1.0zM293.5 369.2h1.0v1.0h-1.0zM312.9 369.0h1.0v1.0h-1.0zM321.0 371.0h1.0v1.0h-1.0zM327.0 370.3h1.0v1.0h-1.0zM317.1 370.4h1.0v1.0h-1.0zM326.0 369.1h1.0v1.0h-1.0zM307.5 370.0h1.0v1.0h-1.0zM290.1 369.6h1.0v1.0h-1.0zM294.1 368.5h1.0v1.0h-1.0zM290.4 368.8h1.0v1.0h-1.0zM304.4 370.0h1.0v1.0h-1.0zM312.5 370.6h1.0v1.0h-1.0zM305.8 368.5h1.0v1.0h-1.0zM315.7 368.9h1.0v1.0h-1.0zM311.8 371.7h1.0v1.0h-1.0zM321.3 370.2h1.0v1.0h-1.0zM320.8 369.6h1.0v1.0h-1.0zM303.9 368.9h1.0v1.0h-1.0zM305.3 368.8h1.0v1.0h-1.0zM316.8 369.5h1.0v1.0h-1.0zM317.4 369.1h1.0v1.0h-1.0zM303.7 369.7h1.0v1.0h-1.0zM327.9 360.8h1.0v1.0h-1.0zM313.5 363.7h1.0v1.0h-1.0zM300.7 359.4h1.0v1.0h-1.0zM313.0 364.5h1.0v1.0h-1.0zM293.4 355.4h1.0v1.0h-1.0zM320.4 354.8h1.0v1.0h-1.0zM295.0 356.0h1.0v1.0h-1.0zM313.3 359.0h1.0v1.0h-1.0zM291.1 359.1h1.0v1.0h-1.0zM303.0 354.1h1.0v1.0h-1.0zM299.7 362.6h1.0v1.0h-1.0zM318.5 364.6h1.0v1.0h-1.0zM326.6 359.0h1.0v1.0h-1.0zM291.3 361.7h1.0v1.0h-1.0zM329.7 361.8h1.0v1.0h-1.0zM330.2 365.4h1.0v1.0h-1.0zM305.1 358.6h1.0v1.0h-1.0zM320.4 362.4h1.0v1.0h-1.0zM359.8 387.0h1.0v1.0h-1.0zM339.1 373.0h1.0v1.0h-1.0zM384.5 391.3h1.0v1.0h-1.0zM456.6 381.4h1.0v1.0h-1.0zM380.7 343.7h1.0v1.0h-1.0zM428.6 368.2h1.0v1.0h-1.0zM439.5 377.0h1.0v1.0h-1.0zM379.5 376.7h1.0v1.0h-1.0zM448.6 410.1h1.0v1.0h-1.0zM430.4 401.1h1.0v1.0h-1.0zM411.8 366.4h1.0v1.0h-1.0zM333.6 387.0h1.0v1.0h-1.0zM338.4 384.9h1.0v1.0h-1.0zM472.3 389.0h1.0v1.0h-1.0zM443.1 399.0h1.0v1.0h-1.0zM464.9 401.9h1.0v1.0h-1.0zM459.9 387.4h1.0v1.0h-1.0zM336.3 387.7h1.0v1.0h-1.0zM444.4 395.2h1.0v1.0h-1.0zM396.7 388.5h1.0v1.0h-1.0zM444.1 379.7h1.0v1.0h-1.0zM334.4 380.0h1.0v1.0h-1.0zM373.9 377.1h1.0v1.0h-1.0zM438.8 378.4h1.0v1.0h-1.0zM444.6 387.8h1.0v1.0h-1.0zM420.3 387.0h1.0v1.0h-1.0zM375.7 369.3h1.0v1.0h-1.0zM377.0 367.1h1.0v1.0h-1.0zM469.0 388.7h1.0v1.0h-1.0zM395.0 377.6h1.0v1.0h-1.0zM396.1 388.4h1.0v1.0h-1.0zM410.9 392.4h1.0v1.0h-1.0zM390.9 368.3h1.0v1.0h-1.0zM410.9 376.5h1.0v1.0h-1.0zM394.1 372.8h1.0v1.0h-1.0zM449.3 382.9h1.0v1.0h-1.0zM460.9 386.2h1.0v1.0h-1.0zM464.1 378.3h1.0v1.0h-1.0zM412.6 370.8h1.0v1.0h-1.0zM395.4 367.5h1.0v1.0h-1.0zM432.3 386.3h1.0v1.0h-1.0zM451.0 369.5h1.0v1.0h-1.0zM412.4 379.4h1.0v1.0h-1.0zM431.6 377.3h1.0v1.0h-1.0zM438.5 382.2h1.0v1.0h-1.0zM428.3 381.6h1.0v1.0h-1.0zM438.0 394.6h1.0v1.0h-1.0zM362.7 365.5h1.0v1.0h-1.0zM403.3 345.6h1.0v1.0h-1.0zM415.9 387.4h1.0v1.0h-1.0zM333.8 376.4h1.0v1.0h-1.0zM453.4 392.0h1.0v1.0h-1.0zM419.0 389.3h1.0v1.0h-1.0zM351.6 355.7h1.0v1.0h-1.0zM447.9 394.5h1.0v1.0h-1.0zM434.0 391.1h1.0v1.0h-1.0zM439.7 405.2h1.0v1.0h-1.0zM388.4 386.5h1.0v1.0h-1.0zM453.2 407.4h1.0v1.0h-1.0zM391.5 370.1h1.0v1.0h-1.0zM413.4 348.1h1.0v1.0h-1.0zM333.6 381.8h1.0v1.0h-1.0zM423.8 404.5h1.0v1.0h-1.0zM434.1 374.3h1.0v1.0h-1.0zM412.9 391.2h1.0v1.0h-1.0zM403.1 364.4h1.0v1.0h-1.0zM447.0 389.7h1.0v1.0h-1.0zM429.0 392.5h1.0v1.0h-1.0zM372.4 376.9h1.0v1.0h-1.0zM467.9 377.6h1.0v1.0h-1.0zM432.6 387.9h1.0v1.0h-1.0zM471.9 393.0h1.0v1.0h-1.0zM469.6 389.3h1.0v1.0h-1.0zM462.2 402.4h1.0v1.0h-1.0zM439.3 380.9h1.0v1.0h-1.0zM418.9 405.2h1.0v1.0h-1.0zM357.6 379.6h1.0v1.0h-1.0zM409.6 372.4h1.0v1.0h-1.0zM440.7 382.1h1.0v1.0h-1.0zM406.5 373.8h1.0v1.0h-1.0zM455.1 387.4h1.0v1.0h-1.0zM348.8 360.5h1.0v1.0h-1.0zM386.9 365.6h1.0v1.0h-1.0zM404.4 375.1h1.0v1.0h-1.0zM394.1 367.1h1.0v1.0h-1.0zM348.7 365.7h1.0v1.0h-1.0zM355.0 379.7h1.0v1.0h-1.0zM450.9 402.9h1.0v1.0h-1.0zM401.4 374.8h1.0v1.0h-1.0zM340.3 369.4h1.0v1.0h-1.0zM335.8 363.5h1.0v1.0h-1.0zM399.8 391.1h1.0v1.0h-1.0zM356.5 385.3h1.0v1.0h-1.0zM432.3 379.5h1.0v1.0h-1.0zM444.9 387.0h1.0v1.0h-1.0zM365.5 397.3h1.0v1.0h-1.0zM416.5 378.3h1.0v1.0h-1.0zM355.1 397.0h1.0v1.0h-1.0zM376.0 386.7h1.0v1.0h-1.0zM458.0 370.1h1.0v1.0h-1.0zM409.7 359.3h1.0v1.0h-1.0zM457.6 401.5h1.0v1.0h-1.0zM365.0 378.2h1.0v1.0h-1.0zM379.7 375.2h1.0v1.0h-1.0zM399.5 357.8h1.0v1.0h-1.0zM400.8 385.9h1.0v1.0h-1.0zM473.3 392.8h1.0v1.0h-1.0zM349.5 355.8h1.0v1.0h-1.0zM452.9 391.1h1.0v1.0h-1.0zM454.5 377.7h1.0v1.0h-1.0zM411.0 400.0h1.0v1.0h-1.0zM381.7 378.1h1.0v1.0h-1.0zM406.2 401.3h1.0v1.0h-1.0zM374.5 387.9h1.0v1.0h-1.0zM445.5 375.9h1.0v1.0h-1.0zM403.3 381.0h1.0v1.0h-1.0zM463.2 390.7h1.0v1.0h-1.0zM420.7 392.8h1.0v1.0h-1.0zM405.6 383.5h1.0v1.0h-1.0zM433.1 381.5h1.0v1.0h-1.0zM404.1 368.5h1.0v1.0h-1.0zM359.3 384.3h1.0v1.0h-1.0zM469.9 385.0h1.0v1.0h-1.0zM447.3 387.5h1.0v1.0h-1.0zM454.1 381.6h1.0v1.0h-1.0zM401.1 376.6h1.0v1.0h-1.0zM450.8 390.2h1.0v1.0h-1.0zM376.5 381.6h1.0v1.0h-1.0zM440.3 388.8h1.0v1.0h-1.0zM353.2 360.4h1.0v1.0h-1.0zM376.5 384.2h1.0v1.0h-1.0zM395.9 379.6h1.0v1.0h-1.0zM378.6 373.3h1.0v1.0h-1.0zM387.7 358.0h1.0v1.0h-1.0zM448.4 390.0h1.0v1.0h-1.0zM369.4 362.7h1.0v1.0h-1.0zM437.9 370.5h1.0v1.0h-1.0zM343.8 376.3h1.0v1.0h-1.0zM440.8 388.4h1.0v1.0h-1.0zM444.5 390.1h1.0v1.0h-1.0zM389.8 380.6h1.0v1.0h-1.0zM434.7 374.9h1.0v1.0h-1.0zM461.7 383.9h1.0v1.0h-1.0zM445.7 383.3h1.0v1.0h-1.0zM388.2 391.0h1.0v1.0h-1.0zM401.3 391.8h1.0v1.0h-1.0zM442.7 359.7h1.0v1.0h-1.0zM374.5 377.1h1.0v1.0h-1.0zM446.1 395.7h1.0v1.0h-1.0zM379.5 358.1h1.0v1.0h-1.0zM446.4 382.8h1.0v1.0h-1.0zM345.6 368.2h1.0v1.0h-1.0zM339.7 377.8h1.0v1.0h-1.0zM473.3 390.9h1.0v1.0h-1.0zM455.3 388.7h1.0v1.0h-1.0zM457.2 403.6h1.0v1.0h-1.0zM466.8 388.0h1.0v1.0h-1.0zM394.9 375.0h1.0v1.0h-1.0zM373.7 352.2h1.0v1.0h-1.0zM351.7 373.5h1.0v1.0h-1.0zM403.7 409.0h1.0v1.0h-1.0zM364.3 375.3h1.0v1.0h-1.0zM464.6 353.3h1.0v1.0h-1.0zM334.0 366.6h1.0v1.0h-1.0zM353.5 384.3h1.0v1.0h-1.0zM368.0 367.1h1.0v1.0h-1.0zM361.4 383.2h1.0v1.0h-1.0zM365.1 390.8h1.0v1.0h-1.0zM425.4 388.5h1.0v1.0h-1.0zM379.4 374.5h1.0v1.0h-1.0zM419.7 406.4h1.0v1.0h-1.0zM458.2 400.8h1.0v1.0h-1.0zM417.9 383.0h1.0v1.0h-1.0zM430.8 389.9h1.0v1.0h-1.0zM384.7 371.7h1.0v1.0h-1.0zM355.9 389.1h1.0v1.0h-1.0zM378.4 366.7h1.0v1.0h-1.0zM468.6 401.4h1.0v1.0h-1.0zM420.6 363.5h1.0v1.0h-1.0zM372.4 395.7h1.0v1.0h-1.0zM396.7 392.3h1.0v1.0h-1.0zM450.6 381.3h1.0v1.0h-1.0zM427.1 364.1h1.0v1.0h-1.0zM412.0 378.3h1.0v1.0h-1.0zM457.5 379.8h1.0v1.0h-1.0zM427.7 384.4h1.0v1.0h-1.0zM423.5 396.6h1.0v1.0h-1.0zM360.1 380.1h1.0v1.0h-1.0zM348.4 389.7h1.0v1.0h-1.0zM468.7 402.6h1.0v1.0h-1.0zM417.4 378.2h1.0v1.0h-1.0zM391.7 391.7h1.0v1.0h-1.0zM416.0 378.9h1.0v1.0h-1.0zM342.1 391.7h1.0v1.0h-1.0zM448.7 382.7h1.0v1.0h-1.0zM363.8 380.1h1.0v1.0h-1.0zM446.2 369.0h1.0v1.0h-1.0zM408.4 377.5h1.0v1.0h-1.0zM372.2 359.6h1.0v1.0h-1.0zM337.7 385.8h1.0v1.0h-1.0zM447.8 385.6h1.0v1.0h-1.0zM358.2 386.2h1.0v1.0h-1.0zM340.7 381.0h1.0v1.0h-1.0zM439.4 389.0h1.0v1.0h-1.0zM382.5 385.0h1.0v1.0h-1.0zM388.0 392.0h1.0v1.0h-1.0zM368.1 391.7h1.0v1.0h-1.0zM375.1 388.0h1.0v1.0h-1.0zM362.9 366.5h1.0v1.0h-1.0zM376.8 394.8h1.0v1.0h-1.0zM361.9 390.9h1.0v1.0h-1.0zM378.0 353.5h1.0v1.0h-1.0zM345.1 383.1h1.0v1.0h-1.0zM355.7 370.3h1.0v1.0h-1.0zM391.9 370.1h1.0v1.0h-1.0zM456.7 378.5h1.0v1.0h-1.0zM341.5 394.5h1.0v1.0h-1.0zM363.3 377.0h1.0v1.0h-1.0zM460.8 406.6h1.0v1.0h-1.0zM458.2 356.7h1.0v1.0h-1.0zM428.7 404.2h1.0v1.0h-1.0zM367.2 387.1h1.0v1.0h-1.0zM392.3 390.8h1.0v1.0h-1.0zM363.1 392.5h1.0v1.0h-1.0zM351.5 358.0h1.0v1.0h-1.0zM386.7 347.3h1.0v1.0h-1.0zM414.2 388.3h1.0v1.0h-1.0zM383.9 392.5h1.0v1.0h-1.0zM419.1 410.7h1.0v1.0h-1.0zM375.0 378.0h1.0v1.0h-1.0zM381.9 379.9h1.0v1.0h-1.0zM444.3 394.1h1.0v1.0h-1.0zM456.6 383.9h1.0v1.0h-1.0zM378.6 370.7h1.0v1.0h-1.0zM413.6 378.5h1.0v1.0h-1.0zM372.5 378.6h1.0v1.0h-1.0zM341.0 389.4h1.0v1.0h-1.0zM436.9 377.4h1.0v1.0h-1.0zM357.4 374.0h1.0v1.0h-1.0zM393.1 367.3h1.0v1.0h-1.0zM401.7 370.4h1.0v1.0h-1.0zM359.3 391.5h1.0v1.0h-1.0zM346.7 392.6h1.0v1.0h-1.0zM382.2 385.3h1.0v1.0h-1.0zM466.9 399.8h1.0v1.0h-1.0zM419.7 374.2h1.0v1.0h-1.0zM386.9 372.7h1.0v1.0h-1.0zM338.9 362.8h1.0v1.0h-1.0zM417.6 378.3h1.0v1.0h-1.0zM346.4 372.6h1.0v1.0h-1.0zM409.5 367.0h1.0v1.0h-1.0zM438.9 380.0h1.0v1.0h-1.0zM392.8 377.3h1.0v1.0h-1.0zM375.4 356.9h1.0v1.0h-1.0zM340.1 374.7h1.0v1.0h-1.0zM337.0 380.4h1.0v1.0h-1.0zM393.7 388.6h1.0v1.0h-1.0zM457.3 378.1h1.0v1.0h-1.0zM367.7 359.2h1.0v1.0h-1.0zM413.9 383.1h1.0v1.0h-1.0zM429.4 368.8h1.0v1.0h-1.0zM342.0 399.9h1.0v1.0h-1.0zM354.9 375.0h1.0v1.0h-1.0zM379.9 376.2h1.0v1.0h-1.0zM427.4 393.4h1.0v1.0h-1.0zM395.0 349.4h1.0v1.0h-1.0zM436.4 386.3h1.0v1.0h-1.0zM455.1 391.6h1.0v1.0h-1.0zM439.8 385.5h1.0v1.0h-1.0zM472.5 411.5h1.0v1.0h-1.0zM439.2 395.0h1.0v1.0h-1.0zM452.9 374.5h1.0v1.0h-1.0zM450.1 394.1h1.0v1.0h-1.0zM435.8 395.6h1.0v1.0h-1.0zM445.8 370.1h1.0v1.0h-1.0zM464.5 370.4h1.0v1.0h-1.0zM400.1 373.4h1.0v1.0h-1.0zM422.9 389.5h1.0v1.0h-1.0zM405.6 383.8h1.0v1.0h-1.0zM452.7 396.3h1.0v1.0h-1.0zM393.9 390.6h1.0v1.0h-1.0zM448.3 399.1h1.0v1.0h-1.0zM445.5 393.7h1.0v1.0h-1.0zM468.3 399.6h1.0v1.0h-1.0zM368.4 393.5h1.0v1.0h-1.0zM432.9 382.5h1.0v1.0h-1.0zM439.5 382.9h1.0v1.0h-1.0zM464.7 366.0h1.0v1.0h-1.0zM460.6 394.9h1.0v1.0h-1.0zM413.8 378.8h1.0v1.0h-1.0zM414.6 378.8h1.0v1.0h-1.0zM356.9 377.3h1.0v1.0h-1.0zM470.1 377.8h1.0v1.0h-1.0zM369.2 364.9h1.0v1.0h-1.0zM435.0 381.4h1.0v1.0h-1.0zM445.0 389.3h1.0v1.0h-1.0zM395.3 383.0h1.0v1.0h-1.0zM363.1 390.9h1.0v1.0h-1.0zM360.0 384.0h1.0v1.0h-1.0zM453.5 394.1h1.0v1.0h-1.0zM405.1 394.5h1.0v1.0h-1.0zM346.1 369.8h1.0v1.0h-1.0zM434.0 370.6h1.0v1.0h-1.0zM368.5 385.5h1.0v1.0h-1.0zM456.3 383.2h1.0v1.0h-1.0zM376.9 387.9h1.0v1.0h-1.0zM361.5 377.9h1.0v1.0h-1.0zM345.4 383.7h1.0v1.0h-1.0zM405.2 373.4h1.0v1.0h-1.0zM396.6 387.3h1.0v1.0h-1.0zM438.8 373.3h1.0v1.0h-1.0zM398.6 382.4h1.0v1.0h-1.0zM381.7 383.9h1.0v1.0h-1.0zM370.1 389.8h1.0v1.0h-1.0zM372.5 371.6h1.0v1.0h-1.0zM463.5 375.9h1.0v1.0h-1.0zM356.6 370.9h1.0v1.0h-1.0zM472.0 359.5h1.0v1.0h-1.0zM379.3 358.1h1.0v1.0h-1.0zM345.9 379.0h1.0v1.0h-1.0zM368.3 378.3h1.0v1.0h-1.0zM341.7 370.1h1.0v1.0h-1.0zM444.2 396.3h1.0v1.0h-1.0zM405.3 366.5h1.0v1.0h-1.0zM380.7 371.4h1.0v1.0h-1.0zM426.3 381.3h1.0v1.0h-1.0zM421.9 375.4h1.0v1.0h-1.0zM465.2 365.8h1.0v1.0h-1.0z"/>
<path fill="#f05a3c" d="M331.3 399.3h1.0v1.0h-1.0zM312.7 398.3h1.0v1.0h-1.0zM303.5 398.1h1.0v1.0h-1.0zM327.2 398.7h1.0v1.0h-1.0zM324.5 397.9h1.0v1.0h-1.0zM311.9 398.8h1.0v1.0h-1.0zM324.4 398.8h1.0v1.0h-1.0zM301.0 399.3h1.0v1.0h-1.0zM316.0 397.9h1.0v1.0h-1.0zM328.9 399.2h1.0v1.0h-1.0zM303.4 398.3h1.0v1.0h-1.0zM311.1 398.7h1.0v1.0h-1.0zM332.9 399.4h1.0v1.0h-1.0zM325.8 399.0h1.0v1.0h-1.0zM329.9 397.6h1.0v1.0h-1.0zM306.5 398.5h1.0v1.0h-1.0zM335.0 399.3h1.0v1.0h-1.0zM295.6 398.4h1.0v1.0h-1.0zM312.7 398.7h1.0v1.0h-1.0zM310.9 396.1h1.0v1.0h-1.0zM325.8 398.4h1.0v1.0h-1.0zM330.9 398.9h1.0v1.0h-1.0zM322.7 397.6h1.0v1.0h-1.0zM317.8 399.9h1.0v1.0h-1.0zM308.5 398.5h1.0v1.0h-1.0zM312.3 397.2h1.0v1.0h-1.0zM312.3 398.7h1.0v1.0h-1.0zM289.5 399.8h1.0v1.0h-1.0zM312.0 398.9h1.0v1.0h-1.0zM328.5 397.6h1.0v1.0h-1.0zM321.6 398.3h1.0v1.0h-1.0zM325.7 399.2h1.0v1.0h-1.0zM306.7 399.1h1.0v1.0h-1.0zM313.2 399.0h1.0v1.0h-1.0zM290.1 398.3h1.0v1.0h-1.0zM306.4 397.6h1.0v1.0h-1.0zM310.7 397.8h1.0v1.0h-1.0zM300.4 398.3h1.0v1.0h-1.0zM290.0 399.6h1.0v1.0h-1.0zM320.7 399.6h1.0v1.0h-1.0zM308.8 398.2h1.0v1.0h-1.0zM307.9 399.6h1.0v1.0h-1.0zM300.2 398.8h1.0v1.0h-1.0zM313.6 398.4h1.0v1.0h-1.0zM309.0 399.4h1.0v1.0h-1.0zM310.6 399.3h1.0v1.0h-1.0zM315.6 398.7h1.0v1.0h-1.0zM288.8 398.2h1.0v1.0h-1.0zM330.9 397.8h1.0v1.0h-1.0zM291.8 398.2h1.0v1.0h-1.0zM309.6 398.5h1.0v1.0h-1.0zM298.2 399.1h1.0v1.0h-1.0zM313.0 399.4h1.0v1.0h-1.0zM301.6 399.0h1.0v1.0h-1.0zM328.7 398.3h1.0v1.0h-1.0zM307.0 398.4h1.0v1.0h-1.0zM318.3 400.1h1.0v1.0h-1.0zM300.1 399.2h1.0v1.0h-1.0zM289.4 397.7h1.0v1.0h-1.0zM307.4 398.5h1.0v1.0h-1.0zM313.6 399.6h1.0v1.0h-1.0zM310.0 396.9h1.0v1.0h-1.0zM333.4 398.6h1.0v1.0h-1.0zM321.5 398.3h1.0v1.0h-1.0zM335.0 398.3h1.0v1.0h-1.0zM302.3 398.9h1.0v1.0h-1.0zM325.4 399.1h1.0v1.0h-1.0zM314.5 397.1h1.0v1.0h-1.0zM317.1 397.9h1.0v1.0h-1.0zM334.5 398.0h1.0v1.0h-1.0zM319.0 398.2h1.0v1.0h-1.0zM330.5 399.3h1.0v1.0h-1.0zM322.4 397.7h1.0v1.0h-1.0zM294.5 399.2h1.0v1.0h-1.0zM321.2 398.4h1.0v1.0h-1.0zM311.1 399.8h1.0v1.0h-1.0zM331.4 400.1h1.0v1.0h-1.0zM326.2 398.4h1.0v1.0h-1.0zM293.4 399.2h1.0v1.0h-1.0zM294.8 400.0h1.0v1.0h-1.0zM291.8 398.2h1.0v1.0h-1.0zM311.5 397.1h1.0v1.0h-1.0zM292.3 397.6h1.0v1.0h-1.0zM322.3 398.8h1.0v1.0h-1.0zM314.3 398.6h1.0v1.0h-1.0zM327.5 398.0h1.0v1.0h-1.0zM301.6 397.8h1.0v1.0h-1.0zM312.7 398.8h1.0v1.0h-1.0zM294.0 398.6h1.0v1.0h-1.0zM329.8 398.4h1.0v1.0h-1.0zM296.7 398.2h1.0v1.0h-1.0zM293.3 398.7h1.0v1.0h-1.0zM298.1 398.7h1.0v1.0h-1.0zM326.2 397.6h1.0v1.0h-1.0zM293.4 397.7h1.0v1.0h-1.0zM317.2 398.3h1.0v1.0h-1.0zM323.4 397.4h1.0v1.0h-1.0zM323.6 398.9h1.0v1.0h-1.0zM297.4 397.4h1.0v1.0h-1.0zM291.4 398.2h1.0v1.0h-1.0zM309.5 396.2h1.0v1.0h-1.0zM298.0 399.5h1.0v1.0h-1.0zM321.2 399.1h1.0v1.0h-1.0zM305.2 398.3h1.0v1.0h-1.0zM309.5 398.3h1.0v1.0h-1.0zM293.8 397.2h1.0v1.0h-1.0zM315.0 399.1h1.0v1.0h-1.0zM297.2 397.9h1.0v1.0h-1.0zM320.2 397.8h1.0v1.0h-1.0zM291.8 398.1h1.0v1.0h-1.0zM291.7 397.3h1.0v1.0h-1.0zM310.6 393.8h1.0v1.0h-1.0zM327.7 400.6h1.0v1.0h-1.0zM291.8 394.9h1.0v1.0h-1.0zM289.4 401.5h1.0v1.0h-1.0zM289.7 400.7h1.0v1.0h-1.0zM312.4 402.1h1.0v1.0h-1.0zM326.4 397.1h1.0v1.0h-1.0zM294.5 393.6h1.0v1.0h-1.0zM294.3 399.4h1.0v1.0h-1.0zM315.1 404.1h1.0v1.0h-1.0zM299.4 403.3h1.0v1.0h-1.0zM322.6 396.9h1.0v1.0h-1.0zM332.9 390.6h1.0v1.0h-1.0zM324.3 396.9h1.0v1.0h-1.0zM329.5 400.3h1.0v1.0h-1.0zM312.8 395.3h1.0v1.0h-1.0zM327.4 399.6h1.0v1.0h-1.0zM297.0 400.2h1.0v1.0h-1.0zM291.7 402.7h1.0v1.0h-1.0zM319.1 392.5h1.0v1.0h-1.0zM290.9 409.6h1.0v1.0h-1.0zM330.2 395.2h1.0v1.0h-1.0zM320.8 400.6h1.0v1.0h-1.0zM333.0 400.4h1.0v1.0h-1.0zM303.2 391.3h1.0v1.0h-1.0zM311.2 401.7h1.0v1.0h-1.0zM323.1 401.5h1.0v1.0h-1.0zM299.8 399.2h1.0v1.0h-1.0zM313.8 396.8h1.0v1.0h-1.0zM424.4 363.6h1.0v1.0h-1.0zM382.7 384.5h1.0v1.0h-1.0zM394.0 395.1h1.0v1.0h-1.0zM357.3 375.2h1.0v1.0h-1.0zM439.1 384.6h1.0v1.0h-1.0zM354.0 382.1h1.0v1.0h-1.0zM442.2 384.1h1.0v1.0h-1.0zM445.0 347.6h1.0v1.0h-1.0zM334.5 385.5h1.0v1.0h-1.0zM370.5 379.9h1.0v1.0h-1.0zM398.2 391.1h1.0v1.0h-1.0zM416.2 366.9h1.0v1.0h-1.0zM462.2 368.2h1.0v1.0h-1.0zM385.0 380.6h1.0v1.0h-1.0zM455.9 383.8h1.0v1.0h-1.0zM354.9 381.5h1.0v1.0h-1.0zM384.4 381.4h1.0v1.0h-1.0zM339.2 381.0h1.0v1.0h-1.0zM437.1 382.6h1.0v1.0h-1.0zM353.1 376.2h1.0v1.0h-1.0zM368.2 369.0h1.0v1.0h-1.0zM441.7 397.6h1.0v1.0h-1.0zM407.6 395.0h1.0v1.0h-1.0zM333.7 405.1h1.0v1.0h-1.0zM332.1 367.4h1.0v1.0h-1.0zM404.2 376.3h1.0v1.0h-1.0zM375.0 372.6h1.0v1.0h-1.0zM357.3 400.5h1.0v1.0h-1.0zM418.8 354.2h1.0v1.0h-1.0zM364.2 388.6h1.0v1.0h-1.0zM415.8 377.5h1.0v1.0h-1.0zM385.6 367.6h1.0v1.0h-1.0zM358.2 394.1h1.0v1.0h-1.0zM351.3 387.7h1.0v1.0h-1.0zM365.4 377.3h1.0v1.0h-1.0zM336.0 338.7h1.0v1.0h-1.0zM375.5 375.5h1.0v1.0h-1.0zM459.7 356.7h1.0v1.0h-1.0zM449.7 362.5h1.0v1.0h-1.0zM384.5 374.6h1.0v1.0h-1.0zM413.4 394.1h1.0v1.0h-1.0zM412.2 364.6h1.0v1.0h-1.0zM449.3 401.5h1.0v1.0h-1.0zM365.3 356.8h1.0v1.0h-1.0zM373.8 377.0h1.0v1.0h-1.0zM337.5 384.8h1.0v1.0h-1.0zM376.4 370.5h1.0v1.0h-1.0zM456.3 383.3h1.0v1.0h-1.0zM461.1 369.6h1.0v1.0h-1.0zM347.3 392.1h1.0v1.0h-1.0zM396.7 398.7h1.0v1.0h-1.0zM385.8 380.9h1.0v1.0h-1.0zM401.2 379.4h1.0v1.0h-1.0zM410.4 384.9h1.0v1.0h-1.0zM334.6 362.2h1.0v1.0h-1.0zM451.2 392.1h1.0v1.0h-1.0zM469.9 375.4h1.0v1.0h-1.0zM424.4 378.9h1.0v1.0h-1.0zM425.4 402.3h1.0v1.0h-1.0zM406.6 398.9h1.0v1.0h-1.0zM379.2 379.7h1.0v1.0h-1.0zM352.9 351.4h1.0v1.0h-1.0zM414.6 371.5h1.0v1.0h-1.0zM338.1 404.7h1.0v1.0h-1.0zM391.5 369.3h1.0v1.0h-1.0zM390.6 381.3h1.0v1.0h-1.0zM378.2 363.4h1.0v1.0h-1.0zM469.3 392.6h1.0v1.0h-1.0zM356.6 374.8h1.0v1.0h-1.0zM353.2 367.7h1.0v1.0h-1.0zM355.2 386.3h1.0v1.0h-1.0zM425.2 386.0h1.0v1.0h-1.0zM472.5 379.5h1.0v1.0h-1.0zM365.2 372.1h1.0v1.0h-1.0zM460.2 380.1h1.0v1.0h-1.0zM371.3 365.9h1.0v1.0h-1.0zM423.7 386.5h1.0v1.0h-1.0zM337.5 399.0h1.0v1.0h-1.0zM402.1 351.4h1.0v1.0h-1.0zM424.6 388.6h1.0v1.0h-1.0zM407.8 388.1h1.0v1.0h-1.0zM365.5 380.8h1.0v1.0h-1.0zM449.3 378.9h1.0v1.0h-1.0zM469.4 385.4h1.0v1.0h-1.0zM396.9 380.1h1.0v1.0h-1.0zM422.0 380.5h1.0v1.0h-1.0zM443.9 377.4h1.0v1.0h-1.0zM454.4 352.8h1.0v1.0h-1.0zM371.5 382.0h1.0v1.0h-1.0zM441.8 371.5h1.0v1.0h-1.0zM347.7 399.7h1.0v1.0h-1.0zM372.7 386.7h1.0v1.0h-1.0zM407.4 389.6h1.0v1.0h-1.0zM406.2 358.7h1.0v1.0h-1.0zM452.4 388.3h1.0v1.0h-1.0zM473.1 369.0h1.0v1.0h-1.0zM347.0 389.2h1.0v1.0h-1.0zM370.2 386.4h1.0v1.0h-1.0zM382.5 383.4h1.0v1.0h-1.0zM399.7 361.4h1.0v1.0h-1.0zM401.8 407.1h1.0v1.0h-1.0zM453.2 398.8h1.0v1.0h-1.0zM441.1 407.9h1.0v1.0h-1.0zM334.4 395.5h1.0v1.0h-1.0zM396.3 391.6h1.0v1.0h-1.0zM419.4 403.1h1.0v1.0h-1.0zM397.1 390.5h1.0v1.0h-1.0zM350.3 408.9h1.0v1.0h-1.0zM388.1 394.5h1.0v1.0h-1.0zM390.1 362.6h1.0v1.0h-1.0zM358.4 374.1h1.0v1.0h-1.0zM439.0 377.2h1.0v1.0h-1.0zM377.3 394.3h1.0v1.0h-1.0zM415.3 402.0h1.0v1.0h-1.0zM404.9 396.3h1.0v1.0h-1.0zM456.2 380.5h1.0v1.0h-1.0zM349.1 367.4h1.0v1.0h-1.0zM348.0 366.9h1.0v1.0h-1.0zM374.4 370.8h1.0v1.0h-1.0zM392.9 390.5h1.0v1.0h-1.0zM374.1 379.5h1.0v1.0h-1.0zM440.0 384.5h1.0v1.0h-1.0zM366.5 382.8h1.0v1.0h-1.0zM343.8 350.5h1.0v1.0h-1.0zM390.5 405.3h1.0v1.0h-1.0zM441.5 383.3h1.0v1.0h-1.0zM452.4 362.4h1.0v1.0h-1.0zM435.8 401.0h1.0v1.0h-1.0zM410.9 389.1h1.0v1.0h-1.0zM434.5 387.5h1.0v1.0h-1.0zM428.4 383.1h1.0v1.0h-1.0zM365.0 402.9h1.0v1.0h-1.0zM409.9 371.3h1.0v1.0h-1.0zM441.1 370.3h1.0v1.0h-1.0zM376.7 372.6h1.0v1.0h-1.0zM424.5 392.4h1.0v1.0h-1.0zM400.1 378.6h1.0v1.0h-1.0zM403.1 392.8h1.0v1.0h-1.0zM344.5 384.7h1.0v1.0h-1.0zM426.3 348.9h1.0v1.0h-1.0zM454.6 378.5h1.0v1.0h-1.0zM351.8 397.0h1.0v1.0h-1.0zM383.7 377.3h1.0v1.0h-1.0zM338.7 399.3h1.0v1.0h-1.0zM336.0 397.1h1.0v1.0h-1.0zM472.1 394.9h1.0v1.0h-1.0zM401.8 386.3h1.0v1.0h-1.0zM382.2 366.4h1.0v1.0h-1.0zM370.7 371.6h1.0v1.0h-1.0zM470.8 372.3h1.0v1.0h-1.0zM367.5 395.7h1.0v1.0h-1.0zM434.7 387.7h1.0v1.0h-1.0zM372.0 376.0h1.0v1.0h-1.0zM341.7 388.9h1.0v1.0h-1.0zM428.7 383.9h1.0v1.0h-1.0zM332.0 373.5h1.0v1.0h-1.0zM427.6 384.9h1.0v1.0h-1.0zM367.3 376.6h1.0v1.0h-1.0zM437.6 356.9h1.0v1.0h-1.0zM440.9 382.4h1.0v1.0h-1.0zM434.5 362.9h1.0v1.0h-1.0zM335.2 371.8h1.0v1.0h-1.0zM431.6 401.0h1.0v1.0h-1.0zM472.2 395.8h1.0v1.0h-1.0zM366.2 391.9h1.0v1.0h-1.0zM370.7 392.2h1.0v1.0h-1.0zM447.2 381.2h1.0v1.0h-1.0zM354.5 371.0h1.0v1.0h-1.0zM425.5 361.8h1.0v1.0h-1.0zM438.9 375.4h1.0v1.0h-1.0zM337.0 386.3h1.0v1.0h-1.0zM410.3 409.9h1.0v1.0h-1.0zM413.4 378.9h1.0v1.0h-1.0zM374.8 379.5h1.0v1.0h-1.0zM456.1 377.2h1.0v1.0h-1.0zM354.8 349.6h1.0v1.0h-1.0zM383.4 362.0h1.0v1.0h-1.0zM452.1 368.6h1.0v1.0h-1.0zM358.8 393.7h1.0v1.0h-1.0zM448.3 387.3h1.0v1.0h-1.0zM343.0 381.2h1.0v1.0h-1.0zM401.2 391.0h1.0v1.0h-1.0zM342.4 372.7h1.0v1.0h-1.0zM427.9 374.7h1.0v1.0h-1.0zM443.9 395.6h1.0v1.0h-1.0zM452.3 362.6h1.0v1.0h-1.0zM471.0 378.4h1.0v1.0h-1.0zM427.1 404.8h1.0v1.0h-1.0zM440.8 380.6h1.0v1.0h-1.0zM403.5 375.8h1.0v1.0h-1.0zM461.2 365.9h1.0v1.0h-1.0zM423.1 384.7h1.0v1.0h-1.0zM457.1 368.0h1.0v1.0h-1.0zM365.2 377.2h1.0v1.0h-1.0zM402.2 398.8h1.0v1.0h-1.0zM435.3 400.3h1.0v1.0h-1.0zM360.5 363.7h1.0v1.0h-1.0zM361.7 362.7h1.0v1.0h-1.0zM470.5 375.2h1.0v1.0h-1.0zM393.4 358.3h1.0v1.0h-1.0zM357.5 364.7h1.0v1.0h-1.0zM378.8 370.0h1.0v1.0h-1.0zM388.1 393.0h1.0v1.0h-1.0zM420.1 354.9h1.0v1.0h-1.0zM462.7 372.2h1.0v1.0h-1.0zM471.7 385.4h1.0v1.0h-1.0zM424.2 389.5h1.0v1.0h-1.0zM431.0 376.2h1.0v1.0h-1.0zM377.4 403.9h1.0v1.0h-1.0zM453.3 369.8h1.0v1.0h-1.0zM362.6 393.6h1.0v1.0h-1.0zM346.8 374.5h1.0v1.0h-1.0zM469.8 387.4h1.0v1.0h-1.0zM454.3 383.7h1.0v1.0h-1.0zM374.8 390.8h1.0v1.0h-1.0zM427.5 382.2h1.0v1.0h-1.0zM398.0 352.7h1.0v1.0h-1.0zM377.6 359.9h1.0v1.0h-1.0zM372.4 374.8h1.0v1.0h-1.0zM351.0 380.2h1.0v1.0h-1.0zM409.7 367.7h1.0v1.0h-1.0zM395.1 363.6h1.0v1.0h-1.0zM404.4 391.8h1.0v1.0h-1.0zM362.3 381.0h1.0v1.0h-1.0zM464.9 406.1h1.0v1.0h-1.0zM422.3 363.7h1.0v1.0h-1.0zM459.4 350.1h1.0v1.0h-1.0zM347.3 378.7h1.0v1.0h-1.0zM420.1 410.5h1.0v1.0h-1.0zM452.3 371.1h1.0v1.0h-1.0zM378.7 392.9h1.0v1.0h-1.0zM359.4 389.4h1.0v1.0h-1.0zM369.3 370.9h1.0v1.0h-1.0zM370.5 376.2h1.0v1.0h-1.0zM395.2 386.9h1.0v1.0h-1.0zM378.0 389.2h1.0v1.0h-1.0zM370.2 378.1h1.0v1.0h-1.0zM423.7 385.8h1.0v1.0h-1.0zM339.3 395.9h1.0v1.0h-1.0zM380.0 384.7h1.0v1.0h-1.0zM429.6 375.0h1.0v1.0h-1.0zM356.7 382.4h1.0v1.0h-1.0zM363.1 400.2h1.0v1.0h-1.0zM360.2 365.6h1.0v1.0h-1.0zM399.0 386.3h1.0v1.0h-1.0zM337.3 388.8h1.0v1.0h-1.0zM370.5 377.7h1.0v1.0h-1.0zM472.9 371.8h1.0v1.0h-1.0zM462.0 363.7h1.0v1.0h-1.0zM362.3 390.1h1.0v1.0h-1.0zM375.7 371.4h1.0v1.0h-1.0zM397.5 377.1h1.0v1.0h-1.0zM451.5 404.5h1.0v1.0h-1.0zM445.6 352.5h1.0v1.0h-1.0zM349.7 400.6h1.0v1.0h-1.0zM349.4 373.8h1.0v1.0h-1.0zM390.9 374.3h1.0v1.0h-1.0zM455.2 375.9h1.0v1.0h-1.0zM456.9 387.0h1.0v1.0h-1.0zM347.0 368.0h1.0v1.0h-1.0zM413.2 402.3h1.0v1.0h-1.0zM353.8 380.8h1.0v1.0h-1.0zM429.1 388.0h1.0v1.0h-1.0zM461.8 389.6h1.0v1.0h-1.0zM396.3 373.7h1.0v1.0h-1.0zM343.5 364.4h1.0v1.0h-1.0zM413.9 384.8h1.0v1.0h-1.0zM389.7 368.6h1.0v1.0h-1.0zM446.8 379.2h1.0v1.0h-1.0zM380.0 392.7h1.0v1.0h-1.0zM455.9 383.6h1.0v1.0h-1.0zM370.6 384.2h1.0v1.0h-1.0zM354.1 389.9h1.0v1.0h-1.0zM375.2 373.7h1.0v1.0h-1.0zM336.7 376.5h1.0v1.0h-1.0zM371.6 402.8h1.0v1.0h-1.0zM425.4 403.7h1.0v1.0h-1.0zM351.9 373.8h1.0v1.0h-1.0zM347.5 391.6h1.0v1.0h-1.0zM350.5 375.5h1.0v1.0h-1.0zM342.8 368.6h1.0v1.0h-1.0zM455.8 398.2h1.0v1.0h-1.0zM465.7 400.2h1.0v1.0h-1.0zM338.4 355.8h1.0v1.0h-1.0zM439.6 374.8h1.0v1.0h-1.0zM436.3 385.9h1.0v1.0h-1.0zM473.2 393.3h1.0v1.0h-1.0zM381.1 387.2h1.0v1.0h-1.0zM372.3 397.0h1.0v1.0h-1.0zM396.0 367.2h1.0v1.0h-1.0zM453.3 391.1h1.0v1.0h-1.0zM435.1 364.1h1.0v1.0h-1.0zM398.7 385.6h1.0v1.0h-1.0zM366.4 394.9h1.0v1.0h-1.0zM434.9 386.0h1.0v1.0h-1.0zM388.5 381.6h1.0v1.0h-1.0zM426.6 382.3h1.0v1.0h-1.0zM388.5 368.0h1.0v1.0h-1.0zM399.6 407.0h1.0v1.0h-1.0zM406.2 363.1h1.0v1.0h-1.0zM441.8 368.1h1.0v1.0h-1.0zM470.4 361.9h1.0v1.0h-1.0zM394.8 380.6h1.0v1.0h-1.0zM380.3 365.3h1.0v1.0h-1.0zM384.7 401.1h1.0v1.0h-1.0zM350.7 369.6h1.0v1.0h-1.0zM373.9 391.0h1.0v1.0h-1.0zM344.0 403.7h1.0v1.0h-1.0zM392.5 396.1h1.0v1.0h-1.0zM355.5 379.8h1.0v1.0h-1.0zM380.9 391.7h1.0v1.0h-1.0zM444.3 374.5h1.0v1.0h-1.0zM366.6 405.9h1.0v1.0h-1.0zM418.6 410.5h1.0v1.0h-1.0zM459.6 360.1h1.0v1.0h-1.0zM412.2 366.9h1.0v1.0h-1.0zM359.2 395.0h1.0v1.0h-1.0zM380.7 379.9h1.0v1.0h-1.0zM415.5 365.2h1.0v1.0h-1.0zM403.6 373.8h1.0v1.0h-1.0zM352.8 377.7h1.0v1.0h-1.0zM395.1 364.1h1.0v1.0h-1.0zM408.8 390.4h1.0v1.0h-1.0zM369.7 379.4h1.0v1.0h-1.0zM418.6 380.1h1.0v1.0h-1.0zM341.7 383.8h1.0v1.0h-1.0zM379.5 385.5h1.0v1.0h-1.0zM445.8 378.8h1.0v1.0h-1.0zM368.5 379.4h1.0v1.0h-1.0zM417.6 395.0h1.0v1.0h-1.0zM389.9 368.3h1.0v1.0h-1.0zM376.6 393.9h1.0v1.0h-1.0zM461.7 383.0h1.0v1.0h-1.0zM380.4 384.1h1.0v1.0h-1.0zM365.3 374.7h1.0v1.0h-1.0zM460.7 410.4h1.0v1.0h-1.0zM437.6 367.1h1.0v1.0h-1.0zM428.5 389.6h1.0v1.0h-1.0zM338.8 362.3h1.0v1.0h-1.0zM350.4 386.8h1.0v1.0h-1.0zM422.3 380.6h1.0v1.0h-1.0zM361.5 352.3h1.0v1.0h-1.0zM363.8 383.9h1.0v1.0h-1.0zM442.3 362.0h1.0v1.0h-1.0zM372.3 379.3h1.0v1.0h-1.0zM341.9 373.9h1.0v1.0h-1.0zM336.9 378.9h1.0v1.0h-1.0zM394.6 367.7h1.0v1.0h-1.0zM419.3 389.8h1.0v1.0h-1.0zM455.0 394.1h1.0v1.0h-1.0zM347.5 389.1h1.0v1.0h-1.0zM359.7 378.4h1.0v1.0h-1.0zM406.9 383.1h1.0v1.0h-1.0zM383.4 369.7h1.0v1.0h-1.0zM400.2 361.1h1.0v1.0h-1.0zM462.8 393.9h1.0v1.0h-1.0zM409.0 390.4h1.0v1.0h-1.0zM390.6 400.6h1.0v1.0h-1.0zM472.1 350.6h1.0v1.0h-1.0zM341.0 375.5h1.0v1.0h-1.0zM464.0 373.0h1.0v1.0h-1.0zM402.9 399.2h1.0v1.0h-1.0zM403.2 379.9h1.0v1.0h-1.0zM462.5 372.5h1.0v1.0h-1.0zM403.7 383.5h1.0v1.0h-1.0zM393.9 364.4h1.0v1.0h-1.0zM370.4 346.6h1.0v1.0h-1.0zM425.2 393.5h1.0v1.0h-1.0zM412.6 394.6h1.0v1.0h-1.0zM362.2 392.5h1.0v1.0h-1.0zM432.4 356.8h1.0v1.0h-1.0zM423.1 364.9h1.0v1.0h-1.0zM388.1 381.8h1.0v1.0h-1.0zM332.4 379.4h1.0v1.0h-1.0zM395.1 391.6h1.0v1.0h-1.0zM332.6 367.1h1.0v1.0h-1.0zM342.4 385.4h1.0v1.0h-1.0zM392.8 383.6h1.0v1.0h-1.0zM343.4 371.1h1.0v1.0h-1.0zM370.9 382.6h1.0v1.0h-1.0zM424.7 383.3h1.0v1.0h-1.0zM375.5 379.7h1.0v1.0h-1.0zM473.3 368.4h1.0v1.0h-1.0zM461.7 356.2h1.0v1.0h-1.0zM414.8 371.4h1.0v1.0h-1.0zM468.9 368.3h1.0v1.0h-1.0zM454.9 382.8h1.0v1.0h-1.0zM377.0 390.1h1.0v1.0h-1.0zM438.1 370.5h1.0v1.0h-1.0zM351.2 377.4h1.0v1.0h-1.0zM428.9 400.4h1.0v1.0h-1.0zM401.4 384.6h1.0v1.0h-1.0zM334.1 381.1h1.0v1.0h-1.0zM370.7 387.2h1.0v1.0h-1.0zM467.3 358.5h1.0v1.0h-1.0zM376.6 373.0h1.0v1.0h-1.0zM357.5 360.1h1.0v1.0h-1.0zM358.4 376.1h1.0v1.0h-1.0zM399.7 378.7h1.0v1.0h-1.0zM451.3 393.4h1.0v1.0h-1.0zM439.3 379.7h1.0v1.0h-1.0zM393.7 379.7h1.0v1.0h-1.0zM361.4 399.6h1.0v1.0h-1.0zM338.3 387.6h1.0v1.0h-1.0zM397.4 384.5h1.0v1.0h-1.0zM447.3 373.9h1.0v1.0h-1.0zM435.3 373.2h1.0v1.0h-1.0zM389.7 388.3h1.0v1.0h-1.0zM416.1 373.1h1.0v1.0h-1.0zM393.6 382.5h1.0v1.0h-1.0zM405.2 386.9h1.0v1.0h-1.0zM428.4 364.3h1.0v1.0h-1.0zM403.8 404.1h1.0v1.0h-1.0zM465.2 378.3h1.0v1.0h-1.0zM392.5 357.1h1.0v1.0h-1.0zM334.0 390.8h1.0v1.0h-1.0zM365.3 379.8h1.0v1.0h-1.0zM402.8 398.7h1.0v1.0h-1.0zM408.4 356.4h1.0v1.0h-1.0zM410.1 381.1h1.0v1.0h-1.0zM433.1 379.2h1.0v1.0h-1.0zM370.7 360.4h1.0v1.0h-1.0zM426.1 370.4h1.0v1.0h-1.0zM431.6 392.5h1.0v1.0h-1.0zM390.1 389.2h1.0v1.0h-1.0zM388.8 372.8h1.0v1.0h-1.0zM357.1 388.9h1.0v1.0h-1.0zM390.5 410.4h1.0v1.0h-1.0zM443.4 380.6h1.0v1.0h-1.0zM460.7 401.2h1.0v1.0h-1.0zM416.0 356.6h1.0v1.0h-1.0zM374.2 377.3h1.0v1.0h-1.0zM428.5 392.9h1.0v1.0h-1.0zM436.7 389.9h1.0v1.0h-1.0zM378.9 407.1h1.0v1.0h-1.0zM449.0 395.7h1.0v1.0h-1.0zM342.2 365.2h1.0v1.0h-1.0zM333.3 347.7h1.0v1.0h-1.0zM349.2 369.4h1.0v1.0h-1.0zM353.9 381.2h1.0v1.0h-1.0zM456.4 386.1h1.0v1.0h-1.0zM392.0 393.7h1.0v1.0h-1.0zM370.8 350.2h1.0v1.0h-1.0z"/>
<path d="M288.3 395.0C290.8 394.1 296.7 391.5 303.0 389.3C309.3 387.1 320.0 383.8 326.2 381.9C332.4 380.0 334.8 378.9 340.0 377.7C345.2 376.5 351.2 374.7 357.4 374.7C363.6 374.7 371.4 376.5 377.0 377.7C382.6 378.9 386.2 380.2 390.9 381.9C395.6 383.6 398.9 386.2 405.0 388.0C411.1 389.8 419.5 391.8 427.6 392.8C435.7 393.9 445.7 394.1 453.6 394.3C461.5 394.6 471.4 394.3 475.0 394.3" stroke="#3d5ef0" stroke-width="1" fill="none"/>
<path d="M288.3 398.5C296.1 397.0 324.1 391.8 335.4 389.3C346.7 386.8 348.5 385.0 356.2 383.5C363.9 382.0 372.6 381.1 381.6 380.5C390.6 379.9 394.4 379.9 410.0 379.8C425.6 379.7 464.2 379.8 475.0 379.8" stroke="#e2502e" stroke-width="1" fill="none"/>
<path d="M282.1 325.8V413.3H481.8" stroke="#111" stroke-width="1.3" fill="none"/>
<text x="277.6" y="408.7" font-size="8.3" text-anchor="end" fill="#111" textLength="7.5" lengthAdjust="spacingAndGlyphs">-1</text>
<text x="277.6" y="394.3" font-size="8.3" text-anchor="end" fill="#111" textLength="4.3" lengthAdjust="spacingAndGlyphs">0</text>
<text x="277.6" y="379.9" font-size="8.3" text-anchor="end" fill="#111" textLength="4.3" lengthAdjust="spacingAndGlyphs">1</text>
<text x="277.6" y="365.5" font-size="8.3" text-anchor="end" fill="#111" textLength="4.3" lengthAdjust="spacingAndGlyphs">2</text>
<text x="277.6" y="351.1" font-size="8.3" text-anchor="end" fill="#111" textLength="4.3" lengthAdjust="spacingAndGlyphs">3</text>
<text x="277.6" y="336.7" font-size="8.3" text-anchor="end" fill="#111" textLength="4.3" lengthAdjust="spacingAndGlyphs">4</text>
<text x="288.5" y="428.1" font-size="8.3" text-anchor="middle" fill="#111" textLength="4.5" lengthAdjust="spacingAndGlyphs">0</text>
<text x="323.1" y="428.1" font-size="8.3" text-anchor="middle" fill="#111" textLength="13.5" lengthAdjust="spacingAndGlyphs">200</text>
<text x="357.7" y="428.1" font-size="8.3" text-anchor="middle" fill="#111" textLength="13.5" lengthAdjust="spacingAndGlyphs">400</text>
<text x="392.3" y="428.1" font-size="8.3" text-anchor="middle" fill="#111" textLength="13.5" lengthAdjust="spacingAndGlyphs">600</text>
<text x="426.9" y="428.1" font-size="8.3" text-anchor="middle" fill="#111" textLength="13.5" lengthAdjust="spacingAndGlyphs">800</text>
<text x="461.5" y="428.1" font-size="8.3" text-anchor="middle" fill="#111" textLength="18" lengthAdjust="spacingAndGlyphs">1000</text>
<path d="M288.5 413.3L288.5 416.2M323.1 413.3L323.1 416.2M357.7 413.3L357.7 416.2M392.3 413.3L392.3 416.2M426.9 413.3L426.9 416.2M461.5 413.3L461.5 416.2" stroke="#111" stroke-width="1.0" fill="none"/>
<text x="284.5" y="441.6" font-size="9" text-anchor="middle" font-weight="bold" fill="#111" textLength="13.4" lengthAdjust="spacingAndGlyphs">HSC</text>
<text x="381.5" y="441.6" font-size="9" text-anchor="middle" font-weight="bold" fill="#111" textLength="39" lengthAdjust="spacingAndGlyphs">Pseudo-time</text>
<text x="476.6" y="441.6" font-size="9" text-anchor="middle" font-weight="bold" fill="#111" textLength="14" lengthAdjust="spacingAndGlyphs">MEP</text>
<text font-size="9.6" font-weight="bold" text-anchor="middle" fill="#111" textLength="33.8" lengthAdjust="spacingAndGlyphs" transform="translate(252.9 370) rotate(-90)">Normalized</text>
<text font-size="9.6" font-weight="bold" text-anchor="middle" fill="#111" textLength="31.3" lengthAdjust="spacingAndGlyphs" transform="translate(264.9 369.7) rotate(-90)">expression</text>
<text x="284.0" y="333.2" font-size="9.4" text-anchor="start" font-style="italic" fill="#4a4ab8" textLength="28" lengthAdjust="spacingAndGlyphs">GATA2</text>
<text x="284.0" y="346.5" font-size="9.4" text-anchor="start" font-style="italic" fill="#e0503a" textLength="27" lengthAdjust="spacingAndGlyphs">GATA1</text>
<text x="7.5" y="461.4" font-size="12.5" text-anchor="start" font-weight="bold">F</text>
<text x="76.3" y="458" font-size="9.6" fill="#111" textLength="120" lengthAdjust="spacingAndGlyphs"><tspan font-style="italic">GATA2</tspan> coexpressed genes</text>
<line x1="76.3" y1="460.5" x2="196.3" y2="460.5" stroke="#222" stroke-width="0.7"/>
<text x="333.8" y="458" font-size="9.6" fill="#111" textLength="119.5" lengthAdjust="spacingAndGlyphs"><tspan font-style="italic">GATA1</tspan> coexpressed genes</text>
<line x1="333.8" y1="460.5" x2="453.3" y2="460.5" stroke="#222" stroke-width="0.7"/>
<text x="221.9" y="472.6" font-size="8.3" text-anchor="start" fill="#cc2626" textLength="69.3" lengthAdjust="spacingAndGlyphs">positive correlation</text>
<text x="220.6" y="715.5" font-size="8.3" text-anchor="start" fill="#3c3ca8" textLength="71" lengthAdjust="spacingAndGlyphs">negative correlation</text>
<defs><linearGradient id="gpos" gradientUnits="userSpaceOnUse" x1="60" y1="0" x2="200" y2="0"><stop offset="0" stop-color="#fff"/><stop offset="1" stop-color="#cc0000"/></linearGradient><linearGradient id="gpos2" gradientUnits="userSpaceOnUse" x1="315" y1="0" x2="455" y2="0"><stop offset="0" stop-color="#fff"/><stop offset="1" stop-color="#cc0000"/></linearGradient><linearGradient id="gneg" gradientUnits="userSpaceOnUse" x1="40" y1="0" x2="235" y2="0"><stop offset="0" stop-color="#c8c8c8"/><stop offset="0.5" stop-color="#a0a4dc"/><stop offset="1" stop-color="#4a66f2"/></linearGradient><linearGradient id="gneg2" gradientUnits="userSpaceOnUse" x1="295" y1="0" x2="490" y2="0"><stop offset="0" stop-color="#c8c8c8"/><stop offset="0.5" stop-color="#a0a4dc"/><stop offset="1" stop-color="#4a66f2"/></linearGradient><linearGradient id="gcor" x1="0" x2="1"><stop offset="0" stop-color="#0000ff"/><stop offset="0.33" stop-color="#fff"/><stop offset="0.6" stop-color="#fff"/><stop offset="1" stop-color="#ff0000"/></linearGradient></defs>
<path d="M26.1 498.7L26.7 498.0L27.4 497.1L28.4 496.0L29.4 494.8L30.6 493.5L31.9 492.2L33.2 490.9L34.5 489.7L35.9 488.7L37.3 487.7L38.7 486.6L40.2 485.7L41.8 484.7L43.5 483.8L45.3 482.9L47.1 482.0L48.9 481.2L50.7 480.5L52.5 479.8L54.4 479.1L56.5 478.5L58.8 477.8L61.5 477.2L64.6 476.5L68.0 475.9L71.8 475.3L75.8 474.6L80.2 473.9L84.8 473.3L89.6 472.7L94.6 472.2L99.9 471.8L105.5 471.4L111.6 471.1L118.0 470.8L124.6 470.6L131.3 470.4L137.8 470.3L144.1 470.3L150.0 470.3L155.6 470.3L161.0 470.4L166.3 470.5L171.4 470.7L176.4 471.0L181.2 471.3L185.8 471.7L190.2 472.1L194.3 472.6L198.3 473.2L202.1 473.8L205.7 474.5L209.2 475.2L212.4 476.0L215.6 476.9L218.6 477.8L221.5 478.8L224.2 479.8L226.8 481.0L229.2 482.2L231.5 483.4L233.6 484.6L235.6 485.8L237.4 487.1L239.2 488.3L240.7 489.6L242.2 490.9L243.4 492.2L244.6 493.6L245.7 494.9L246.6 496.2L247.5 497.6L248.4 499.1L249.1 500.7L249.6 502.4L250.1 503.9L250.4 505.3L250.7 506.6L251.0 507.5L251.2 508.2L244.8 509.8L244.6 508.9L244.5 507.8L244.3 506.6L244.0 505.3L243.8 504.0L243.4 502.7L243.0 501.5L242.5 500.4L241.8 499.3L241.1 498.1L240.3 496.9L239.4 495.7L238.4 494.5L237.3 493.3L236.0 492.1L234.6 490.9L232.9 489.7L231.1 488.4L229.2 487.1L227.2 485.8L225.0 484.6L222.6 483.4L220.1 482.3L217.4 481.2L214.5 480.2L211.5 479.3L208.4 478.4L205.0 477.6L201.5 476.8L197.8 476.1L193.9 475.5L189.8 474.9L185.5 474.4L181.0 474.0L176.2 473.6L171.3 473.3L166.2 473.1L161.0 472.9L155.5 472.8L150.0 472.7L144.1 472.8L137.9 472.9L131.4 473.1L124.7 473.3L118.2 473.6L111.8 473.9L105.7 474.3L100.1 474.8L94.9 475.3L90.0 476.0L85.2 476.7L80.7 477.4L76.5 478.2L72.5 478.9L68.8 479.7L65.4 480.5L62.4 481.1L59.9 481.8L57.7 482.4L55.7 483.1L54.0 483.8L52.3 484.5L50.6 485.2L48.9 486.0L47.2 486.8L45.6 487.7L44.1 488.5L42.7 489.4L41.3 490.4L40.0 491.3L38.7 492.3L37.5 493.3L36.3 494.3L35.1 495.4L34.0 496.6L32.9 497.8L31.9 499.0L30.9 500.1L30.1 501.0L29.5 501.7L37.7 500.2L24.4 509.8L18.1 500.2Z" fill="url(#gpos)" stroke="#cc1818" stroke-width="0.8"/>
<path d="M281.1 498.7L281.7 498.0L282.4 497.1L283.4 496.0L284.4 494.8L285.6 493.5L286.9 492.2L288.2 490.9L289.5 489.7L290.9 488.7L292.3 487.7L293.7 486.6L295.2 485.7L296.8 484.7L298.5 483.8L300.3 482.9L302.1 482.0L303.9 481.2L305.7 480.5L307.5 479.8L309.4 479.1L311.5 478.5L313.8 477.8L316.5 477.2L319.6 476.5L323.0 475.9L326.8 475.3L330.8 474.6L335.2 473.9L339.8 473.3L344.6 472.7L349.6 472.2L354.9 471.8L360.5 471.4L366.6 471.1L373.0 470.8L379.6 470.6L386.3 470.4L392.8 470.3L399.1 470.3L405.0 470.3L410.6 470.3L416.0 470.4L421.3 470.5L426.4 470.7L431.4 471.0L436.2 471.3L440.8 471.7L445.2 472.1L449.3 472.6L453.3 473.2L457.1 473.8L460.7 474.5L464.2 475.2L467.4 476.0L470.6 476.9L473.6 477.8L476.5 478.8L479.2 479.8L481.8 481.0L484.2 482.2L486.5 483.4L488.6 484.6L490.6 485.8L492.4 487.1L494.2 488.3L495.7 489.6L497.2 490.9L498.4 492.2L499.6 493.6L500.7 494.9L501.6 496.2L502.5 497.6L503.4 499.1L504.1 500.7L504.6 502.4L505.1 503.9L505.4 505.3L505.7 506.6L506.0 507.5L506.2 508.2L499.8 509.8L499.6 508.9L499.5 507.8L499.3 506.6L499.0 505.3L498.8 504.0L498.4 502.7L498.0 501.5L497.5 500.4L496.8 499.3L496.1 498.1L495.3 496.9L494.4 495.7L493.4 494.5L492.3 493.3L491.0 492.1L489.6 490.9L487.9 489.7L486.1 488.4L484.2 487.1L482.2 485.8L480.0 484.6L477.6 483.4L475.1 482.3L472.4 481.2L469.5 480.2L466.5 479.3L463.4 478.4L460.0 477.6L456.5 476.8L452.8 476.1L448.9 475.5L444.8 474.9L440.5 474.4L436.0 474.0L431.2 473.6L426.3 473.3L421.2 473.1L416.0 472.9L410.5 472.8L405.0 472.7L399.1 472.8L392.9 472.9L386.4 473.1L379.7 473.3L373.2 473.6L366.8 473.9L360.7 474.3L355.1 474.8L349.9 475.3L345.0 476.0L340.2 476.7L335.7 477.4L331.5 478.2L327.5 478.9L323.8 479.7L320.4 480.5L317.4 481.1L314.9 481.8L312.7 482.4L310.7 483.1L309.0 483.8L307.3 484.5L305.6 485.2L303.9 486.0L302.2 486.8L300.6 487.7L299.1 488.5L297.7 489.4L296.3 490.4L295.0 491.3L293.7 492.3L292.5 493.3L291.3 494.3L290.1 495.4L289.0 496.6L287.9 497.8L286.9 499.0L285.9 500.1L285.1 501.0L284.5 501.7L292.7 500.2L279.4 509.8L273.1 500.2Z" fill="url(#gpos2)" stroke="#cc1818" stroke-width="0.8"/>
<path d="M25.8 674.0L26.0 674.7L26.2 675.8L26.4 677.1L26.7 678.7L27.1 680.4L27.5 682.2L28.1 684.0L28.9 685.7L29.7 687.1L30.7 688.4L31.7 689.6L32.8 690.7L34.0 691.9L35.3 692.9L36.7 693.9L38.2 694.9L39.9 695.9L41.5 696.8L43.3 697.8L45.3 698.7L47.3 699.5L49.5 700.4L51.9 701.2L54.4 701.9L57.1 702.6L59.9 703.3L63.0 704.0L66.2 704.6L69.5 705.2L72.8 705.7L76.3 706.2L79.8 706.7L83.5 707.1L87.3 707.5L91.2 707.9L95.2 708.2L99.2 708.4L103.2 708.7L107.1 708.9L111.0 709.0L114.7 709.1L118.3 709.2L122.0 709.3L125.6 709.3L129.1 709.3L132.7 709.3L136.4 709.2L140.0 709.0L143.7 708.9L147.5 708.8L151.3 708.7L155.1 708.5L158.9 708.3L162.7 708.0L166.4 707.6L170.1 707.2L173.8 706.7L177.6 706.1L181.3 705.5L185.0 704.8L188.6 704.1L192.1 703.4L195.3 702.6L198.4 702.0L201.2 701.3L203.8 700.6L206.2 699.9L208.5 699.2L210.7 698.5L212.7 697.8L214.7 697.0L216.7 696.2L218.7 695.4L220.6 694.6L222.4 693.7L224.2 692.8L225.8 691.9L227.3 691.1L228.8 690.2L230.2 689.5L231.5 688.7L232.9 687.9L234.1 687.1L235.2 686.3L236.3 685.6L237.2 685.0L237.9 684.5L238.5 684.1L245.8 681.5L240.4 673.1L228.8 681.5L235.5 679.9L234.9 680.3L234.2 680.9L233.3 681.6L232.4 682.3L231.3 683.1L230.2 683.9L229.0 684.7L227.8 685.5L226.5 686.4L225.1 687.3L223.6 688.2L222.1 689.1L220.5 690.1L218.8 691.0L217.1 691.9L215.3 692.8L213.4 693.6L211.4 694.4L209.5 695.2L207.4 696.0L205.2 696.7L202.9 697.5L200.4 698.3L197.6 699.0L194.7 699.9L191.4 700.7L188.0 701.5L184.5 702.4L180.9 703.2L177.2 703.9L173.5 704.6L169.9 705.2L166.2 705.7L162.5 706.1L158.8 706.4L155.0 706.7L151.2 707.0L147.4 707.2L143.7 707.4L140.0 707.6L136.3 707.7L132.7 707.7L129.1 707.8L125.6 707.8L122.0 707.7L118.4 707.7L114.7 707.6L111.0 707.4L107.2 707.2L103.3 706.9L99.3 706.6L95.3 706.2L91.4 705.8L87.5 705.3L83.7 704.8L80.2 704.3L76.7 703.7L73.3 703.0L70.0 702.3L66.8 701.5L63.8 700.7L60.9 699.8L58.1 699.0L55.6 698.1L53.3 697.2L51.2 696.2L49.3 695.2L47.6 694.2L45.9 693.2L44.4 692.2L43.0 691.1L41.8 690.1L40.6 689.0L39.6 688.1L38.8 687.1L38.1 686.1L37.5 685.2L36.9 684.2L36.5 683.3L36.1 682.3L35.9 681.4L35.7 680.3L35.5 679.0L35.4 677.6L35.4 676.3L35.4 674.9L35.4 673.7L35.4 672.8Z" fill="url(#gneg)" stroke="#202078" stroke-width="0.8"/>
<path d="M280.8 674.0L281.0 674.7L281.2 675.8L281.4 677.1L281.7 678.7L282.1 680.4L282.5 682.2L283.1 684.0L283.9 685.7L284.7 687.1L285.7 688.4L286.7 689.6L287.8 690.7L289.0 691.9L290.3 692.9L291.7 693.9L293.2 694.9L294.9 695.9L296.5 696.8L298.3 697.8L300.3 698.7L302.3 699.5L304.5 700.4L306.9 701.2L309.4 701.9L312.1 702.6L314.9 703.3L318.0 704.0L321.2 704.6L324.5 705.2L327.8 705.7L331.3 706.2L334.8 706.7L338.5 707.1L342.3 707.5L346.2 707.9L350.2 708.2L354.2 708.4L358.2 708.7L362.1 708.9L366.0 709.0L369.7 709.1L373.3 709.2L377.0 709.3L380.6 709.3L384.1 709.3L387.7 709.3L391.4 709.2L395.0 709.0L398.7 708.9L402.5 708.8L406.3 708.7L410.1 708.5L413.9 708.3L417.7 708.0L421.4 707.6L425.1 707.2L428.8 706.7L432.6 706.1L436.3 705.5L440.0 704.8L443.6 704.1L447.1 703.4L450.3 702.6L453.4 702.0L456.2 701.3L458.8 700.6L461.2 699.9L463.5 699.2L465.7 698.5L467.7 697.8L469.7 697.0L471.7 696.2L473.7 695.4L475.6 694.6L477.4 693.7L479.2 692.8L480.8 691.9L482.3 691.1L483.8 690.2L485.2 689.5L486.5 688.7L487.9 687.9L489.1 687.1L490.2 686.3L491.3 685.6L492.2 685.0L492.9 684.5L493.5 684.1L500.8 681.5L495.4 673.1L483.8 681.5L490.5 679.9L489.9 680.3L489.2 680.9L488.3 681.6L487.4 682.3L486.3 683.1L485.2 683.9L484.0 684.7L482.8 685.5L481.5 686.4L480.1 687.3L478.6 688.2L477.1 689.1L475.5 690.1L473.8 691.0L472.1 691.9L470.3 692.8L468.4 693.6L466.4 694.4L464.5 695.2L462.4 696.0L460.2 696.7L457.9 697.5L455.4 698.3L452.6 699.0L449.7 699.9L446.4 700.7L443.0 701.5L439.5 702.4L435.9 703.2L432.2 703.9L428.5 704.6L424.9 705.2L421.2 705.7L417.5 706.1L413.8 706.4L410.0 706.7L406.2 707.0L402.4 707.2L398.7 707.4L395.0 707.6L391.3 707.7L387.7 707.7L384.1 707.8L380.6 707.8L377.0 707.7L373.4 707.7L369.7 707.6L366.0 707.4L362.2 707.2L358.3 706.9L354.3 706.6L350.3 706.2L346.4 705.8L342.5 705.3L338.7 704.8L335.2 704.3L331.7 703.7L328.3 703.0L325.0 702.3L321.8 701.5L318.8 700.7L315.9 699.8L313.1 699.0L310.6 698.1L308.3 697.2L306.2 696.2L304.3 695.2L302.6 694.2L300.9 693.2L299.4 692.2L298.0 691.1L296.8 690.1L295.6 689.0L294.6 688.1L293.8 687.1L293.1 686.1L292.5 685.2L291.9 684.2L291.5 683.3L291.1 682.3L290.9 681.4L290.7 680.3L290.5 679.0L290.4 677.6L290.4 676.3L290.4 674.9L290.4 673.7L290.4 672.8Z" fill="url(#gneg2)" stroke="#202078" stroke-width="0.8"/>
<path d="M239.2 606.5L152.9 695.2M235.4 622.0L220.0 651.7M235.4 622.0L197.8 674.8M235.4 622.0L183.7 683.7M235.4 622.0L176.9 696.2M235.4 622.0L152.9 695.2M235.4 622.0L137.5 697.1M235.4 622.0L121.2 696.2M235.4 622.0L103.8 693.3M235.4 622.0L75.0 679.5M235.4 622.0L60.0 670.0M235.4 622.0L51.2 657.5M235.4 622.0L41.2 645.0M235.4 622.0L33.8 630.5M235.4 622.0L28.5 615.0M235.4 622.0L27.2 598.9M229.2 637.5L210.0 664.6M229.2 637.5L197.8 674.8M229.2 637.5L183.7 683.7M229.2 637.5L152.9 695.2M229.2 637.5L137.5 697.1M229.2 637.5L103.8 693.3M229.2 637.5L75.0 679.5M229.2 637.5L60.0 670.0M229.2 637.5L51.2 657.5M229.2 637.5L41.2 645.0M229.2 637.5L33.8 630.5M229.2 637.5L27.2 598.9M220.0 651.7L197.8 674.8M220.0 651.7L183.7 683.7M220.0 651.7L176.9 696.2M220.0 651.7L152.9 695.2M220.0 651.7L137.5 697.1M220.0 651.7L103.8 693.3M220.0 651.7L75.0 679.5M220.0 651.7L60.0 670.0M220.0 651.7L51.2 657.5M220.0 651.7L41.2 645.0M220.0 651.7L33.8 630.5M220.0 651.7L28.5 615.0M220.0 651.7L27.2 598.9M210.0 664.6L183.7 683.7M210.0 664.6L176.9 696.2M210.0 664.6L137.5 697.1M210.0 664.6L121.2 696.2M210.0 664.6L103.8 693.3M210.0 664.6L75.0 679.5M210.0 664.6L60.0 670.0M210.0 664.6L28.5 615.0M210.0 664.6L27.2 598.9M197.8 674.8L176.9 696.2M197.8 674.8L137.5 697.1M197.8 674.8L121.2 696.2M197.8 674.8L89.5 687.5M197.8 674.8L75.0 679.5M197.8 674.8L60.0 670.0M197.8 674.8L51.2 657.5M197.8 674.8L41.2 645.0M197.8 674.8L33.8 630.5M197.8 674.8L27.2 598.9M183.7 683.7L152.9 695.2M183.7 683.7L137.5 697.1M183.7 683.7L103.8 693.3M183.7 683.7L89.5 687.5M183.7 683.7L75.0 679.5M183.7 683.7L60.0 670.0M183.7 683.7L41.2 645.0M183.7 683.7L33.8 630.5M183.7 683.7L28.5 615.0M176.9 696.2L137.5 697.1M176.9 696.2L121.2 696.2M176.9 696.2L103.8 693.3M176.9 696.2L89.5 687.5M176.9 696.2L75.0 679.5M176.9 696.2L41.2 645.0M176.9 696.2L28.5 615.0M152.9 695.2L103.8 693.3M152.9 695.2L89.5 687.5M152.9 695.2L60.0 670.0M152.9 695.2L51.2 657.5M152.9 695.2L33.8 630.5M152.9 695.2L28.5 615.0M152.9 695.2L27.2 598.9M137.5 697.1L103.8 693.3M137.5 697.1L89.5 687.5M137.5 697.1L75.0 679.5M137.5 697.1L60.0 670.0M137.5 697.1L41.2 645.0M137.5 697.1L33.8 630.5M137.5 697.1L28.5 615.0M121.2 696.2L89.5 687.5M121.2 696.2L60.0 670.0M121.2 696.2L51.2 657.5M121.2 696.2L33.8 630.5M121.2 696.2L28.5 615.0M121.2 696.2L27.2 598.9M103.8 693.3L60.0 670.0M103.8 693.3L41.2 645.0M103.8 693.3L33.8 630.5M103.8 693.3L28.5 615.0M89.5 687.5L60.0 670.0M89.5 687.5L41.2 645.0M89.5 687.5L33.8 630.5M89.5 687.5L28.5 615.0M75.0 679.5L51.2 657.5M75.0 679.5L41.2 645.0M75.0 679.5L33.8 630.5M75.0 679.5L28.5 615.0M75.0 679.5L27.2 598.9M60.0 670.0L28.5 615.0M60.0 670.0L27.2 598.9M51.2 657.5L33.8 630.5M51.2 657.5L28.5 615.0M51.2 657.5L27.2 598.9M41.2 645.0L28.5 615.0M33.8 630.5L27.2 598.9M239.2 606.5L235.4 622.0M235.4 622.0L229.2 637.5M229.2 637.5L220.0 651.7M220.0 651.7L210.0 664.6M210.0 664.6L197.8 674.8M197.8 674.8L183.7 683.7M183.7 683.7L176.9 696.2M176.9 696.2L152.9 695.2M152.9 695.2L137.5 697.1M137.5 697.1L121.2 696.2M121.2 696.2L103.8 693.3M103.8 693.3L89.5 687.5M89.5 687.5L75.0 679.5M75.0 679.5L60.0 670.0M60.0 670.0L51.2 657.5M51.2 657.5L41.2 645.0M41.2 645.0L33.8 630.5M33.8 630.5L28.5 615.0M28.5 615.0L27.2 598.9M34.5 550.5L184.6 496.2M34.5 550.5L169.2 489.4M34.5 550.5L153.5 484.8M62.5 510.5L153.5 484.8M75.0 500.0L184.6 496.2M90.0 492.5L184.6 496.2M51.0 522.0L169.2 489.4M41.2 535.5L153.5 484.8M101.7 484.1L153.5 484.8" stroke="#ff3535" stroke-opacity="0.68" stroke-width="0.75" fill="none"/>
<path d="M101.7 484.1L197.8 674.8M101.7 484.1L183.7 683.7M101.7 484.1L176.9 696.2M101.7 484.1L152.9 695.2M101.7 484.1L137.5 697.1M101.7 484.1L121.2 696.2M101.7 484.1L103.8 693.3M101.7 484.1L89.5 687.5M101.7 484.1L75.0 679.5M101.7 484.1L51.2 657.5M101.7 484.1L33.8 630.5M90.0 492.5L239.2 606.5M90.0 492.5L235.4 622.0M90.0 492.5L229.2 637.5M90.0 492.5L220.0 651.7M90.0 492.5L210.0 664.6M90.0 492.5L41.2 645.0M90.0 492.5L33.8 630.5M90.0 492.5L28.5 615.0M90.0 492.5L27.2 598.9M90.0 492.5L60.0 670.0M184.6 496.2L152.9 695.2M184.6 496.2L137.5 697.1M184.6 496.2L121.2 696.2M184.6 496.2L89.5 687.5M184.6 496.2L75.0 679.5M184.6 496.2L60.0 670.0M184.6 496.2L51.2 657.5M184.6 496.2L41.2 645.0M184.6 496.2L33.8 630.5M184.6 496.2L28.5 615.0M184.6 496.2L27.2 598.9M184.6 496.2L229.2 637.5M153.5 484.8L176.9 696.2M153.5 484.8L121.2 696.2M153.5 484.8L89.5 687.5M169.2 489.4L183.7 683.7M169.2 489.4L137.5 697.1M169.2 489.4L75.0 679.5M221.0 529.2L51.2 657.5M221.0 529.2L41.2 645.0M221.0 529.2L33.8 630.5M221.0 529.2L27.2 598.9M228.7 543.0L75.0 679.5M228.7 543.0L51.2 657.5M228.7 543.0L33.8 630.5M228.7 543.0L28.5 615.0M228.7 543.0L27.2 598.9M238.8 573.8L33.8 630.5M238.8 573.8L27.2 598.9M34.5 550.5L220.0 651.7M26.7 582.5L221.0 529.2" stroke="#3a7cf0" stroke-opacity="0.9" stroke-width="0.8" fill="none"/>
<circle cx="240.2" cy="590.0" r="6.4" fill="#ffff3c"/>
<g fill="#f9c8c8"><circle cx="101.7" cy="484.1" r="6.5"/><circle cx="120.6" cy="482.8" r="6.5"/><circle cx="137.4" cy="481.4" r="6.5"/><circle cx="153.5" cy="484.8" r="6.5"/><circle cx="169.2" cy="489.4" r="6.5"/><circle cx="184.6" cy="496.2" r="6.5"/><circle cx="197.8" cy="504.8" r="6.5"/><circle cx="210.4" cy="516.7" r="6.5"/><circle cx="221.0" cy="529.2" r="6.5"/><circle cx="228.7" cy="543.0" r="6.5"/><circle cx="235.4" cy="558.0" r="6.5"/><circle cx="238.8" cy="573.8" r="6.5"/><circle cx="26.7" cy="582.5" r="6.5"/><circle cx="29.6" cy="566.0" r="6.5"/><circle cx="34.5" cy="550.5" r="6.5"/><circle cx="41.2" cy="535.5" r="6.5"/><circle cx="51.0" cy="522.0" r="6.5"/><circle cx="62.5" cy="510.5" r="6.5"/><circle cx="75.0" cy="500.0" r="6.5"/><circle cx="90.0" cy="492.5" r="6.5"/></g>
<path fill="#92c8f7" d="M233.5 606.5L236.2 600.4L242.2 600.4L244.9 606.5L242.2 612.6L236.2 612.6ZM229.7 622.0L232.4 615.9L238.4 615.9L241.1 622.0L238.4 628.1L232.4 628.1ZM223.5 637.5L226.2 631.4L232.2 631.4L234.9 637.5L232.2 643.6L226.2 643.6ZM214.3 651.7L217.0 645.6L223.0 645.6L225.7 651.7L223.0 657.8L217.0 657.8ZM204.3 664.6L207.0 658.5L213.0 658.5L215.7 664.6L213.0 670.7L207.0 670.7ZM192.1 674.8L194.8 668.7L200.8 668.7L203.5 674.8L200.8 680.9L194.8 680.9ZM178.0 683.7L180.7 677.6L186.7 677.6L189.4 683.7L186.7 689.8L180.7 689.8ZM171.2 696.2L173.9 690.1L179.9 690.1L182.6 696.2L179.9 702.3L173.9 702.3ZM147.2 695.2L149.9 689.1L155.9 689.1L158.6 695.2L155.9 701.3L149.9 701.3ZM131.8 697.1L134.5 691.0L140.5 691.0L143.2 697.1L140.5 703.2L134.5 703.2ZM115.5 696.2L118.2 690.1L124.2 690.1L126.9 696.2L124.2 702.3L118.2 702.3ZM98.1 693.3L100.8 687.2L106.8 687.2L109.5 693.3L106.8 699.4L100.8 699.4ZM83.8 687.5L86.5 681.4L92.5 681.4L95.2 687.5L92.5 693.6L86.5 693.6ZM69.3 679.5L72.0 673.4L78.0 673.4L80.7 679.5L78.0 685.6L72.0 685.6ZM54.3 670.0L57.0 663.9L63.0 663.9L65.7 670.0L63.0 676.1L57.0 676.1ZM45.5 657.5L48.2 651.4L54.2 651.4L57.0 657.5L54.2 663.6L48.2 663.6ZM35.5 645.0L38.2 638.9L44.2 638.9L47.0 645.0L44.2 651.1L38.2 651.1ZM28.1 630.5L30.8 624.4L36.8 624.4L39.5 630.5L36.8 636.6L30.8 636.6ZM22.8 615.0L25.5 608.9L31.5 608.9L34.2 615.0L31.5 621.1L25.5 621.1ZM21.5 598.9L24.2 592.8L30.2 592.8L32.9 598.9L30.2 605.0L24.2 605.0Z"/>
<g font-size="5.5" font-weight="bold" text-anchor="middle" fill="#000" stroke="#000" stroke-width="0.22">
<text x="99.2" y="481.0">RP11-620J15.3</text>
<text x="121.1" y="489.7">HPGDS</text>
<text x="137.4" y="483.3">IL1B</text>
<text x="153.5" y="487.7">RPL31</text>
<text x="169.2" y="491.3">RPS6</text>
<text x="184.6" y="498.1">RPS4X</text>
<text x="197.8" y="506.7">PBX1</text>
<text x="210.4" y="518.6">ITGA2B</text>
<text x="221.0" y="531.1">CYTL1</text>
<text x="228.7" y="544.9">SLC40A1</text>
<text x="235.4" y="559.9">SERPINB1</text>
<text x="235.8" y="575.7">RP11-354E11.2</text>
<text x="240.2" y="591.9">GATA2</text>
<text x="239.2" y="608.4">CALM1</text>
<text x="235.4" y="623.9">S100A11</text>
<text x="229.2" y="639.4">CST3</text>
<text x="220.0" y="653.6">ACTB</text>
<text x="210.0" y="666.5">PLD4</text>
<text x="197.8" y="676.7">HLA-DMB</text>
<text x="183.7" y="685.6">FCER1G</text>
<text x="176.9" y="698.1">RAB11FIP1</text>
<text x="152.9" y="697.1">CD48</text>
<text x="137.5" y="699.0">ANXA2</text>
<text x="121.2" y="698.1">LYZ</text>
<text x="103.8" y="695.2">TYROBP</text>
<text x="89.5" y="689.4">CD74</text>
<text x="75.0" y="681.4">LSP1</text>
<text x="60.0" y="671.9">TMSB10</text>
<text x="51.2" y="659.4">TMSB4X</text>
<text x="41.2" y="646.9">CYBA</text>
<text x="33.8" y="632.4">SAMHD1</text>
<text x="28.5" y="616.9">LGALS1</text>
<text x="27.2" y="600.8">CORO1A</text>
<text x="26.7" y="584.4">MYCT1</text>
<text x="29.6" y="567.9">ZBTB16</text>
<text x="34.5" y="552.4">RPL12</text>
<text x="41.2" y="537.4">PTRF</text>
<text x="51.0" y="523.9">IGSF10</text>
<text x="62.5" y="512.4">ZNF385D</text>
<text x="75.0" y="501.9">RPS18</text>
<text x="90.0" y="494.4">PDZD8</text>
</g>
<path d="M498.8 621.2L486.3 648.5M498.8 621.2L477.8 660.1M498.8 621.2L466.2 671.3M498.8 621.2L456.0 679.1M498.8 621.2L440.8 685.5M498.8 621.2L421.7 691.8M498.8 621.2L405.9 697.1M498.8 621.2L379.6 693.5M498.8 621.2L347.9 683.5M498.8 621.2L335.8 676.2M498.8 621.2L322.0 666.7M498.8 621.2L302.3 642.3M498.8 621.2L293.7 628.2M498.8 621.2L288.6 612.9M498.8 621.2L285.9 597.7M492.5 635.8L466.2 671.3M492.5 635.8L456.0 679.1M492.5 635.8L421.7 691.8M492.5 635.8L405.9 697.1M492.5 635.8L379.6 693.5M492.5 635.8L347.9 683.5M492.5 635.8L322.0 666.7M492.5 635.8L288.6 612.9M492.5 635.8L285.9 597.7M486.3 648.5L466.2 671.3M486.3 648.5L456.0 679.1M486.3 648.5L421.7 691.8M486.3 648.5L405.9 697.1M486.3 648.5L379.6 693.5M486.3 648.5L335.8 676.2M486.3 648.5L322.0 666.7M486.3 648.5L302.3 642.3M477.8 660.1L421.7 691.8M477.8 660.1L405.9 697.1M477.8 660.1L379.6 693.5M477.8 660.1L322.0 666.7M477.8 660.1L310.4 656.0M477.8 660.1L302.3 642.3M477.8 660.1L293.7 628.2M477.8 660.1L285.9 597.7M466.2 671.3L440.8 685.5M466.2 671.3L421.7 691.8M466.2 671.3L379.6 693.5M466.2 671.3L335.8 676.2M466.2 671.3L322.0 666.7M466.2 671.3L293.7 628.2M456.0 679.1L405.9 697.1M456.0 679.1L379.6 693.5M456.0 679.1L347.9 683.5M456.0 679.1L335.8 676.2M456.0 679.1L322.0 666.7M456.0 679.1L310.4 656.0M456.0 679.1L293.7 628.2M456.0 679.1L285.9 597.7M440.8 685.5L379.6 693.5M440.8 685.5L362.3 688.6M440.8 685.5L347.9 683.5M440.8 685.5L335.8 676.2M440.8 685.5L322.0 666.7M440.8 685.5L302.3 642.3M440.8 685.5L293.7 628.2M421.7 691.8L362.3 688.6M421.7 691.8L347.9 683.5M421.7 691.8L335.8 676.2M421.7 691.8L322.0 666.7M421.7 691.8L310.4 656.0M421.7 691.8L302.3 642.3M421.7 691.8L293.7 628.2M421.7 691.8L288.6 612.9M405.9 697.1L362.3 688.6M405.9 697.1L347.9 683.5M405.9 697.1L335.8 676.2M405.9 697.1L322.0 666.7M405.9 697.1L310.4 656.0M405.9 697.1L302.3 642.3M405.9 697.1L293.7 628.2M405.9 697.1L288.6 612.9M405.9 697.1L285.9 597.7M379.6 693.5L347.9 683.5M379.6 693.5L310.4 656.0M379.6 693.5L302.3 642.3M379.6 693.5L293.7 628.2M362.3 688.6L335.8 676.2M362.3 688.6L310.4 656.0M362.3 688.6L302.3 642.3M362.3 688.6L293.7 628.2M362.3 688.6L285.9 597.7M347.9 683.5L322.0 666.7M347.9 683.5L310.4 656.0M347.9 683.5L302.3 642.3M347.9 683.5L293.7 628.2M347.9 683.5L288.6 612.9M322.0 666.7L302.3 642.3M322.0 666.7L288.6 612.9M322.0 666.7L285.9 597.7M310.4 656.0L288.6 612.9M302.3 642.3L288.6 612.9M302.3 642.3L285.9 597.7M498.8 621.2L492.5 635.8M492.5 635.8L486.3 648.5M486.3 648.5L477.8 660.1M477.8 660.1L466.2 671.3M466.2 671.3L456.0 679.1M456.0 679.1L440.8 685.5M440.8 685.5L421.7 691.8M421.7 691.8L405.9 697.1M405.9 697.1L379.6 693.5M379.6 693.5L362.3 688.6M362.3 688.6L347.9 683.5M347.9 683.5L335.8 676.2M335.8 676.2L322.0 666.7M322.0 666.7L310.4 656.0M310.4 656.0L302.3 642.3M302.3 642.3L293.7 628.2M293.7 628.2L288.6 612.9M288.6 612.9L285.9 597.7M293.7 550.7L473.0 518.2M293.7 550.7L484.0 530.6M293.7 550.7L446.8 499.0M301.3 538.0L473.0 518.2M301.3 538.0L484.0 530.6M301.3 538.0L446.8 499.0M310.0 523.8L473.0 518.2M310.0 523.8L484.0 530.6M321.3 512.0L473.0 518.2M321.3 512.0L484.0 530.6M335.5 503.0L473.0 518.2M335.5 503.0L484.0 530.6M350.0 493.0L473.0 518.2M350.0 493.0L484.0 530.6M350.0 493.0L446.8 499.0M301.3 538.0L310.0 523.8M293.7 550.7L301.3 538.0M310.0 523.8L321.3 512.0M415.6 487.0L484.0 530.6M366.2 485.0L473.0 518.2M398.9 484.5L484.0 530.6M415.6 487.0L473.0 518.2" stroke="#ff3535" stroke-opacity="0.85" stroke-width="0.8" fill="none"/>
<path d="M502.0 574.0L285.9 597.7M502.0 574.0L288.6 612.9M502.0 574.0L293.7 628.2M502.0 574.0L302.3 642.3M502.0 574.0L310.4 656.0M502.0 574.0L322.0 666.7M502.4 589.8L285.9 597.7M502.4 589.8L288.6 612.9M502.4 589.8L502.5 605.5M496.7 559.1L285.9 597.7M496.7 559.1L288.6 612.9M496.7 559.1L293.7 628.2M496.7 559.1L302.3 642.3M496.7 559.1L310.4 656.0M496.7 559.1L335.8 676.2M491.4 544.3L288.6 612.9M491.4 544.3L293.7 628.2M491.4 544.3L302.3 642.3M491.4 544.3L322.0 666.7M491.4 544.3L347.9 683.5M491.4 544.3L362.3 688.6M484.0 530.6L302.3 642.3M484.0 530.6L322.0 666.7M484.0 530.6L347.9 683.5M484.0 530.6L379.6 693.5M415.6 487.0L288.6 612.9M415.6 487.0L293.7 628.2M415.6 487.0L302.3 642.3M415.6 487.0L310.4 656.0M415.6 487.0L322.0 666.7M415.6 487.0L335.8 676.2M415.6 487.0L347.9 683.5M415.6 487.0L362.3 688.6M415.6 487.0L379.6 693.5M415.6 487.0L405.9 697.1M446.8 499.0L293.7 628.2M446.8 499.0L310.4 656.0M446.8 499.0L335.8 676.2M446.8 499.0L362.3 688.6M310.0 523.8L322.0 666.7M310.0 523.8L335.8 676.2M310.0 523.8L347.9 683.5M310.0 523.8L362.3 688.6M301.3 538.0L322.0 666.7M301.3 538.0L335.8 676.2M301.3 538.0L347.9 683.5M293.7 550.7L335.8 676.2M293.7 550.7L362.3 688.6M335.5 503.0L347.9 683.5M335.5 503.0L335.8 676.2M321.3 512.0L322.0 666.7" stroke="#2f5fea" stroke-opacity="0.9" stroke-width="0.9" fill="none"/>
<path d="M502.0 574.0L285.9 597.7M502.0 574.0L288.6 612.9M502.4 589.8L288.6 612.9M496.7 559.1L285.9 597.7" stroke="#2f5fea" stroke-opacity="0.9" stroke-width="1.8" fill="none"/>
<circle cx="502.4" cy="589.8" r="6.4" fill="#ffff3c"/>
<g fill="#f9c8c8"><circle cx="366.2" cy="485.0" r="6.5"/><circle cx="382.5" cy="480.5" r="6.5"/><circle cx="398.9" cy="484.5" r="6.5"/><circle cx="415.6" cy="487.0" r="6.5"/><circle cx="431.2" cy="493.1" r="6.5"/><circle cx="446.8" cy="499.0" r="6.5"/><circle cx="460.9" cy="507.1" r="6.5"/><circle cx="473.0" cy="518.2" r="6.5"/><circle cx="484.0" cy="530.6" r="6.5"/><circle cx="491.4" cy="544.3" r="6.5"/><circle cx="496.7" cy="559.1" r="6.5"/><circle cx="502.0" cy="574.0" r="6.5"/><circle cx="286.5" cy="581.8" r="6.5"/><circle cx="289.0" cy="566.4" r="6.5"/><circle cx="293.7" cy="550.7" r="6.5"/><circle cx="301.3" cy="538.0" r="6.5"/><circle cx="310.0" cy="523.8" r="6.5"/><circle cx="321.3" cy="512.0" r="6.5"/><circle cx="335.5" cy="503.0" r="6.5"/><circle cx="350.0" cy="493.0" r="6.5"/></g>
<path fill="#92c8f7" d="M496.8 605.5L499.5 599.4L505.5 599.4L508.2 605.5L505.5 611.6L499.5 611.6ZM493.1 621.2L495.8 615.1L501.8 615.1L504.5 621.2L501.8 627.3L495.8 627.3ZM486.8 635.8L489.5 629.7L495.5 629.7L498.2 635.8L495.5 641.9L489.5 641.9ZM480.6 648.5L483.3 642.4L489.3 642.4L492.0 648.5L489.3 654.6L483.3 654.6ZM472.1 660.1L474.8 654.0L480.8 654.0L483.5 660.1L480.8 666.2L474.8 666.2ZM460.5 671.3L463.2 665.2L469.2 665.2L471.9 671.3L469.2 677.4L463.2 677.4ZM450.3 679.1L453.0 673.0L459.0 673.0L461.7 679.1L459.0 685.2L453.0 685.2ZM435.1 685.5L437.8 679.4L443.8 679.4L446.5 685.5L443.8 691.6L437.8 691.6ZM416.0 691.8L418.7 685.7L424.7 685.7L427.4 691.8L424.7 697.9L418.7 697.9ZM400.2 697.1L402.9 691.0L408.9 691.0L411.6 697.1L408.9 703.2L402.9 703.2ZM373.9 693.5L376.6 687.4L382.6 687.4L385.3 693.5L382.6 699.6L376.6 699.6ZM356.6 688.6L359.3 682.5L365.3 682.5L368.0 688.6L365.3 694.7L359.3 694.7ZM342.2 683.5L344.9 677.4L350.9 677.4L353.6 683.5L350.9 689.6L344.9 689.6ZM330.1 676.2L332.8 670.1L338.8 670.1L341.5 676.2L338.8 682.3L332.8 682.3ZM316.3 666.7L319.0 660.6L325.0 660.6L327.7 666.7L325.0 672.8L319.0 672.8ZM304.7 656.0L307.4 649.9L313.4 649.9L316.1 656.0L313.4 662.1L307.4 662.1ZM296.6 642.3L299.3 636.2L305.3 636.2L308.0 642.3L305.3 648.4L299.3 648.4ZM288.0 628.2L290.7 622.1L296.7 622.1L299.4 628.2L296.7 634.3L290.7 634.3ZM282.9 612.9L285.6 606.8L291.6 606.8L294.3 612.9L291.6 619.0L285.6 619.0ZM280.2 597.7L282.9 591.6L288.9 591.6L291.6 597.7L288.9 603.8L282.9 603.8Z"/>
<g font-size="5.5" font-weight="bold" text-anchor="middle" fill="#000" stroke="#000" stroke-width="0.22">
<text x="366.2" y="486.9">ANK1</text>
<text x="382.5" y="482.4">ATPIF1</text>
<text x="398.9" y="487.9">APOC1</text>
<text x="415.6" y="488.9">NFIA</text>
<text x="431.2" y="495.0">MPC2</text>
<text x="446.8" y="500.9">REXO2</text>
<text x="460.9" y="509.0">TFR2</text>
<text x="473.0" y="520.1">BLVRB</text>
<text x="484.0" y="532.5">KCNH2</text>
<text x="491.4" y="546.2">SMIM1</text>
<text x="496.7" y="561.0">CNRIP1</text>
<text x="502.0" y="575.9">KLF1</text>
<text x="502.4" y="591.7">GATA1</text>
<text x="502.5" y="607.4">ITM2C</text>
<text x="498.8" y="623.1">HLA-B</text>
<text x="492.5" y="637.7">HLA-DPA1</text>
<text x="486.3" y="650.4">HLA-DRB1</text>
<text x="477.8" y="662.0">LCP1</text>
<text x="466.2" y="673.2">PSMB9</text>
<text x="456.0" y="681.0">LSP1</text>
<text x="440.8" y="687.4">PYCARD</text>
<text x="421.7" y="693.7">GLIPR1</text>
<text x="405.9" y="699.0">HLA-DRA</text>
<text x="379.6" y="695.4">HLA-DPB1</text>
<text x="362.3" y="690.5">PKM</text>
<text x="347.9" y="685.4">ACTG1</text>
<text x="335.8" y="678.1">B2M</text>
<text x="322.0" y="668.6">CD74</text>
<text x="310.4" y="657.9">VIM</text>
<text x="302.3" y="644.2">CORO1A</text>
<text x="293.7" y="630.1">CYBA</text>
<text x="288.6" y="614.8">TMSB4X</text>
<text x="285.9" y="599.6">SELL</text>
<text x="286.5" y="583.7">ALDH1A1</text>
<text x="289.0" y="568.3">LINC00152</text>
<text x="293.7" y="552.6">CA1</text>
<text x="301.3" y="539.9">HBB</text>
<text x="310.0" y="525.7">AHSP</text>
<text x="321.3" y="513.9">PRDX2</text>
<text x="335.5" y="504.9">TMEM14C</text>
<text x="350.0" y="494.9">FAM178B</text>
</g>
<rect x="445.5" y="707.5" width="64" height="5.8" fill="url(#gcor)" stroke="#111" stroke-width="0.7"/>
<text x="446.2" y="725.0" font-size="10.5" text-anchor="middle" fill="#111" textLength="15" lengthAdjust="spacingAndGlyphs">-0.5</text>
<text x="477.5" y="725.0" font-size="10.5" text-anchor="middle" fill="#111" textLength="5" lengthAdjust="spacingAndGlyphs">0</text>
<text x="509.3" y="725.0" font-size="10.5" text-anchor="middle" fill="#111" textLength="4" lengthAdjust="spacingAndGlyphs">1</text>
<text x="477.2" y="737.0" font-size="10.5" text-anchor="middle" fill="#111" textLength="33.5" lengthAdjust="spacingAndGlyphs">Correlation</text>
<path fill="#000" d="M0 0H520V1.1H0Z M0 0H1.7V746H0Z M518.7 0H520V746H518.7Z M0 744H520V746H0Z"/>
</svg>
</body></html>
